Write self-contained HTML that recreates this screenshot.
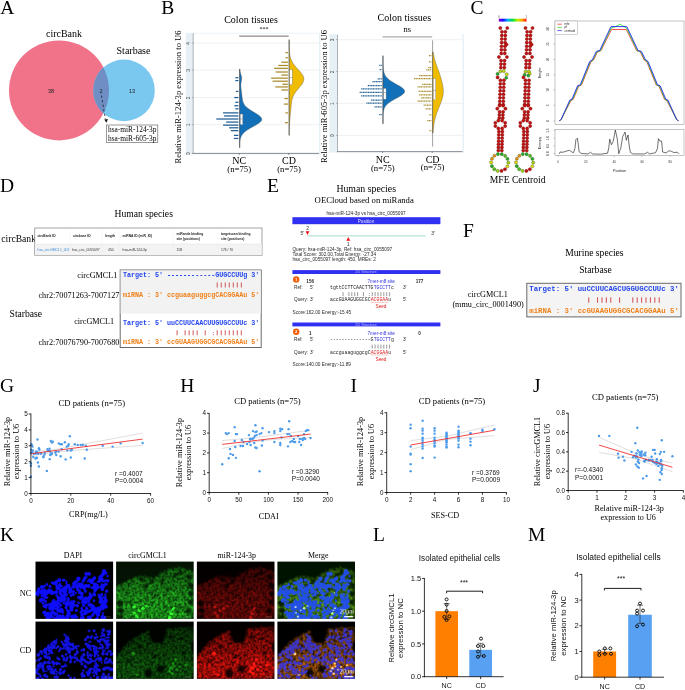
<!DOCTYPE html>
<html><head><meta charset="utf-8"><title>Figure</title>
<style>html,body{margin:0;padding:0;background:#fff;}svg{display:block;will-change:transform;}text{white-space:pre;}</style>
</head><body>
<svg width="685" height="690" viewBox="0 0 685 690">
<rect width="685" height="690" fill="#fff"/>
<text x="0.20" y="14.00" font-family="Liberation Serif" font-size="19.5" text-anchor="start" fill="#000">A</text>
<text x="161.20" y="14.00" font-family="Liberation Serif" font-size="19.5" text-anchor="start" fill="#000">B</text>
<text x="470.40" y="14.00" font-family="Liberation Serif" font-size="19.5" text-anchor="start" fill="#000">C</text>
<circle cx="59" cy="90.4" r="50" fill="#F0738A"/>
<circle cx="124" cy="90.4" r="30.8" fill="#7AC8F0"/>
<clipPath id="cpA"><circle cx="59" cy="90.4" r="50"/></clipPath>
<circle cx="124" cy="90.4" r="30.8" fill="#6F8FC4" clip-path="url(#cpA)"/>
<text x="64.00" y="37.00" font-family="Liberation Serif" font-size="10" text-anchor="middle" fill="#000">circBank</text>
<text x="133.50" y="54.00" font-family="Liberation Serif" font-size="10" text-anchor="middle" fill="#000">Starbase</text>
<text x="51.00" y="93.00" font-family="Liberation Sans" font-size="5.6" text-anchor="middle" fill="#222">38</text>
<text x="101.00" y="93.00" font-family="Liberation Sans" font-size="5.6" text-anchor="middle" fill="#222">2</text>
<text x="132.00" y="93.00" font-family="Liberation Sans" font-size="5.6" text-anchor="middle" fill="#222">13</text>
<path d="M101.5 95.5 L105.3 119" stroke="#111" stroke-width="0.7" stroke-dasharray="2.4 2.2" fill="none"/>
<path d="M104.3 119.5 L107.9 119.1 L106.4 122.8 Z" fill="#111"/>
<rect x="106.30" y="125.00" width="51.50" height="17.30" fill="#fff" stroke="#555" stroke-width="0.6"/>
<text x="108.00" y="132.40" font-family="Liberation Serif" font-size="7.4" text-anchor="start" fill="#000">hsa-miR-124-3p</text>
<text x="108.00" y="141.00" font-family="Liberation Serif" font-size="7.4" text-anchor="start" fill="#000">hsa-miR-605-3p</text>
<rect x="185.80" y="32.80" width="134.70" height="121.60" fill="#E6F0F5" stroke="none" stroke-width="1"/>
<rect x="193.00" y="33.60" width="126.00" height="119.80" fill="#fff" stroke="none" stroke-width="1"/>
<line x1="193.00" y1="43.00" x2="319.00" y2="43.00" stroke="#E4E6E8" stroke-width="0.6"/>
<text x="189.70" y="43.30" font-family="Liberation Sans" font-size="4.8" text-anchor="middle" fill="#444" transform="rotate(-90 189.70 43.30)">4</text>
<line x1="191.80" y1="43.00" x2="193.00" y2="43.00" stroke="#667" stroke-width="0.5"/>
<line x1="193.00" y1="70.00" x2="319.00" y2="70.00" stroke="#E4E6E8" stroke-width="0.6"/>
<text x="189.70" y="70.30" font-family="Liberation Sans" font-size="4.8" text-anchor="middle" fill="#444" transform="rotate(-90 189.70 70.30)">3</text>
<line x1="191.80" y1="70.00" x2="193.00" y2="70.00" stroke="#667" stroke-width="0.5"/>
<line x1="193.00" y1="97.60" x2="319.00" y2="97.60" stroke="#E4E6E8" stroke-width="0.6"/>
<text x="189.70" y="97.90" font-family="Liberation Sans" font-size="4.8" text-anchor="middle" fill="#444" transform="rotate(-90 189.70 97.90)">2</text>
<line x1="191.80" y1="97.60" x2="193.00" y2="97.60" stroke="#667" stroke-width="0.5"/>
<line x1="193.00" y1="124.60" x2="319.00" y2="124.60" stroke="#E4E6E8" stroke-width="0.6"/>
<text x="189.70" y="124.90" font-family="Liberation Sans" font-size="4.8" text-anchor="middle" fill="#444" transform="rotate(-90 189.70 124.90)">1</text>
<line x1="191.80" y1="124.60" x2="193.00" y2="124.60" stroke="#667" stroke-width="0.5"/>
<line x1="193.00" y1="153.40" x2="319.00" y2="153.40" stroke="#E4E6E8" stroke-width="0.6"/>
<text x="189.70" y="153.70" font-family="Liberation Sans" font-size="4.8" text-anchor="middle" fill="#444" transform="rotate(-90 189.70 153.70)">0</text>
<line x1="191.80" y1="153.40" x2="193.00" y2="153.40" stroke="#667" stroke-width="0.5"/>
<line x1="193.20" y1="33.30" x2="193.20" y2="153.40" stroke="#70787E" stroke-width="0.55"/>
<line x1="192.70" y1="153.40" x2="319.00" y2="153.40" stroke="#59626A" stroke-width="0.7"/>
<line x1="239.20" y1="153.40" x2="239.20" y2="154.90" stroke="#3C4650" stroke-width="0.6"/>
<line x1="288.70" y1="153.40" x2="288.70" y2="154.90" stroke="#3C4650" stroke-width="0.6"/>
<line x1="239.20" y1="36.10" x2="288.70" y2="36.10" stroke="#3A2C2A" stroke-width="0.7"/>
<text x="263.95" y="31.30" font-family="Liberation Serif" font-size="6" text-anchor="middle" fill="#000">***</text>
<path d="M239.60 69.00 L239.90 69.00 L239.97 69.98 L240.08 70.97 L240.24 71.95 L240.47 72.94 L240.74 73.92 L241.04 74.90 L241.33 75.89 L241.56 76.87 L241.69 77.85 L241.70 78.84 L241.61 79.82 L241.44 80.80 L241.25 81.79 L241.08 82.77 L240.95 83.76 L240.89 84.74 L240.89 85.72 L240.93 86.71 L241.01 87.69 L241.11 88.67 L241.22 89.66 L241.34 90.64 L241.46 91.63 L241.58 92.61 L241.69 93.59 L241.80 94.58 L241.91 95.56 L242.03 96.54 L242.15 97.53 L242.29 98.51 L242.45 99.50 L242.65 100.48 L242.91 101.46 L243.25 102.45 L243.68 103.43 L244.22 104.41 L244.91 105.40 L245.75 106.38 L246.75 107.37 L247.93 108.35 L249.27 109.33 L250.75 110.32 L252.34 111.30 L253.99 112.28 L255.65 113.27 L257.24 114.25 L258.69 115.24 L259.92 116.22 L260.88 117.20 L261.51 118.19 L261.76 119.17 L261.62 120.16 L261.10 121.14 L260.21 122.12 L259.01 123.11 L257.55 124.09 L255.90 125.07 L254.13 126.06 L252.33 127.04 L250.55 128.02 L248.86 129.01 L247.29 129.99 L245.88 130.98 L244.64 131.96 L243.59 132.94 L242.71 133.93 L241.99 134.91 L241.42 135.89 L240.98 136.88 L240.64 137.86 L240.39 138.85 L240.20 139.83 L240.07 140.81 L239.98 141.80 L239.92 142.78 L239.87 143.76 L239.85 144.75 L239.83 145.73 L239.82 146.72 L239.81 147.70 L239.60 147.70 Z" fill="#1270B8" stroke="#555" stroke-width="0.4"/>
<line x1="239.60" y1="69.00" x2="239.60" y2="147.70" stroke="#444" stroke-width="0.5"/>
<path d="M289.10 39.70 L289.30 39.70 L289.30 40.90 L289.31 42.09 L289.31 43.29 L289.32 44.48 L289.33 45.68 L289.35 46.88 L289.37 48.07 L289.41 49.27 L289.46 50.47 L289.53 51.66 L289.63 52.86 L289.76 54.06 L289.94 55.25 L290.17 56.45 L290.46 57.64 L290.83 58.84 L291.28 60.04 L291.82 61.23 L292.47 62.43 L293.21 63.62 L294.06 64.82 L295.00 66.02 L296.02 67.21 L297.09 68.41 L298.20 69.61 L299.30 70.80 L300.36 72.00 L301.34 73.19 L302.21 74.39 L302.92 75.59 L303.44 76.78 L303.76 77.98 L303.85 79.18 L303.73 80.37 L303.38 81.57 L302.84 82.77 L302.13 83.96 L301.28 85.16 L300.33 86.35 L299.32 87.55 L298.29 88.75 L297.28 89.94 L296.32 91.14 L295.43 92.34 L294.63 93.53 L293.93 94.73 L293.33 95.92 L292.82 97.12 L292.41 98.32 L292.09 99.51 L291.82 100.71 L291.62 101.91 L291.45 103.10 L291.31 104.30 L291.19 105.49 L291.08 106.69 L290.98 107.89 L290.87 109.08 L290.76 110.28 L290.64 111.48 L290.52 112.67 L290.40 113.87 L290.28 115.06 L290.16 116.26 L290.04 117.46 L289.93 118.65 L289.83 119.85 L289.74 121.05 L289.66 122.24 L289.59 123.44 L289.53 124.63 L289.48 125.83 L289.44 127.03 L289.41 128.22 L289.38 129.42 L289.36 130.62 L289.34 131.81 L289.33 133.01 L289.32 134.20 L289.32 135.40 L289.10 135.40 Z" fill="#F0BC00" stroke="#555" stroke-width="0.4"/>
<line x1="289.10" y1="39.70" x2="289.10" y2="135.40" stroke="#444" stroke-width="0.5"/>
<line x1="235.33" y1="77.73" x2="238.40" y2="77.73" stroke="#1F5E96" stroke-width="1.25"/>
<line x1="235.33" y1="80.59" x2="238.40" y2="80.59" stroke="#1F5E96" stroke-width="1.25"/>
<line x1="235.95" y1="91.42" x2="238.40" y2="91.42" stroke="#1F5E96" stroke-width="1.25"/>
<line x1="234.31" y1="97.55" x2="238.40" y2="97.55" stroke="#1F5E96" stroke-width="1.25"/>
<line x1="235.33" y1="102.25" x2="238.40" y2="102.25" stroke="#1F5E96" stroke-width="1.25"/>
<line x1="234.31" y1="105.73" x2="238.40" y2="105.73" stroke="#1F5E96" stroke-width="1.25"/>
<line x1="235.33" y1="108.79" x2="238.40" y2="108.79" stroke="#1F5E96" stroke-width="1.25"/>
<line x1="223.07" y1="112.88" x2="238.40" y2="112.88" stroke="#1F5E96" stroke-width="1.25"/>
<line x1="224.09" y1="115.95" x2="238.40" y2="115.95" stroke="#1F5E96" stroke-width="1.25"/>
<line x1="216.33" y1="119.01" x2="238.40" y2="119.01" stroke="#1F5E96" stroke-width="1.25"/>
<line x1="226.14" y1="122.08" x2="238.40" y2="122.08" stroke="#1F5E96" stroke-width="1.25"/>
<line x1="223.07" y1="125.14" x2="238.40" y2="125.14" stroke="#1F5E96" stroke-width="1.25"/>
<line x1="229.20" y1="127.80" x2="238.40" y2="127.80" stroke="#1F5E96" stroke-width="1.25"/>
<line x1="230.84" y1="130.66" x2="238.40" y2="130.66" stroke="#1F5E96" stroke-width="1.25"/>
<line x1="233.90" y1="135.36" x2="238.40" y2="135.36" stroke="#1F5E96" stroke-width="1.25"/>
<line x1="233.90" y1="138.43" x2="238.40" y2="138.43" stroke="#1F5E96" stroke-width="1.25"/>
<line x1="285.45" y1="52.59" x2="287.90" y2="52.59" stroke="#A88C2A" stroke-width="1.25"/>
<line x1="285.45" y1="57.70" x2="287.90" y2="57.70" stroke="#A88C2A" stroke-width="1.25"/>
<line x1="281.36" y1="62.20" x2="287.90" y2="62.20" stroke="#A88C2A" stroke-width="1.25"/>
<line x1="278.29" y1="65.47" x2="287.90" y2="65.47" stroke="#A88C2A" stroke-width="1.25"/>
<line x1="274.21" y1="68.33" x2="287.90" y2="68.33" stroke="#A88C2A" stroke-width="1.25"/>
<line x1="275.64" y1="72.01" x2="287.90" y2="72.01" stroke="#A88C2A" stroke-width="1.25"/>
<line x1="281.36" y1="75.07" x2="287.90" y2="75.07" stroke="#A88C2A" stroke-width="1.25"/>
<line x1="271.14" y1="78.14" x2="287.90" y2="78.14" stroke="#A88C2A" stroke-width="1.25"/>
<line x1="272.57" y1="81.20" x2="287.90" y2="81.20" stroke="#A88C2A" stroke-width="1.25"/>
<line x1="282.38" y1="84.27" x2="287.90" y2="84.27" stroke="#A88C2A" stroke-width="1.25"/>
<line x1="275.23" y1="86.93" x2="287.90" y2="86.93" stroke="#A88C2A" stroke-width="1.25"/>
<line x1="281.36" y1="89.99" x2="287.90" y2="89.99" stroke="#A88C2A" stroke-width="1.25"/>
<line x1="284.43" y1="98.57" x2="287.90" y2="98.57" stroke="#A88C2A" stroke-width="1.25"/>
<line x1="283.81" y1="104.09" x2="287.90" y2="104.09" stroke="#A88C2A" stroke-width="1.25"/>
<line x1="285.45" y1="112.88" x2="287.90" y2="112.88" stroke="#A88C2A" stroke-width="1.25"/>
<line x1="285.04" y1="122.69" x2="287.90" y2="122.69" stroke="#A88C2A" stroke-width="1.25"/>
<rect x="240.20" y="114.00" width="2.60" height="10.60" fill="#fff" stroke="#666" stroke-width="0.35"/>
<line x1="240.20" y1="119.00" x2="242.80" y2="119.00" stroke="#666" stroke-width="0.4"/>
<rect x="289.70" y="69.60" width="2.60" height="15.10" fill="#fff" stroke="#666" stroke-width="0.35"/>
<line x1="289.70" y1="77.50" x2="292.30" y2="77.50" stroke="#666" stroke-width="0.4"/>
<text x="251.00" y="23.20" font-family="Liberation Serif" font-size="10" text-anchor="middle" fill="#000">Colon tissues</text>
<text x="181.30" y="97.00" font-family="Liberation Serif" font-size="8.6" text-anchor="middle" fill="#000" transform="rotate(-90 181.30 97.00)">Relative miR-124-3p expression to U6</text>
<text x="239.20" y="163.80" font-family="Liberation Serif" font-size="10" text-anchor="middle" fill="#000">NC</text>
<text x="239.20" y="171.60" font-family="Liberation Serif" font-size="8.7" text-anchor="middle" fill="#000">(n=75)</text>
<text x="289.00" y="163.80" font-family="Liberation Serif" font-size="10" text-anchor="middle" fill="#000">CD</text>
<text x="289.00" y="172.20" font-family="Liberation Serif" font-size="8.7" text-anchor="middle" fill="#000">(n=75)</text>
<rect x="329.20" y="34.30" width="134.80" height="118.30" fill="#E6F0F5" stroke="none" stroke-width="1"/>
<rect x="337.30" y="34.20" width="125.20" height="117.40" fill="#fff" stroke="none" stroke-width="1"/>
<line x1="337.30" y1="39.70" x2="462.50" y2="39.70" stroke="#E4E6E8" stroke-width="0.6"/>
<text x="334.00" y="40.00" font-family="Liberation Sans" font-size="4.8" text-anchor="middle" fill="#444" transform="rotate(-90 334.00 40.00)">3</text>
<line x1="336.10" y1="39.70" x2="337.30" y2="39.70" stroke="#667" stroke-width="0.5"/>
<line x1="337.30" y1="71.60" x2="462.50" y2="71.60" stroke="#E4E6E8" stroke-width="0.6"/>
<text x="334.00" y="71.90" font-family="Liberation Sans" font-size="4.8" text-anchor="middle" fill="#444" transform="rotate(-90 334.00 71.90)">2</text>
<line x1="336.10" y1="71.60" x2="337.30" y2="71.60" stroke="#667" stroke-width="0.5"/>
<line x1="337.30" y1="103.30" x2="462.50" y2="103.30" stroke="#E4E6E8" stroke-width="0.6"/>
<text x="334.00" y="103.60" font-family="Liberation Sans" font-size="4.8" text-anchor="middle" fill="#444" transform="rotate(-90 334.00 103.60)">1</text>
<line x1="336.10" y1="103.30" x2="337.30" y2="103.30" stroke="#667" stroke-width="0.5"/>
<line x1="337.30" y1="135.40" x2="462.50" y2="135.40" stroke="#E4E6E8" stroke-width="0.6"/>
<text x="334.00" y="135.70" font-family="Liberation Sans" font-size="4.8" text-anchor="middle" fill="#444" transform="rotate(-90 334.00 135.70)">0</text>
<line x1="336.10" y1="135.40" x2="337.30" y2="135.40" stroke="#667" stroke-width="0.5"/>
<line x1="337.50" y1="34.80" x2="337.50" y2="151.60" stroke="#70787E" stroke-width="0.55"/>
<line x1="337.00" y1="151.60" x2="462.50" y2="151.60" stroke="#59626A" stroke-width="0.7"/>
<line x1="382.50" y1="151.60" x2="382.50" y2="153.10" stroke="#3C4650" stroke-width="0.6"/>
<line x1="432.20" y1="151.60" x2="432.20" y2="153.10" stroke="#3C4650" stroke-width="0.6"/>
<line x1="382.50" y1="36.90" x2="432.20" y2="36.90" stroke="#ABABAB" stroke-width="1.3"/>
<text x="407.35" y="31.70" font-family="Liberation Serif" font-size="8.5" text-anchor="middle" fill="#000">ns</text>
<path d="M382.90 55.70 L383.10 55.70 L383.10 56.55 L383.10 57.40 L383.10 58.25 L383.10 59.11 L383.11 59.96 L383.11 60.81 L383.12 61.66 L383.12 62.51 L383.13 63.36 L383.15 64.21 L383.17 65.06 L383.19 65.92 L383.23 66.77 L383.27 67.62 L383.33 68.47 L383.41 69.32 L383.52 70.17 L383.66 71.02 L383.83 71.87 L384.06 72.72 L384.34 73.58 L384.68 74.43 L385.11 75.28 L385.64 76.13 L386.26 76.98 L387.01 77.83 L387.87 78.68 L388.87 79.53 L389.99 80.39 L391.23 81.24 L392.59 82.09 L394.03 82.94 L395.53 83.79 L397.06 84.64 L398.57 85.49 L400.01 86.34 L401.33 87.20 L402.49 88.05 L403.44 88.90 L404.14 89.75 L404.55 90.60 L404.66 91.45 L404.47 92.30 L403.97 93.16 L403.19 94.01 L402.16 94.86 L400.93 95.71 L399.53 96.56 L398.02 97.41 L396.46 98.26 L394.88 99.11 L393.34 99.97 L391.87 100.82 L390.50 101.67 L389.25 102.52 L388.14 103.37 L387.17 104.22 L386.34 105.07 L385.64 105.92 L385.06 106.78 L384.59 107.63 L384.22 108.48 L383.93 109.33 L383.70 110.18 L383.53 111.03 L383.41 111.88 L383.31 112.73 L383.25 113.58 L383.20 114.44 L383.17 115.29 L383.14 116.14 L383.13 116.99 L383.12 117.84 L383.11 118.69 L383.11 119.54 L383.10 120.39 L383.10 121.25 L383.10 122.10 L383.10 122.95 L383.10 123.80 L382.90 123.80 Z" fill="#1270B8" stroke="#555" stroke-width="0.4"/>
<line x1="382.90" y1="55.70" x2="382.90" y2="123.80" stroke="#444" stroke-width="0.5"/>
<path d="M432.60 52.00 L433.33 52.00 L433.44 53.01 L433.57 54.02 L433.72 55.04 L433.90 56.05 L434.10 57.06 L434.32 58.08 L434.57 59.09 L434.85 60.10 L435.15 61.11 L435.47 62.12 L435.81 63.14 L436.16 64.15 L436.53 65.16 L436.90 66.17 L437.28 67.19 L437.65 68.20 L438.03 69.21 L438.39 70.22 L438.75 71.24 L439.10 72.25 L439.44 73.26 L439.76 74.28 L440.08 75.29 L440.39 76.30 L440.69 77.31 L440.99 78.33 L441.28 79.34 L441.56 80.35 L441.83 81.36 L442.08 82.38 L442.33 83.39 L442.55 84.40 L442.76 85.41 L442.93 86.42 L443.08 87.44 L443.20 88.45 L443.29 89.46 L443.33 90.47 L443.34 91.49 L443.31 92.50 L443.23 93.51 L443.12 94.53 L442.96 95.54 L442.76 96.55 L442.53 97.56 L442.26 98.58 L441.97 99.59 L441.64 100.60 L441.29 101.61 L440.92 102.62 L440.53 103.64 L440.13 104.65 L439.72 105.66 L439.30 106.67 L438.89 107.69 L438.47 108.70 L438.06 109.71 L437.67 110.72 L437.28 111.74 L436.90 112.75 L436.54 113.76 L436.20 114.78 L435.88 115.79 L435.57 116.80 L435.29 117.81 L435.02 118.83 L434.77 119.84 L434.55 120.85 L434.34 121.86 L434.15 122.88 L433.98 123.89 L433.83 124.90 L433.69 125.91 L433.57 126.92 L433.46 127.94 L433.37 128.95 L433.28 129.96 L433.21 130.97 L433.15 131.99 L433.09 133.00 L432.60 133.00 Z" fill="#F0BC00" stroke="#555" stroke-width="0.4"/>
<line x1="432.60" y1="40.30" x2="432.60" y2="146.70" stroke="#444" stroke-width="0.5"/>
<line x1="379.25" y1="65.47" x2="381.70" y2="65.47" stroke="#1F5E96" stroke-width="1.25" stroke-dasharray="1.2 0.45"/>
<line x1="379.66" y1="69.55" x2="381.70" y2="69.55" stroke="#1F5E96" stroke-width="1.25" stroke-dasharray="1.2 0.45"/>
<line x1="377.61" y1="78.75" x2="381.70" y2="78.75" stroke="#1F5E96" stroke-width="1.25" stroke-dasharray="1.2 0.45"/>
<line x1="372.50" y1="81.61" x2="381.70" y2="81.61" stroke="#1F5E96" stroke-width="1.25" stroke-dasharray="1.2 0.45"/>
<line x1="367.80" y1="85.70" x2="381.70" y2="85.70" stroke="#1F5E96" stroke-width="1.25" stroke-dasharray="1.2 0.45"/>
<line x1="361.26" y1="88.97" x2="381.70" y2="88.97" stroke="#1F5E96" stroke-width="1.25" stroke-dasharray="1.2 0.45"/>
<line x1="359.63" y1="92.44" x2="381.70" y2="92.44" stroke="#1F5E96" stroke-width="1.25" stroke-dasharray="1.2 0.45"/>
<line x1="361.26" y1="95.92" x2="381.70" y2="95.92" stroke="#1F5E96" stroke-width="1.25" stroke-dasharray="1.2 0.45"/>
<line x1="371.07" y1="100.01" x2="381.70" y2="100.01" stroke="#1F5E96" stroke-width="1.25" stroke-dasharray="1.2 0.45"/>
<line x1="366.37" y1="103.07" x2="381.70" y2="103.07" stroke="#1F5E96" stroke-width="1.25" stroke-dasharray="1.2 0.45"/>
<line x1="374.55" y1="106.75" x2="381.70" y2="106.75" stroke="#1F5E96" stroke-width="1.25" stroke-dasharray="1.2 0.45"/>
<line x1="379.25" y1="114.52" x2="381.70" y2="114.52" stroke="#1F5E96" stroke-width="1.25" stroke-dasharray="1.2 0.45"/>
<line x1="428.95" y1="55.66" x2="431.40" y2="55.66" stroke="#A88C2A" stroke-width="1.25" stroke-dasharray="1.2 0.45"/>
<line x1="428.95" y1="61.79" x2="431.40" y2="61.79" stroke="#A88C2A" stroke-width="1.25" stroke-dasharray="1.2 0.45"/>
<line x1="428.33" y1="67.51" x2="431.40" y2="67.51" stroke="#A88C2A" stroke-width="1.25" stroke-dasharray="1.2 0.45"/>
<line x1="426.29" y1="69.96" x2="431.40" y2="69.96" stroke="#A88C2A" stroke-width="1.25" stroke-dasharray="1.2 0.45"/>
<line x1="419.14" y1="75.68" x2="431.40" y2="75.68" stroke="#A88C2A" stroke-width="1.25" stroke-dasharray="1.2 0.45"/>
<line x1="414.03" y1="78.55" x2="431.40" y2="78.55" stroke="#A88C2A" stroke-width="1.25" stroke-dasharray="1.2 0.45"/>
<line x1="422.20" y1="84.27" x2="431.40" y2="84.27" stroke="#A88C2A" stroke-width="1.25" stroke-dasharray="1.2 0.45"/>
<line x1="417.50" y1="86.93" x2="431.40" y2="86.93" stroke="#A88C2A" stroke-width="1.25" stroke-dasharray="1.2 0.45"/>
<line x1="418.73" y1="91.42" x2="431.40" y2="91.42" stroke="#A88C2A" stroke-width="1.25" stroke-dasharray="1.2 0.45"/>
<line x1="419.14" y1="94.90" x2="431.40" y2="94.90" stroke="#A88C2A" stroke-width="1.25" stroke-dasharray="1.2 0.45"/>
<line x1="421.18" y1="97.96" x2="431.40" y2="97.96" stroke="#A88C2A" stroke-width="1.25" stroke-dasharray="1.2 0.45"/>
<line x1="417.50" y1="101.23" x2="431.40" y2="101.23" stroke="#A88C2A" stroke-width="1.25" stroke-dasharray="1.2 0.45"/>
<line x1="423.63" y1="105.11" x2="431.40" y2="105.11" stroke="#A88C2A" stroke-width="1.25" stroke-dasharray="1.2 0.45"/>
<line x1="425.68" y1="108.79" x2="431.40" y2="108.79" stroke="#A88C2A" stroke-width="1.25" stroke-dasharray="1.2 0.45"/>
<line x1="429.36" y1="114.92" x2="431.40" y2="114.92" stroke="#A88C2A" stroke-width="1.25" stroke-dasharray="1.2 0.45"/>
<line x1="427.31" y1="120.65" x2="431.40" y2="120.65" stroke="#A88C2A" stroke-width="1.25" stroke-dasharray="1.2 0.45"/>
<line x1="429.36" y1="130.66" x2="431.40" y2="130.66" stroke="#A88C2A" stroke-width="1.25" stroke-dasharray="1.2 0.45"/>
<rect x="383.50" y="88.40" width="2.60" height="10.80" fill="#fff" stroke="#666" stroke-width="0.35"/>
<line x1="383.50" y1="92.50" x2="386.10" y2="92.50" stroke="#666" stroke-width="0.4"/>
<rect x="433.20" y="78.50" width="2.60" height="21.10" fill="#fff" stroke="#666" stroke-width="0.35"/>
<line x1="433.20" y1="90.50" x2="435.80" y2="90.50" stroke="#666" stroke-width="0.4"/>
<text x="404.40" y="21.30" font-family="Liberation Serif" font-size="10" text-anchor="middle" fill="#000">Colon tissues</text>
<text x="327.20" y="96.50" font-family="Liberation Serif" font-size="8.6" text-anchor="middle" fill="#000" transform="rotate(-90 327.20 96.50)">Relative miR-605-3p expression to U6</text>
<text x="382.80" y="162.60" font-family="Liberation Serif" font-size="10" text-anchor="middle" fill="#000">NC</text>
<text x="382.80" y="170.60" font-family="Liberation Serif" font-size="8.7" text-anchor="middle" fill="#000">(n=75)</text>
<text x="432.60" y="162.60" font-family="Liberation Serif" font-size="10" text-anchor="middle" fill="#000">CD</text>
<text x="432.60" y="169.60" font-family="Liberation Serif" font-size="8.7" text-anchor="middle" fill="#000">(n=75)</text>
<defs><linearGradient id="rb" x1="0" x2="1" y1="0" y2="0"><stop offset="0" stop-color="#9000E0"/><stop offset="0.14" stop-color="#2000FF"/><stop offset="0.32" stop-color="#00B0FF"/><stop offset="0.5" stop-color="#00E040"/><stop offset="0.68" stop-color="#C0F000"/><stop offset="0.84" stop-color="#FFA000"/><stop offset="1" stop-color="#FF1000"/></linearGradient></defs>
<rect x="498.80" y="18.70" width="27.70" height="2.90" fill="url(#rb)" stroke="none" stroke-width="1"/>
<text x="499.00" y="18.20" font-family="Liberation Sans" font-size="2.6" text-anchor="middle" fill="#333">0</text>
<text x="526.30" y="18.20" font-family="Liberation Sans" font-size="2.6" text-anchor="middle" fill="#333">1</text>
<circle cx="500.30" cy="28.00" r="1.55" fill="#C41212" stroke="#7E0606" stroke-width="0.45"/>
<circle cx="507.30" cy="28.00" r="1.55" fill="#C41212" stroke="#7E0606" stroke-width="0.45"/>
<circle cx="501.93" cy="31.80" r="1.55" fill="#C41212" stroke="#7E0606" stroke-width="0.45"/>
<circle cx="505.43" cy="31.80" r="1.55" fill="#C41212" stroke="#7E0606" stroke-width="0.45"/>
<circle cx="501.82" cy="35.40" r="1.55" fill="#C41212" stroke="#7E0606" stroke-width="0.45"/>
<circle cx="505.32" cy="35.40" r="1.55" fill="#C41212" stroke="#7E0606" stroke-width="0.45"/>
<circle cx="501.71" cy="39.00" r="1.55" fill="#C41212" stroke="#7E0606" stroke-width="0.45"/>
<circle cx="505.21" cy="39.00" r="1.55" fill="#C41212" stroke="#7E0606" stroke-width="0.45"/>
<circle cx="501.60" cy="42.60" r="1.55" fill="#C41212" stroke="#7E0606" stroke-width="0.45"/>
<circle cx="505.10" cy="42.60" r="1.55" fill="#C41212" stroke="#7E0606" stroke-width="0.45"/>
<circle cx="501.50" cy="46.20" r="1.55" fill="#C41212" stroke="#7E0606" stroke-width="0.45"/>
<circle cx="505.00" cy="46.20" r="1.55" fill="#C41212" stroke="#7E0606" stroke-width="0.45"/>
<circle cx="501.39" cy="49.80" r="1.55" fill="#C41212" stroke="#7E0606" stroke-width="0.45"/>
<circle cx="504.89" cy="49.80" r="1.55" fill="#C41212" stroke="#7E0606" stroke-width="0.45"/>
<circle cx="501.28" cy="53.40" r="1.55" fill="#C41212" stroke="#7E0606" stroke-width="0.45"/>
<circle cx="504.78" cy="53.40" r="1.55" fill="#C41212" stroke="#7E0606" stroke-width="0.45"/>
<circle cx="506.50" cy="44.50" r="1.55" fill="#C41212" stroke="#7E0606" stroke-width="0.45"/>
<circle cx="498.92" cy="57.00" r="1.55" fill="#C41212" stroke="#7E0606" stroke-width="0.45"/>
<circle cx="506.92" cy="57.00" r="1.55" fill="#C41212" stroke="#7E0606" stroke-width="0.45"/>
<circle cx="501.06" cy="60.60" r="1.55" fill="#C41212" stroke="#7E0606" stroke-width="0.45"/>
<circle cx="504.56" cy="60.60" r="1.55" fill="#C41212" stroke="#7E0606" stroke-width="0.45"/>
<circle cx="500.95" cy="64.10" r="1.55" fill="#C41212" stroke="#7E0606" stroke-width="0.45"/>
<circle cx="504.45" cy="64.10" r="1.55" fill="#C41212" stroke="#7E0606" stroke-width="0.45"/>
<circle cx="500.84" cy="67.60" r="1.55" fill="#C41212" stroke="#7E0606" stroke-width="0.45"/>
<circle cx="504.34" cy="67.60" r="1.55" fill="#C41212" stroke="#7E0606" stroke-width="0.45"/>
<circle cx="500.48" cy="71.30" r="1.55" fill="#B8D818" stroke="#4A5A10" stroke-width="0.45"/>
<circle cx="503.78" cy="71.00" r="1.55" fill="#C8DC10" stroke="#4A5A10" stroke-width="0.45"/>
<circle cx="506.68" cy="74.20" r="1.55" fill="#D0E010" stroke="#4A5A10" stroke-width="0.45"/>
<circle cx="497.58" cy="73.90" r="1.55" fill="#18A838" stroke="#4A5A10" stroke-width="0.45"/>
<circle cx="497.58" cy="77.40" r="1.55" fill="#C41212" stroke="#7E0606" stroke-width="0.45"/>
<circle cx="506.28" cy="77.80" r="1.55" fill="#18B040" stroke="#4A5A10" stroke-width="0.45"/>
<circle cx="500.46" cy="80.30" r="1.55" fill="#C41212" stroke="#7E0606" stroke-width="0.45"/>
<circle cx="503.96" cy="80.30" r="1.55" fill="#C41212" stroke="#7E0606" stroke-width="0.45"/>
<circle cx="500.35" cy="83.80" r="1.55" fill="#C41212" stroke="#7E0606" stroke-width="0.45"/>
<circle cx="503.85" cy="83.80" r="1.55" fill="#C41212" stroke="#7E0606" stroke-width="0.45"/>
<circle cx="500.24" cy="87.30" r="1.55" fill="#C41212" stroke="#7E0606" stroke-width="0.45"/>
<circle cx="503.74" cy="87.30" r="1.55" fill="#C41212" stroke="#7E0606" stroke-width="0.45"/>
<circle cx="500.14" cy="90.80" r="1.55" fill="#C41212" stroke="#7E0606" stroke-width="0.45"/>
<circle cx="503.64" cy="90.80" r="1.55" fill="#C41212" stroke="#7E0606" stroke-width="0.45"/>
<circle cx="500.03" cy="94.30" r="1.55" fill="#C41212" stroke="#7E0606" stroke-width="0.45"/>
<circle cx="503.53" cy="94.30" r="1.55" fill="#C41212" stroke="#7E0606" stroke-width="0.45"/>
<circle cx="499.92" cy="97.80" r="1.55" fill="#C41212" stroke="#7E0606" stroke-width="0.45"/>
<circle cx="503.42" cy="97.80" r="1.55" fill="#C41212" stroke="#7E0606" stroke-width="0.45"/>
<circle cx="499.82" cy="101.30" r="1.55" fill="#C41212" stroke="#7E0606" stroke-width="0.45"/>
<circle cx="503.32" cy="101.30" r="1.55" fill="#C41212" stroke="#7E0606" stroke-width="0.45"/>
<circle cx="499.71" cy="104.60" r="1.55" fill="#C41212" stroke="#7E0606" stroke-width="0.45"/>
<circle cx="503.21" cy="104.60" r="1.55" fill="#C41212" stroke="#7E0606" stroke-width="0.45"/>
<circle cx="499.59" cy="105.60" r="1.55" fill="#C41212" stroke="#7E0606" stroke-width="0.45"/>
<circle cx="503.09" cy="105.60" r="1.55" fill="#C41212" stroke="#7E0606" stroke-width="0.45"/>
<circle cx="497.24" cy="108.60" r="1.55" fill="#C41212" stroke="#7E0606" stroke-width="0.45"/>
<circle cx="505.44" cy="108.60" r="1.55" fill="#C41212" stroke="#7E0606" stroke-width="0.45"/>
<circle cx="499.59" cy="111.80" r="1.55" fill="#C41212" stroke="#7E0606" stroke-width="0.45"/>
<circle cx="503.09" cy="111.80" r="1.55" fill="#C41212" stroke="#7E0606" stroke-width="0.45"/>
<circle cx="499.40" cy="114.80" r="1.55" fill="#C41212" stroke="#7E0606" stroke-width="0.45"/>
<circle cx="502.90" cy="114.80" r="1.55" fill="#C41212" stroke="#7E0606" stroke-width="0.45"/>
<circle cx="499.31" cy="117.90" r="1.55" fill="#C41212" stroke="#7E0606" stroke-width="0.45"/>
<circle cx="502.81" cy="117.90" r="1.55" fill="#C41212" stroke="#7E0606" stroke-width="0.45"/>
<circle cx="498.37" cy="120.60" r="1.55" fill="#C41212" stroke="#7E0606" stroke-width="0.45"/>
<circle cx="502.17" cy="120.60" r="1.55" fill="#C41212" stroke="#7E0606" stroke-width="0.45"/>
<circle cx="495.37" cy="122.80" r="1.55" fill="#C41212" stroke="#7E0606" stroke-width="0.45"/>
<circle cx="505.17" cy="122.80" r="1.55" fill="#C41212" stroke="#7E0606" stroke-width="0.45"/>
<circle cx="495.37" cy="126.10" r="1.55" fill="#C41212" stroke="#7E0606" stroke-width="0.45"/>
<circle cx="505.17" cy="126.10" r="1.55" fill="#C41212" stroke="#7E0606" stroke-width="0.45"/>
<circle cx="498.37" cy="128.40" r="1.55" fill="#C41212" stroke="#7E0606" stroke-width="0.45"/>
<circle cx="502.17" cy="128.40" r="1.55" fill="#C41212" stroke="#7E0606" stroke-width="0.45"/>
<circle cx="498.89" cy="131.60" r="1.55" fill="#C41212" stroke="#7E0606" stroke-width="0.45"/>
<circle cx="502.39" cy="131.60" r="1.55" fill="#C41212" stroke="#7E0606" stroke-width="0.45"/>
<circle cx="498.79" cy="134.80" r="1.55" fill="#C41212" stroke="#7E0606" stroke-width="0.45"/>
<circle cx="502.29" cy="134.80" r="1.55" fill="#C41212" stroke="#7E0606" stroke-width="0.45"/>
<circle cx="498.70" cy="138.00" r="1.55" fill="#C41212" stroke="#7E0606" stroke-width="0.45"/>
<circle cx="502.20" cy="138.00" r="1.55" fill="#C41212" stroke="#7E0606" stroke-width="0.45"/>
<circle cx="498.60" cy="141.20" r="1.55" fill="#C41212" stroke="#7E0606" stroke-width="0.45"/>
<circle cx="502.10" cy="141.20" r="1.55" fill="#C41212" stroke="#7E0606" stroke-width="0.45"/>
<circle cx="498.50" cy="144.30" r="1.55" fill="#C41212" stroke="#7E0606" stroke-width="0.45"/>
<circle cx="502.00" cy="144.30" r="1.55" fill="#C41212" stroke="#7E0606" stroke-width="0.45"/>
<circle cx="498.41" cy="147.40" r="1.55" fill="#C41212" stroke="#7E0606" stroke-width="0.45"/>
<circle cx="501.91" cy="147.40" r="1.55" fill="#C41212" stroke="#7E0606" stroke-width="0.45"/>
<circle cx="498.32" cy="150.50" r="1.55" fill="#C41212" stroke="#7E0606" stroke-width="0.45"/>
<circle cx="501.82" cy="150.50" r="1.55" fill="#C41212" stroke="#7E0606" stroke-width="0.45"/>
<circle cx="497.88" cy="154.09" r="1.55" fill="#18B030" stroke="#4A5A10" stroke-width="0.45"/>
<circle cx="501.71" cy="154.14" r="1.55" fill="#18B030" stroke="#4A5A10" stroke-width="0.45"/>
<circle cx="505.14" cy="155.84" r="1.55" fill="#50C820" stroke="#4A5A10" stroke-width="0.45"/>
<circle cx="507.49" cy="158.86" r="1.55" fill="#18B030" stroke="#4A5A10" stroke-width="0.45"/>
<circle cx="508.30" cy="162.60" r="1.55" fill="#A0D818" stroke="#4A5A10" stroke-width="0.45"/>
<circle cx="507.41" cy="166.32" r="1.55" fill="#E8E010" stroke="#4A5A10" stroke-width="0.45"/>
<circle cx="504.98" cy="169.28" r="1.55" fill="#C41212" stroke="#7E0606" stroke-width="0.45"/>
<circle cx="501.52" cy="170.91" r="1.55" fill="#C41212" stroke="#7E0606" stroke-width="0.45"/>
<circle cx="497.69" cy="170.86" r="1.55" fill="#A0D818" stroke="#4A5A10" stroke-width="0.45"/>
<circle cx="494.26" cy="169.16" r="1.55" fill="#50C820" stroke="#4A5A10" stroke-width="0.45"/>
<circle cx="491.91" cy="166.14" r="1.55" fill="#18B030" stroke="#4A5A10" stroke-width="0.45"/>
<circle cx="491.10" cy="162.40" r="1.55" fill="#E8E010" stroke="#4A5A10" stroke-width="0.45"/>
<circle cx="491.99" cy="158.68" r="1.55" fill="#F09010" stroke="#4A5A10" stroke-width="0.45"/>
<circle cx="494.42" cy="155.72" r="1.55" fill="#F09010" stroke="#4A5A10" stroke-width="0.45"/>
<circle cx="525.50" cy="28.00" r="1.55" fill="#C41212" stroke="#7E0606" stroke-width="0.45"/>
<circle cx="532.50" cy="28.00" r="1.55" fill="#C41212" stroke="#7E0606" stroke-width="0.45"/>
<circle cx="527.13" cy="31.80" r="1.55" fill="#C41212" stroke="#7E0606" stroke-width="0.45"/>
<circle cx="530.63" cy="31.80" r="1.55" fill="#C41212" stroke="#7E0606" stroke-width="0.45"/>
<circle cx="527.01" cy="35.40" r="1.55" fill="#C41212" stroke="#7E0606" stroke-width="0.45"/>
<circle cx="530.51" cy="35.40" r="1.55" fill="#C41212" stroke="#7E0606" stroke-width="0.45"/>
<circle cx="526.89" cy="39.00" r="1.55" fill="#C41212" stroke="#7E0606" stroke-width="0.45"/>
<circle cx="530.39" cy="39.00" r="1.55" fill="#C41212" stroke="#7E0606" stroke-width="0.45"/>
<circle cx="526.77" cy="42.60" r="1.55" fill="#C41212" stroke="#7E0606" stroke-width="0.45"/>
<circle cx="530.27" cy="42.60" r="1.55" fill="#C41212" stroke="#7E0606" stroke-width="0.45"/>
<circle cx="526.65" cy="46.20" r="1.55" fill="#C41212" stroke="#7E0606" stroke-width="0.45"/>
<circle cx="530.15" cy="46.20" r="1.55" fill="#C41212" stroke="#7E0606" stroke-width="0.45"/>
<circle cx="526.54" cy="49.80" r="1.55" fill="#C41212" stroke="#7E0606" stroke-width="0.45"/>
<circle cx="530.04" cy="49.80" r="1.55" fill="#C41212" stroke="#7E0606" stroke-width="0.45"/>
<circle cx="526.42" cy="53.40" r="1.55" fill="#C41212" stroke="#7E0606" stroke-width="0.45"/>
<circle cx="529.92" cy="53.40" r="1.55" fill="#C41212" stroke="#7E0606" stroke-width="0.45"/>
<circle cx="531.66" cy="44.50" r="1.55" fill="#C41212" stroke="#7E0606" stroke-width="0.45"/>
<circle cx="524.05" cy="57.00" r="1.55" fill="#C41212" stroke="#7E0606" stroke-width="0.45"/>
<circle cx="532.05" cy="57.00" r="1.55" fill="#C41212" stroke="#7E0606" stroke-width="0.45"/>
<circle cx="526.18" cy="60.60" r="1.55" fill="#C41212" stroke="#7E0606" stroke-width="0.45"/>
<circle cx="529.68" cy="60.60" r="1.55" fill="#C41212" stroke="#7E0606" stroke-width="0.45"/>
<circle cx="526.07" cy="64.10" r="1.55" fill="#C41212" stroke="#7E0606" stroke-width="0.45"/>
<circle cx="529.57" cy="64.10" r="1.55" fill="#C41212" stroke="#7E0606" stroke-width="0.45"/>
<circle cx="525.95" cy="67.60" r="1.55" fill="#C41212" stroke="#7E0606" stroke-width="0.45"/>
<circle cx="529.45" cy="67.60" r="1.55" fill="#C41212" stroke="#7E0606" stroke-width="0.45"/>
<circle cx="525.58" cy="71.50" r="1.55" fill="#B8D818" stroke="#4A5A10" stroke-width="0.45"/>
<circle cx="528.88" cy="71.50" r="1.55" fill="#C8DC10" stroke="#4A5A10" stroke-width="0.45"/>
<circle cx="529.68" cy="73.60" r="1.55" fill="#D0E010" stroke="#4A5A10" stroke-width="0.45"/>
<circle cx="524.58" cy="74.80" r="1.55" fill="#18A838" stroke="#4A5A10" stroke-width="0.45"/>
<circle cx="528.28" cy="75.60" r="1.55" fill="#18B040" stroke="#4A5A10" stroke-width="0.45"/>
<circle cx="523.48" cy="77.40" r="1.55" fill="#C41212" stroke="#7E0606" stroke-width="0.45"/>
<circle cx="525.54" cy="80.30" r="1.55" fill="#C41212" stroke="#7E0606" stroke-width="0.45"/>
<circle cx="529.04" cy="80.30" r="1.55" fill="#C41212" stroke="#7E0606" stroke-width="0.45"/>
<circle cx="525.42" cy="83.80" r="1.55" fill="#C41212" stroke="#7E0606" stroke-width="0.45"/>
<circle cx="528.92" cy="83.80" r="1.55" fill="#C41212" stroke="#7E0606" stroke-width="0.45"/>
<circle cx="525.31" cy="87.30" r="1.55" fill="#C41212" stroke="#7E0606" stroke-width="0.45"/>
<circle cx="528.81" cy="87.30" r="1.55" fill="#C41212" stroke="#7E0606" stroke-width="0.45"/>
<circle cx="525.20" cy="90.80" r="1.55" fill="#C41212" stroke="#7E0606" stroke-width="0.45"/>
<circle cx="528.70" cy="90.80" r="1.55" fill="#C41212" stroke="#7E0606" stroke-width="0.45"/>
<circle cx="525.08" cy="94.30" r="1.55" fill="#C41212" stroke="#7E0606" stroke-width="0.45"/>
<circle cx="528.58" cy="94.30" r="1.55" fill="#C41212" stroke="#7E0606" stroke-width="0.45"/>
<circle cx="524.97" cy="97.80" r="1.55" fill="#C41212" stroke="#7E0606" stroke-width="0.45"/>
<circle cx="528.47" cy="97.80" r="1.55" fill="#C41212" stroke="#7E0606" stroke-width="0.45"/>
<circle cx="524.85" cy="101.30" r="1.55" fill="#C41212" stroke="#7E0606" stroke-width="0.45"/>
<circle cx="528.35" cy="101.30" r="1.55" fill="#C41212" stroke="#7E0606" stroke-width="0.45"/>
<circle cx="524.74" cy="104.60" r="1.55" fill="#C41212" stroke="#7E0606" stroke-width="0.45"/>
<circle cx="528.24" cy="104.60" r="1.55" fill="#C41212" stroke="#7E0606" stroke-width="0.45"/>
<circle cx="524.61" cy="105.60" r="1.55" fill="#C41212" stroke="#7E0606" stroke-width="0.45"/>
<circle cx="528.11" cy="105.60" r="1.55" fill="#C41212" stroke="#7E0606" stroke-width="0.45"/>
<circle cx="522.26" cy="108.60" r="1.55" fill="#C41212" stroke="#7E0606" stroke-width="0.45"/>
<circle cx="530.46" cy="108.60" r="1.55" fill="#C41212" stroke="#7E0606" stroke-width="0.45"/>
<circle cx="524.61" cy="111.80" r="1.55" fill="#C41212" stroke="#7E0606" stroke-width="0.45"/>
<circle cx="528.11" cy="111.80" r="1.55" fill="#C41212" stroke="#7E0606" stroke-width="0.45"/>
<circle cx="524.41" cy="114.80" r="1.55" fill="#C41212" stroke="#7E0606" stroke-width="0.45"/>
<circle cx="527.91" cy="114.80" r="1.55" fill="#C41212" stroke="#7E0606" stroke-width="0.45"/>
<circle cx="524.31" cy="117.90" r="1.55" fill="#C41212" stroke="#7E0606" stroke-width="0.45"/>
<circle cx="527.81" cy="117.90" r="1.55" fill="#C41212" stroke="#7E0606" stroke-width="0.45"/>
<circle cx="523.36" cy="120.60" r="1.55" fill="#C41212" stroke="#7E0606" stroke-width="0.45"/>
<circle cx="527.16" cy="120.60" r="1.55" fill="#C41212" stroke="#7E0606" stroke-width="0.45"/>
<circle cx="520.36" cy="122.80" r="1.55" fill="#C41212" stroke="#7E0606" stroke-width="0.45"/>
<circle cx="530.16" cy="122.80" r="1.55" fill="#C41212" stroke="#7E0606" stroke-width="0.45"/>
<circle cx="520.36" cy="126.10" r="1.55" fill="#C41212" stroke="#7E0606" stroke-width="0.45"/>
<circle cx="530.16" cy="126.10" r="1.55" fill="#C41212" stroke="#7E0606" stroke-width="0.45"/>
<circle cx="523.36" cy="128.40" r="1.55" fill="#C41212" stroke="#7E0606" stroke-width="0.45"/>
<circle cx="527.16" cy="128.40" r="1.55" fill="#C41212" stroke="#7E0606" stroke-width="0.45"/>
<circle cx="523.86" cy="131.60" r="1.55" fill="#C41212" stroke="#7E0606" stroke-width="0.45"/>
<circle cx="527.36" cy="131.60" r="1.55" fill="#C41212" stroke="#7E0606" stroke-width="0.45"/>
<circle cx="523.76" cy="134.80" r="1.55" fill="#C41212" stroke="#7E0606" stroke-width="0.45"/>
<circle cx="527.26" cy="134.80" r="1.55" fill="#C41212" stroke="#7E0606" stroke-width="0.45"/>
<circle cx="523.65" cy="138.00" r="1.55" fill="#C41212" stroke="#7E0606" stroke-width="0.45"/>
<circle cx="527.15" cy="138.00" r="1.55" fill="#C41212" stroke="#7E0606" stroke-width="0.45"/>
<circle cx="523.55" cy="141.20" r="1.55" fill="#C41212" stroke="#7E0606" stroke-width="0.45"/>
<circle cx="527.05" cy="141.20" r="1.55" fill="#C41212" stroke="#7E0606" stroke-width="0.45"/>
<circle cx="523.45" cy="144.30" r="1.55" fill="#C41212" stroke="#7E0606" stroke-width="0.45"/>
<circle cx="526.95" cy="144.30" r="1.55" fill="#C41212" stroke="#7E0606" stroke-width="0.45"/>
<circle cx="523.34" cy="147.40" r="1.55" fill="#C41212" stroke="#7E0606" stroke-width="0.45"/>
<circle cx="526.84" cy="147.40" r="1.55" fill="#C41212" stroke="#7E0606" stroke-width="0.45"/>
<circle cx="523.24" cy="150.50" r="1.55" fill="#C41212" stroke="#7E0606" stroke-width="0.45"/>
<circle cx="526.74" cy="150.50" r="1.55" fill="#C41212" stroke="#7E0606" stroke-width="0.45"/>
<circle cx="522.78" cy="154.09" r="1.55" fill="#18B030" stroke="#4A5A10" stroke-width="0.45"/>
<circle cx="526.61" cy="154.14" r="1.55" fill="#18B030" stroke="#4A5A10" stroke-width="0.45"/>
<circle cx="530.04" cy="155.84" r="1.55" fill="#50C820" stroke="#4A5A10" stroke-width="0.45"/>
<circle cx="532.39" cy="158.86" r="1.55" fill="#18B030" stroke="#4A5A10" stroke-width="0.45"/>
<circle cx="533.20" cy="162.60" r="1.55" fill="#A0D818" stroke="#4A5A10" stroke-width="0.45"/>
<circle cx="532.31" cy="166.32" r="1.55" fill="#E8E010" stroke="#4A5A10" stroke-width="0.45"/>
<circle cx="529.88" cy="169.28" r="1.55" fill="#C41212" stroke="#7E0606" stroke-width="0.45"/>
<circle cx="526.42" cy="170.91" r="1.55" fill="#C41212" stroke="#7E0606" stroke-width="0.45"/>
<circle cx="522.59" cy="170.86" r="1.55" fill="#A0D818" stroke="#4A5A10" stroke-width="0.45"/>
<circle cx="519.16" cy="169.16" r="1.55" fill="#50C820" stroke="#4A5A10" stroke-width="0.45"/>
<circle cx="516.81" cy="166.14" r="1.55" fill="#18B030" stroke="#4A5A10" stroke-width="0.45"/>
<circle cx="516.00" cy="162.40" r="1.55" fill="#E8E010" stroke="#4A5A10" stroke-width="0.45"/>
<circle cx="516.89" cy="158.68" r="1.55" fill="#F09010" stroke="#4A5A10" stroke-width="0.45"/>
<circle cx="519.32" cy="155.72" r="1.55" fill="#F09010" stroke="#4A5A10" stroke-width="0.45"/>
<text x="489.80" y="183.30" font-family="Liberation Serif" font-size="9.6" text-anchor="start" fill="#000">MFE Centroid</text>
<rect x="555.00" y="21.00" width="129.00" height="103.50" fill="#fff" stroke="#8A8A8A" stroke-width="0.5"/>
<rect x="555.00" y="129.40" width="129.00" height="26.30" fill="#fff" stroke="#8A8A8A" stroke-width="0.5"/>
<polyline points="559.35,121.08 561.30,119.13 571.04,100.39 573.23,99.41 578.83,86.02 581.51,85.05 591.00,61.67 593.44,60.21 597.58,51.69 600.98,50.71 611.45,29.53 626.31,29.53 636.78,50.71 640.19,51.69 644.33,60.21 646.76,61.67 656.26,85.05 658.93,86.02 664.53,99.41 666.73,100.39 676.47,119.13 678.41,121.08" fill="none" stroke="#F02020" stroke-width="0.8" stroke-linejoin="round"/>
<polyline points="559.35,121.08 561.30,119.13 570.43,100.39 572.62,99.41 578.22,86.02 580.90,85.05 590.39,61.67 592.83,60.21 596.97,51.69 600.38,50.71 611.21,28.07 615.35,26.61 620.22,24.17 623.14,26.12 626.55,28.07 637.39,50.71 640.79,51.69 644.93,60.21 647.37,61.67 656.87,85.05 659.54,86.02 665.14,99.41 667.34,100.39 676.47,119.13 678.41,121.08" fill="none" stroke="#20E020" stroke-width="0.8" stroke-linejoin="round"/>
<polyline points="559.35,121.08 561.30,119.13 569.82,100.14 572.01,99.17 577.61,85.78 580.29,84.80 589.78,61.43 592.22,59.97 596.36,51.44 599.77,50.47 610.97,26.61 626.79,26.61 637.99,50.47 641.40,51.44 645.54,59.97 647.98,61.43 657.47,84.80 660.15,85.78 665.75,99.17 667.94,100.14 676.47,119.13 678.41,121.08" fill="none" stroke="#2020F0" stroke-width="0.9" stroke-linejoin="round"/>
<text x="549.20" y="29.04" font-family="Liberation Sans" font-size="3.1" text-anchor="middle" fill="#333" transform="rotate(-90 549.20 29.04)">30</text>
<line x1="553.60" y1="29.04" x2="555.00" y2="29.04" stroke="#666" stroke-width="0.4"/>
<text x="549.20" y="44.14" font-family="Liberation Sans" font-size="3.1" text-anchor="middle" fill="#333" transform="rotate(-90 549.20 44.14)">25</text>
<line x1="553.60" y1="44.14" x2="555.00" y2="44.14" stroke="#666" stroke-width="0.4"/>
<text x="549.20" y="59.48" font-family="Liberation Sans" font-size="3.1" text-anchor="middle" fill="#333" transform="rotate(-90 549.20 59.48)">20</text>
<line x1="553.60" y1="59.48" x2="555.00" y2="59.48" stroke="#666" stroke-width="0.4"/>
<text x="549.20" y="74.82" font-family="Liberation Sans" font-size="3.1" text-anchor="middle" fill="#333" transform="rotate(-90 549.20 74.82)">15</text>
<line x1="553.60" y1="74.82" x2="555.00" y2="74.82" stroke="#666" stroke-width="0.4"/>
<text x="549.20" y="89.92" font-family="Liberation Sans" font-size="3.1" text-anchor="middle" fill="#333" transform="rotate(-90 549.20 89.92)">10</text>
<line x1="553.60" y1="89.92" x2="555.00" y2="89.92" stroke="#666" stroke-width="0.4"/>
<text x="549.20" y="105.26" font-family="Liberation Sans" font-size="3.1" text-anchor="middle" fill="#333" transform="rotate(-90 549.20 105.26)">5</text>
<line x1="553.60" y1="105.26" x2="555.00" y2="105.26" stroke="#666" stroke-width="0.4"/>
<text x="549.20" y="120.84" font-family="Liberation Sans" font-size="3.1" text-anchor="middle" fill="#333" transform="rotate(-90 549.20 120.84)">0</text>
<line x1="553.60" y1="120.84" x2="555.00" y2="120.84" stroke="#666" stroke-width="0.4"/>
<text x="540.90" y="73.00" font-family="Liberation Sans" font-size="3.7" text-anchor="middle" fill="#222" transform="rotate(-90 540.90 73.00)">Height</text>
<rect x="555.00" y="21.00" width="22.60" height="13.40" fill="#fff" stroke="#8A8A8A" stroke-width="0.4"/>
<line x1="557.40" y1="24.20" x2="561.80" y2="24.20" stroke="#F02020" stroke-width="0.7"/>
<text x="564.60" y="25.20" font-family="Liberation Sans" font-size="2.9" text-anchor="start" fill="#222">mfe</text>
<line x1="557.40" y1="27.30" x2="561.80" y2="27.30" stroke="#20E020" stroke-width="0.7"/>
<text x="564.60" y="28.30" font-family="Liberation Sans" font-size="2.9" text-anchor="start" fill="#222">pf</text>
<line x1="557.40" y1="30.60" x2="561.80" y2="30.60" stroke="#2020F0" stroke-width="0.7"/>
<text x="564.60" y="31.60" font-family="Liberation Sans" font-size="2.9" text-anchor="start" fill="#222">centroid</text>
<polyline points="559.35,153.71 560.08,152.00 563.00,152.25 566.65,151.03 569.58,150.30 571.52,151.76 573.47,152.74 574.93,148.35 575.91,139.59 577.37,138.13 578.34,144.70 579.07,151.76 581.26,153.47 588.08,153.95 590.51,152.25 592.46,153.95 600.74,154.20 607.56,153.22 608.78,147.87 609.75,139.10 611.45,144.70 613.16,141.53 615.35,130.09 617.30,139.10 618.76,153.71 620.71,148.35 622.66,136.67 625.09,132.04 626.31,140.32 628.01,134.96 629.23,145.92 630.45,152.49 632.88,153.95 644.57,153.95 647.49,152.25 649.44,153.95 655.53,152.74 657.47,148.35 658.45,138.61 659.91,141.05 661.61,141.05 662.59,152.00 666.48,152.98 668.43,150.79 671.35,151.27 673.79,152.49 677.44,152.25 679.14,153.95" fill="none" stroke="#111" stroke-width="0.6" stroke-linejoin="round"/>
<text x="549.20" y="130.58" font-family="Liberation Sans" font-size="3.1" text-anchor="middle" fill="#333" transform="rotate(-90 549.20 130.58)">1.5</text>
<line x1="553.60" y1="130.58" x2="555.00" y2="130.58" stroke="#666" stroke-width="0.4"/>
<text x="549.20" y="138.13" font-family="Liberation Sans" font-size="3.1" text-anchor="middle" fill="#333" transform="rotate(-90 549.20 138.13)">1.0</text>
<line x1="553.60" y1="138.13" x2="555.00" y2="138.13" stroke="#666" stroke-width="0.4"/>
<text x="549.20" y="145.92" font-family="Liberation Sans" font-size="3.1" text-anchor="middle" fill="#333" transform="rotate(-90 549.20 145.92)">0.5</text>
<line x1="553.60" y1="145.92" x2="555.00" y2="145.92" stroke="#666" stroke-width="0.4"/>
<text x="549.20" y="153.47" font-family="Liberation Sans" font-size="3.1" text-anchor="middle" fill="#333" transform="rotate(-90 549.20 153.47)">0.0</text>
<line x1="553.60" y1="153.47" x2="555.00" y2="153.47" stroke="#666" stroke-width="0.4"/>
<text x="540.90" y="143.00" font-family="Liberation Sans" font-size="3.7" text-anchor="middle" fill="#222" transform="rotate(-90 540.90 143.00)">Entropy</text>
<text x="558.13" y="162.80" font-family="Liberation Sans" font-size="3.1" text-anchor="middle" fill="#333">0</text>
<line x1="558.13" y1="155.70" x2="558.13" y2="157.00" stroke="#666" stroke-width="0.4"/>
<text x="585.65" y="162.80" font-family="Liberation Sans" font-size="3.1" text-anchor="middle" fill="#333">20</text>
<line x1="585.65" y1="155.70" x2="585.65" y2="157.00" stroke="#666" stroke-width="0.4"/>
<text x="614.13" y="162.80" font-family="Liberation Sans" font-size="3.1" text-anchor="middle" fill="#333">40</text>
<line x1="614.13" y1="155.70" x2="614.13" y2="157.00" stroke="#666" stroke-width="0.4"/>
<text x="642.13" y="162.80" font-family="Liberation Sans" font-size="3.1" text-anchor="middle" fill="#333">60</text>
<line x1="642.13" y1="155.70" x2="642.13" y2="157.00" stroke="#666" stroke-width="0.4"/>
<text x="670.14" y="162.80" font-family="Liberation Sans" font-size="3.1" text-anchor="middle" fill="#333">80</text>
<line x1="670.14" y1="155.70" x2="670.14" y2="157.00" stroke="#666" stroke-width="0.4"/>
<text x="619.50" y="172.00" font-family="Liberation Sans" font-size="3.7" text-anchor="middle" fill="#222">Position</text>
<text x="0.00" y="191.50" font-family="Liberation Serif" font-size="19.5" text-anchor="start" fill="#000">D</text>
<text x="143.70" y="217.40" font-family="Liberation Serif" font-size="9.6" text-anchor="middle" fill="#000">Human species</text>
<text x="1.30" y="242.40" font-family="Liberation Serif" font-size="9.6" text-anchor="start" fill="#000">circBank</text>
<rect x="34.80" y="228.00" width="227.20" height="27.60" fill="#fff" stroke="#666" stroke-width="0.6"/>
<rect x="35.10" y="244.00" width="226.60" height="11.30" fill="#F3F3F3" stroke="none" stroke-width="1"/>
<line x1="34.80" y1="244.00" x2="262.00" y2="244.00" stroke="#DADADA" stroke-width="0.4"/>
<line x1="70.00" y1="228.40" x2="70.00" y2="255.20" stroke="#EEEEEE" stroke-width="0.4"/>
<line x1="101.70" y1="228.40" x2="101.70" y2="255.20" stroke="#EEEEEE" stroke-width="0.4"/>
<line x1="119.40" y1="228.40" x2="119.40" y2="255.20" stroke="#EEEEEE" stroke-width="0.4"/>
<line x1="173.40" y1="228.40" x2="173.40" y2="255.20" stroke="#EEEEEE" stroke-width="0.4"/>
<line x1="218.00" y1="228.40" x2="218.00" y2="255.20" stroke="#EEEEEE" stroke-width="0.4"/>
<text x="37.50" y="237.40" font-family="Liberation Sans" font-size="3.3" text-anchor="start" fill="#222" font-weight="bold">circBank ID</text>
<text x="73.00" y="237.40" font-family="Liberation Sans" font-size="3.3" text-anchor="start" fill="#222" font-weight="bold">circbase ID</text>
<text x="105.00" y="237.40" font-family="Liberation Sans" font-size="3.3" text-anchor="start" fill="#222" font-weight="bold">length</text>
<text x="122.50" y="237.40" font-family="Liberation Sans" font-size="3.3" text-anchor="start" fill="#222" font-weight="bold">miRNA ID (miR_ID)</text>
<text x="176.50" y="235.40" font-family="Liberation Sans" font-size="3.3" text-anchor="start" fill="#222" font-weight="bold">miRanda binding</text>
<text x="176.50" y="239.80" font-family="Liberation Sans" font-size="3.3" text-anchor="start" fill="#222" font-weight="bold">site (positions)</text>
<text x="221.00" y="235.40" font-family="Liberation Sans" font-size="3.3" text-anchor="start" fill="#222" font-weight="bold">targetscan binding</text>
<text x="221.00" y="239.80" font-family="Liberation Sans" font-size="3.3" text-anchor="start" fill="#222" font-weight="bold">site (positions)</text>
<text x="37.50" y="251.20" font-family="Liberation Sans" font-size="3.4" text-anchor="start" fill="#3B8CD8">hsa_circGMCL1_002</text>
<text x="72.00" y="251.20" font-family="Liberation Sans" font-size="3.4" text-anchor="start" fill="#333">hsa_circ_0055097</text>
<text x="108.00" y="251.20" font-family="Liberation Sans" font-size="3.4" text-anchor="start" fill="#333">450</text>
<text x="122.50" y="251.20" font-family="Liberation Sans" font-size="3.4" text-anchor="start" fill="#333">hsa-miR-124-3p</text>
<text x="176.50" y="251.20" font-family="Liberation Sans" font-size="3.4" text-anchor="start" fill="#333">158</text>
<text x="221.00" y="251.20" font-family="Liberation Sans" font-size="3.4" text-anchor="start" fill="#333">176 / 70</text>
<rect x="120.20" y="270.00" width="141.00" height="77.50" fill="#fff" stroke="#6A6A6A" stroke-width="1.0"/>
<rect x="120.60" y="270.40" width="140.20" height="43.20" fill="#F2F2F2" stroke="none" stroke-width="1"/>
<text x="122.90" y="277.20" font-family="Liberation Mono" font-size="6.69" text-anchor="start" fill="#2244EE" font-weight="bold">Target: 5' ------------GUGCCUUg 3'</text>
<text x="122.90" y="297.40" font-family="Liberation Mono" font-size="6.69" text-anchor="start" fill="#F08018" font-weight="bold">miRNA : 3' ccguaaguggcgCACGGAAu 5'</text>
<text x="122.90" y="324.50" font-family="Liberation Mono" font-size="6.69" text-anchor="start" fill="#2244EE" font-weight="bold">Target: 5' uuCCUUCAACUUGUGCCUUc 3'</text>
<text x="122.90" y="344.40" font-family="Liberation Mono" font-size="6.69" text-anchor="start" fill="#F08018" font-weight="bold">miRNA : 3' ccGUAAGUGGCGCACGGAAu 5'</text>
<line x1="217.23" y1="282.50" x2="217.23" y2="287.50" stroke="#C83030" stroke-width="0.8"/>
<line x1="221.24" y1="282.50" x2="221.24" y2="287.50" stroke="#C83030" stroke-width="0.8"/>
<line x1="225.26" y1="282.50" x2="225.26" y2="287.50" stroke="#C83030" stroke-width="0.8"/>
<line x1="229.27" y1="282.50" x2="229.27" y2="287.50" stroke="#C83030" stroke-width="0.8"/>
<line x1="233.29" y1="282.50" x2="233.29" y2="287.50" stroke="#C83030" stroke-width="0.8"/>
<line x1="237.30" y1="282.50" x2="237.30" y2="287.50" stroke="#C83030" stroke-width="0.8"/>
<line x1="241.31" y1="282.50" x2="241.31" y2="287.50" stroke="#C83030" stroke-width="0.8"/>
<line x1="177.09" y1="330.30" x2="177.09" y2="335.30" stroke="#C83030" stroke-width="0.8"/>
<line x1="185.12" y1="330.30" x2="185.12" y2="335.30" stroke="#C83030" stroke-width="0.8"/>
<line x1="189.13" y1="330.30" x2="189.13" y2="335.30" stroke="#C83030" stroke-width="0.8"/>
<line x1="193.15" y1="330.30" x2="193.15" y2="335.30" stroke="#C83030" stroke-width="0.8"/>
<line x1="197.16" y1="330.30" x2="197.16" y2="335.30" stroke="#C83030" stroke-width="0.8"/>
<line x1="205.19" y1="330.30" x2="205.19" y2="335.30" stroke="#C83030" stroke-width="0.8"/>
<line x1="217.23" y1="330.30" x2="217.23" y2="335.30" stroke="#C83030" stroke-width="0.8"/>
<line x1="221.24" y1="330.30" x2="221.24" y2="335.30" stroke="#C83030" stroke-width="0.8"/>
<line x1="225.26" y1="330.30" x2="225.26" y2="335.30" stroke="#C83030" stroke-width="0.8"/>
<line x1="229.27" y1="330.30" x2="229.27" y2="335.30" stroke="#C83030" stroke-width="0.8"/>
<line x1="233.29" y1="330.30" x2="233.29" y2="335.30" stroke="#C83030" stroke-width="0.8"/>
<line x1="237.30" y1="330.30" x2="237.30" y2="335.30" stroke="#C83030" stroke-width="0.8"/>
<line x1="241.31" y1="330.30" x2="241.31" y2="335.30" stroke="#C83030" stroke-width="0.8"/>
<text x="213.22" y="334.60" font-family="Liberation Mono" font-size="6" text-anchor="middle" fill="#C83030" font-weight="bold">:</text>
<text x="117.40" y="277.80" font-family="Liberation Serif" font-size="8.2" text-anchor="end" fill="#000">circGMCL1</text>
<text x="119.40" y="297.50" font-family="Liberation Serif" font-size="8.2" text-anchor="end" fill="#000">chr2:70071263-7007127</text>
<text x="9.60" y="317.20" font-family="Liberation Serif" font-size="9.6" text-anchor="start" fill="#000">Starbase</text>
<text x="114.20" y="324.00" font-family="Liberation Serif" font-size="8.2" text-anchor="end" fill="#000">circGMCL1</text>
<text x="119.40" y="344.80" font-family="Liberation Serif" font-size="8.2" text-anchor="end" fill="#000">chr2:70076790-7007680</text>
<text x="266.90" y="191.50" font-family="Liberation Serif" font-size="19.5" text-anchor="start" fill="#000">E</text>
<text x="366.20" y="192.00" font-family="Liberation Serif" font-size="9.8" text-anchor="middle" fill="#000">Human species</text>
<text x="364.20" y="203.20" font-family="Liberation Serif" font-size="8.7" text-anchor="middle" fill="#000">OECloud based on miRanda</text>
<text x="366.00" y="214.60" font-family="Liberation Sans" font-size="4.7" text-anchor="middle" fill="#2A2A2A">hsa-miR-124-3p vs hsa_circ_0055097</text>
<rect x="292.40" y="217.20" width="148.00" height="7.00" fill="#3030F0" stroke="none" stroke-width="1"/>
<text x="366.00" y="222.50" font-family="Liberation Sans" font-size="4.7" text-anchor="middle" fill="#E0E0FF">Position</text>
<line x1="307.50" y1="235.90" x2="425.40" y2="235.90" stroke="#7CCFB0" stroke-width="0.7"/>
<text x="300.60" y="235.40" font-family="Liberation Sans" font-size="4.7" text-anchor="start" fill="#2A2A2A">5'</text>
<text x="431.20" y="235.40" font-family="Liberation Sans" font-size="4.7" text-anchor="start" fill="#2A2A2A">3'</text>
<path d="M305.6 231.2 L309.4 231.2 L307.5 235 Z" fill="#E81010"/>
<text x="307.50" y="229.70" font-family="Liberation Sans" font-size="4.7" text-anchor="middle" fill="#2A2A2A">2</text>
<path d="M346.4 240.8 L350.2 240.8 L348.3 237 Z" fill="#E81010"/>
<text x="348.30" y="245.80" font-family="Liberation Sans" font-size="4.7" text-anchor="middle" fill="#2A2A2A">1</text>
<text x="292.40" y="251.20" font-family="Liberation Sans" font-size="4.7" text-anchor="start" fill="#2A2A2A">Query: hsa-miR-124-3p, Ref: hsa_circ_0055097</text>
<text x="292.40" y="256.30" font-family="Liberation Sans" font-size="4.7" text-anchor="start" fill="#2A2A2A">Total Score: 302.00,Total Energy: -27.34</text>
<text x="292.40" y="261.40" font-family="Liberation Sans" font-size="4.7" text-anchor="start" fill="#2A2A2A">hsa_circ_0055097 length: 450, MREs: 2</text>
<rect x="292.40" y="270.10" width="148.00" height="3.90" fill="#3030F0" stroke="none" stroke-width="1"/>
<text x="366.00" y="273.40" font-family="Liberation Sans" font-size="3.8" text-anchor="middle" fill="#B8B8FF">2D Structure</text>
<circle cx="296.20" cy="279.40" r="3.20" fill="#F25C05" stroke="none" stroke-width="1"/>
<text x="296.20" y="280.90" font-family="Liberation Sans" font-size="4.2" text-anchor="middle" fill="#fff" font-weight="bold">1</text>
<text x="310.20" y="283.00" font-family="Liberation Sans" font-size="4.6" text-anchor="middle" fill="#2A2A2A" font-weight="bold">156</text>
<text x="381.20" y="283.00" font-family="Liberation Sans" font-size="4.7" text-anchor="middle" fill="#3030E0">7mer-m8 site</text>
<text x="419.50" y="283.00" font-family="Liberation Sans" font-size="4.6" text-anchor="middle" fill="#2A2A2A" font-weight="bold">177</text>
<text x="294.00" y="288.80" font-family="Liberation Sans" font-size="4.7" text-anchor="start" fill="#2A2A2A">Ref:</text>
<text x="310.00" y="288.80" font-family="Liberation Sans" font-size="4.7" text-anchor="start" fill="#2A2A2A">5'</text>
<text x="403.00" y="288.80" font-family="Liberation Sans" font-size="4.7" text-anchor="start" fill="#2A2A2A">3'</text>
<text x="330.00" y="288.80" font-family="Liberation Mono" font-size="4.848484848484849" text-anchor="start" fill="#222">tgttCCTTCAACTTG</text>
<text x="373.64" y="288.80" font-family="Liberation Mono" font-size="4.848484848484849" text-anchor="start" fill="#3030E0">TGCCTT</text>
<text x="391.09" y="288.80" font-family="Liberation Mono" font-size="4.848484848484849" text-anchor="start" fill="#222">c</text>
<line x1="343.09" y1="292.20" x2="343.09" y2="296.20" stroke="#333" stroke-width="0.5"/>
<line x1="348.91" y1="292.20" x2="348.91" y2="296.20" stroke="#333" stroke-width="0.5"/>
<line x1="351.82" y1="292.20" x2="351.82" y2="296.20" stroke="#333" stroke-width="0.5"/>
<line x1="354.73" y1="292.20" x2="354.73" y2="296.20" stroke="#333" stroke-width="0.5"/>
<line x1="357.64" y1="292.20" x2="357.64" y2="296.20" stroke="#333" stroke-width="0.5"/>
<line x1="363.45" y1="292.20" x2="363.45" y2="296.20" stroke="#333" stroke-width="0.5"/>
<line x1="372.18" y1="292.20" x2="372.18" y2="296.20" stroke="#333" stroke-width="0.5"/>
<line x1="375.09" y1="292.20" x2="375.09" y2="296.20" stroke="#333" stroke-width="0.5"/>
<line x1="378.00" y1="292.20" x2="378.00" y2="296.20" stroke="#333" stroke-width="0.5"/>
<line x1="380.91" y1="292.20" x2="380.91" y2="296.20" stroke="#333" stroke-width="0.5"/>
<line x1="383.82" y1="292.20" x2="383.82" y2="296.20" stroke="#333" stroke-width="0.5"/>
<line x1="386.73" y1="292.20" x2="386.73" y2="296.20" stroke="#333" stroke-width="0.5"/>
<line x1="389.64" y1="292.20" x2="389.64" y2="296.20" stroke="#333" stroke-width="0.5"/>
<text x="369.27" y="295.70" font-family="Liberation Mono" font-size="4.848484848484849" text-anchor="middle" fill="#333">:</text>
<text x="294.00" y="301.20" font-family="Liberation Sans" font-size="4.7" text-anchor="start" fill="#2A2A2A">Query:</text>
<text x="310.00" y="301.20" font-family="Liberation Sans" font-size="4.7" text-anchor="start" fill="#2A2A2A">3'</text>
<text x="403.00" y="301.20" font-family="Liberation Sans" font-size="4.7" text-anchor="start" fill="#2A2A2A">5'</text>
<text x="330.00" y="301.20" font-family="Liberation Mono" font-size="4.848484848484849" text-anchor="start" fill="#222">accGUAAGUGGCGC</text>
<text x="370.73" y="301.20" font-family="Liberation Mono" font-size="4.848484848484849" text-anchor="start" fill="#E02020">ACGGAA</text>
<line x1="370.73" y1="302.50" x2="388.18" y2="302.50" stroke="#E02020" stroke-width="0.4" stroke-dasharray="0.8 0.6"/>
<text x="388.18" y="301.20" font-family="Liberation Mono" font-size="4.848484848484849" text-anchor="start" fill="#222">u</text>
<text x="381.00" y="308.30" font-family="Liberation Sans" font-size="4.7" text-anchor="middle" fill="#E02020">Seed</text>
<text x="292.60" y="313.90" font-family="Liberation Sans" font-size="4.7" text-anchor="start" fill="#2A2A2A">Score:162.00 Energy:-15.45</text>
<rect x="292.40" y="322.50" width="148.00" height="3.90" fill="#3030F0" stroke="none" stroke-width="1"/>
<text x="366.00" y="325.80" font-family="Liberation Sans" font-size="3.8" text-anchor="middle" fill="#B8B8FF">2D Structure</text>
<circle cx="296.20" cy="331.80" r="3.20" fill="#F25C05" stroke="none" stroke-width="1"/>
<text x="296.20" y="333.30" font-family="Liberation Sans" font-size="4.2" text-anchor="middle" fill="#fff" font-weight="bold">2</text>
<text x="310.20" y="335.40" font-family="Liberation Sans" font-size="4.6" text-anchor="middle" fill="#2A2A2A" font-weight="bold">1</text>
<text x="381.20" y="335.40" font-family="Liberation Sans" font-size="4.7" text-anchor="middle" fill="#3030E0">7mer-m8 site</text>
<text x="419.50" y="335.40" font-family="Liberation Sans" font-size="4.6" text-anchor="middle" fill="#2A2A2A" font-weight="bold">0</text>
<text x="294.00" y="341.20" font-family="Liberation Sans" font-size="4.7" text-anchor="start" fill="#2A2A2A">Ref:</text>
<text x="310.00" y="341.20" font-family="Liberation Sans" font-size="4.7" text-anchor="start" fill="#2A2A2A">5'</text>
<text x="403.00" y="341.20" font-family="Liberation Sans" font-size="4.7" text-anchor="start" fill="#2A2A2A">3'</text>
<text x="330.00" y="341.20" font-family="Liberation Mono" font-size="4.848484848484849" text-anchor="start" fill="#222">--------------G</text>
<text x="373.64" y="341.20" font-family="Liberation Mono" font-size="4.848484848484849" text-anchor="start" fill="#3030E0">TGCCTT</text>
<text x="391.09" y="341.20" font-family="Liberation Mono" font-size="4.848484848484849" text-anchor="start" fill="#222">g</text>
<line x1="372.18" y1="344.60" x2="372.18" y2="348.60" stroke="#333" stroke-width="0.5"/>
<line x1="375.09" y1="344.60" x2="375.09" y2="348.60" stroke="#333" stroke-width="0.5"/>
<line x1="378.00" y1="344.60" x2="378.00" y2="348.60" stroke="#333" stroke-width="0.5"/>
<line x1="380.91" y1="344.60" x2="380.91" y2="348.60" stroke="#333" stroke-width="0.5"/>
<line x1="383.82" y1="344.60" x2="383.82" y2="348.60" stroke="#333" stroke-width="0.5"/>
<line x1="386.73" y1="344.60" x2="386.73" y2="348.60" stroke="#333" stroke-width="0.5"/>
<line x1="389.64" y1="344.60" x2="389.64" y2="348.60" stroke="#333" stroke-width="0.5"/>
<text x="294.00" y="353.60" font-family="Liberation Sans" font-size="4.7" text-anchor="start" fill="#2A2A2A">Query:</text>
<text x="310.00" y="353.60" font-family="Liberation Sans" font-size="4.7" text-anchor="start" fill="#2A2A2A">3'</text>
<text x="403.00" y="353.60" font-family="Liberation Sans" font-size="4.7" text-anchor="start" fill="#2A2A2A">5'</text>
<text x="330.00" y="353.60" font-family="Liberation Mono" font-size="4.848484848484849" text-anchor="start" fill="#222">accguaaguggcgC</text>
<text x="370.73" y="353.60" font-family="Liberation Mono" font-size="4.848484848484849" text-anchor="start" fill="#E02020">ACGGAA</text>
<line x1="370.73" y1="354.90" x2="388.18" y2="354.90" stroke="#E02020" stroke-width="0.4" stroke-dasharray="0.8 0.6"/>
<text x="388.18" y="353.60" font-family="Liberation Mono" font-size="4.848484848484849" text-anchor="start" fill="#222">u</text>
<text x="381.00" y="360.70" font-family="Liberation Sans" font-size="4.7" text-anchor="middle" fill="#E02020">Seed</text>
<text x="292.60" y="366.30" font-family="Liberation Sans" font-size="4.7" text-anchor="start" fill="#2A2A2A">Score:140.00 Energy:-11.89</text>
<text x="462.90" y="237.00" font-family="Liberation Serif" font-size="19.5" text-anchor="start" fill="#000">F</text>
<text x="594.40" y="255.50" font-family="Liberation Serif" font-size="9.6" text-anchor="middle" fill="#000">Murine species</text>
<text x="595.40" y="272.90" font-family="Liberation Serif" font-size="9.6" text-anchor="middle" fill="#000">Starbase</text>
<rect x="526.80" y="283.30" width="154.20" height="33.60" fill="#F4F4F4" stroke="#6A6A6A" stroke-width="1.0"/>
<text x="529.30" y="290.70" font-family="Liberation Mono" font-size="7.34" text-anchor="start" fill="#2244EE" font-weight="bold">Target: 5' uuCCUUCAGCUGGUGCCUUc 3'</text>
<text x="529.30" y="313.00" font-family="Liberation Mono" font-size="7.34" text-anchor="start" fill="#F08018" font-weight="bold">miRNA : 3' ccGUAAGUGGCGCACGGAAu 5'</text>
<line x1="588.75" y1="297.40" x2="588.75" y2="302.80" stroke="#C83030" stroke-width="0.85"/>
<line x1="597.56" y1="297.40" x2="597.56" y2="302.80" stroke="#C83030" stroke-width="0.85"/>
<line x1="601.97" y1="297.40" x2="601.97" y2="302.80" stroke="#C83030" stroke-width="0.85"/>
<line x1="606.37" y1="297.40" x2="606.37" y2="302.80" stroke="#C83030" stroke-width="0.85"/>
<line x1="610.77" y1="297.40" x2="610.77" y2="302.80" stroke="#C83030" stroke-width="0.85"/>
<line x1="619.58" y1="297.40" x2="619.58" y2="302.80" stroke="#C83030" stroke-width="0.85"/>
<line x1="632.79" y1="297.40" x2="632.79" y2="302.80" stroke="#C83030" stroke-width="0.85"/>
<line x1="637.20" y1="297.40" x2="637.20" y2="302.80" stroke="#C83030" stroke-width="0.85"/>
<line x1="641.60" y1="297.40" x2="641.60" y2="302.80" stroke="#C83030" stroke-width="0.85"/>
<line x1="646.01" y1="297.40" x2="646.01" y2="302.80" stroke="#C83030" stroke-width="0.85"/>
<line x1="650.41" y1="297.40" x2="650.41" y2="302.80" stroke="#C83030" stroke-width="0.85"/>
<line x1="654.81" y1="297.40" x2="654.81" y2="302.80" stroke="#C83030" stroke-width="0.85"/>
<line x1="659.22" y1="297.40" x2="659.22" y2="302.80" stroke="#C83030" stroke-width="0.85"/>
<text x="487.80" y="296.80" font-family="Liberation Serif" font-size="8.2" text-anchor="middle" fill="#000">circGMCL1</text>
<text x="523.80" y="306.90" font-family="Liberation Serif" font-size="8.2" text-anchor="end" fill="#000">(mmu_circ_0001490)</text>
<text x="0.00" y="392.00" font-family="Liberation Serif" font-size="19.5" text-anchor="start" fill="#000">G</text>
<text x="91.80" y="406.00" font-family="Liberation Serif" font-size="8.6" text-anchor="middle" fill="#000">CD patients (n=75)</text>
<polyline points="30.90,451.84 50.85,450.25 70.80,446.60 142.62,433.08" fill="none" stroke="#B8B8B8" stroke-width="0.45"/>
<polyline points="30.90,455.66 54.84,452.16 80.77,449.77 142.62,445.48" fill="none" stroke="#B8B8B8" stroke-width="0.45"/>
<circle cx="30.90" cy="476.81" r="1.20" fill="#4C9BEA" stroke="none" stroke-width="1"/>
<circle cx="30.90" cy="465.68" r="1.20" fill="#4C9BEA" stroke="none" stroke-width="1"/>
<circle cx="30.90" cy="463.29" r="1.20" fill="#4C9BEA" stroke="none" stroke-width="1"/>
<circle cx="37.88" cy="462.50" r="1.20" fill="#4C9BEA" stroke="none" stroke-width="1"/>
<circle cx="38.88" cy="466.47" r="1.20" fill="#4C9BEA" stroke="none" stroke-width="1"/>
<circle cx="46.86" cy="470.92" r="1.20" fill="#4C9BEA" stroke="none" stroke-width="1"/>
<circle cx="84.76" cy="458.52" r="1.20" fill="#4C9BEA" stroke="none" stroke-width="1"/>
<circle cx="70.80" cy="457.41" r="1.20" fill="#4C9BEA" stroke="none" stroke-width="1"/>
<circle cx="37.48" cy="439.44" r="1.20" fill="#4C9BEA" stroke="none" stroke-width="1"/>
<circle cx="69.80" cy="436.26" r="1.20" fill="#4C9BEA" stroke="none" stroke-width="1"/>
<circle cx="50.85" cy="441.03" r="1.20" fill="#4C9BEA" stroke="none" stroke-width="1"/>
<circle cx="52.84" cy="441.82" r="1.20" fill="#4C9BEA" stroke="none" stroke-width="1"/>
<circle cx="51.85" cy="442.62" r="1.20" fill="#4C9BEA" stroke="none" stroke-width="1"/>
<circle cx="102.72" cy="445.80" r="1.20" fill="#4C9BEA" stroke="none" stroke-width="1"/>
<circle cx="112.69" cy="446.60" r="1.20" fill="#4C9BEA" stroke="none" stroke-width="1"/>
<circle cx="120.67" cy="443.42" r="1.20" fill="#4C9BEA" stroke="none" stroke-width="1"/>
<circle cx="142.62" cy="442.94" r="1.20" fill="#4C9BEA" stroke="none" stroke-width="1"/>
<circle cx="74.79" cy="444.21" r="1.20" fill="#4C9BEA" stroke="none" stroke-width="1"/>
<circle cx="77.78" cy="445.00" r="1.20" fill="#4C9BEA" stroke="none" stroke-width="1"/>
<circle cx="80.77" cy="445.00" r="1.20" fill="#4C9BEA" stroke="none" stroke-width="1"/>
<circle cx="82.77" cy="444.69" r="1.20" fill="#4C9BEA" stroke="none" stroke-width="1"/>
<circle cx="85.76" cy="445.80" r="1.20" fill="#4C9BEA" stroke="none" stroke-width="1"/>
<circle cx="86.76" cy="449.77" r="1.20" fill="#4C9BEA" stroke="none" stroke-width="1"/>
<circle cx="31.50" cy="444.21" r="1.20" fill="#4C9BEA" stroke="none" stroke-width="1"/>
<circle cx="31.90" cy="445.80" r="1.20" fill="#4C9BEA" stroke="none" stroke-width="1"/>
<circle cx="32.50" cy="446.60" r="1.20" fill="#4C9BEA" stroke="none" stroke-width="1"/>
<circle cx="31.30" cy="449.77" r="1.20" fill="#4C9BEA" stroke="none" stroke-width="1"/>
<circle cx="30.90" cy="452.95" r="1.20" fill="#4C9BEA" stroke="none" stroke-width="1"/>
<circle cx="31.90" cy="452.16" r="1.20" fill="#4C9BEA" stroke="none" stroke-width="1"/>
<circle cx="32.89" cy="450.57" r="1.20" fill="#4C9BEA" stroke="none" stroke-width="1"/>
<circle cx="33.89" cy="453.75" r="1.20" fill="#4C9BEA" stroke="none" stroke-width="1"/>
<circle cx="33.29" cy="456.93" r="1.20" fill="#4C9BEA" stroke="none" stroke-width="1"/>
<circle cx="38.88" cy="448.19" r="1.20" fill="#4C9BEA" stroke="none" stroke-width="1"/>
<circle cx="64.81" cy="442.30" r="1.20" fill="#4C9BEA" stroke="none" stroke-width="1"/>
<circle cx="58.83" cy="443.42" r="1.20" fill="#4C9BEA" stroke="none" stroke-width="1"/>
<circle cx="61.82" cy="444.21" r="1.20" fill="#4C9BEA" stroke="none" stroke-width="1"/>
<circle cx="66.81" cy="446.60" r="1.20" fill="#4C9BEA" stroke="none" stroke-width="1"/>
<circle cx="70.80" cy="450.57" r="1.20" fill="#4C9BEA" stroke="none" stroke-width="1"/>
<circle cx="71.80" cy="449.77" r="1.20" fill="#4C9BEA" stroke="none" stroke-width="1"/>
<circle cx="49.69" cy="459.17" r="1.20" fill="#4C9BEA" stroke="none" stroke-width="1"/>
<circle cx="50.15" cy="455.05" r="1.20" fill="#4C9BEA" stroke="none" stroke-width="1"/>
<circle cx="51.62" cy="453.97" r="1.20" fill="#4C9BEA" stroke="none" stroke-width="1"/>
<circle cx="51.76" cy="453.28" r="1.20" fill="#4C9BEA" stroke="none" stroke-width="1"/>
<circle cx="55.88" cy="451.38" r="1.20" fill="#4C9BEA" stroke="none" stroke-width="1"/>
<circle cx="44.48" cy="454.39" r="1.20" fill="#4C9BEA" stroke="none" stroke-width="1"/>
<circle cx="37.06" cy="452.07" r="1.20" fill="#4C9BEA" stroke="none" stroke-width="1"/>
<circle cx="35.35" cy="458.60" r="1.20" fill="#4C9BEA" stroke="none" stroke-width="1"/>
<circle cx="68.18" cy="445.87" r="1.20" fill="#4C9BEA" stroke="none" stroke-width="1"/>
<circle cx="55.38" cy="452.83" r="1.20" fill="#4C9BEA" stroke="none" stroke-width="1"/>
<circle cx="39.39" cy="449.72" r="1.20" fill="#4C9BEA" stroke="none" stroke-width="1"/>
<circle cx="35.97" cy="453.61" r="1.20" fill="#4C9BEA" stroke="none" stroke-width="1"/>
<circle cx="40.53" cy="453.43" r="1.20" fill="#4C9BEA" stroke="none" stroke-width="1"/>
<circle cx="50.09" cy="451.62" r="1.20" fill="#4C9BEA" stroke="none" stroke-width="1"/>
<circle cx="49.27" cy="450.38" r="1.20" fill="#4C9BEA" stroke="none" stroke-width="1"/>
<circle cx="56.25" cy="454.93" r="1.20" fill="#4C9BEA" stroke="none" stroke-width="1"/>
<circle cx="51.34" cy="454.10" r="1.20" fill="#4C9BEA" stroke="none" stroke-width="1"/>
<circle cx="43.60" cy="456.12" r="1.20" fill="#4C9BEA" stroke="none" stroke-width="1"/>
<circle cx="68.72" cy="444.24" r="1.20" fill="#4C9BEA" stroke="none" stroke-width="1"/>
<circle cx="58.60" cy="451.62" r="1.20" fill="#4C9BEA" stroke="none" stroke-width="1"/>
<circle cx="44.90" cy="452.65" r="1.20" fill="#4C9BEA" stroke="none" stroke-width="1"/>
<circle cx="36.34" cy="451.33" r="1.20" fill="#4C9BEA" stroke="none" stroke-width="1"/>
<circle cx="60.65" cy="456.22" r="1.20" fill="#4C9BEA" stroke="none" stroke-width="1"/>
<circle cx="47.39" cy="449.10" r="1.20" fill="#4C9BEA" stroke="none" stroke-width="1"/>
<circle cx="67.34" cy="450.42" r="1.20" fill="#4C9BEA" stroke="none" stroke-width="1"/>
<circle cx="41.21" cy="453.48" r="1.20" fill="#4C9BEA" stroke="none" stroke-width="1"/>
<circle cx="65.67" cy="459.42" r="1.20" fill="#4C9BEA" stroke="none" stroke-width="1"/>
<circle cx="47.77" cy="450.99" r="1.20" fill="#4C9BEA" stroke="none" stroke-width="1"/>
<circle cx="36.44" cy="457.72" r="1.20" fill="#4C9BEA" stroke="none" stroke-width="1"/>
<circle cx="43.31" cy="457.17" r="1.20" fill="#4C9BEA" stroke="none" stroke-width="1"/>
<circle cx="36.93" cy="457.94" r="1.20" fill="#4C9BEA" stroke="none" stroke-width="1"/>
<circle cx="60.36" cy="444.14" r="1.20" fill="#4C9BEA" stroke="none" stroke-width="1"/>
<circle cx="38.01" cy="453.72" r="1.20" fill="#4C9BEA" stroke="none" stroke-width="1"/>
<circle cx="35.98" cy="452.51" r="1.20" fill="#4C9BEA" stroke="none" stroke-width="1"/>
<circle cx="61.72" cy="449.32" r="1.20" fill="#4C9BEA" stroke="none" stroke-width="1"/>
<circle cx="49.51" cy="448.81" r="1.20" fill="#4C9BEA" stroke="none" stroke-width="1"/>
<line x1="30.90" y1="453.75" x2="142.62" y2="439.12" stroke="#F03030" stroke-width="0.9"/>
<line x1="30.90" y1="413.60" x2="30.90" y2="493.90" stroke="#000" stroke-width="0.8"/>
<line x1="30.50" y1="493.50" x2="151.00" y2="493.50" stroke="#000" stroke-width="0.8"/>
<line x1="28.70" y1="493.50" x2="30.90" y2="493.50" stroke="#000" stroke-width="0.8"/>
<text x="27.70" y="495.50" font-family="Liberation Sans" font-size="6.3" text-anchor="end" fill="#111">0</text>
<line x1="28.70" y1="477.60" x2="30.90" y2="477.60" stroke="#000" stroke-width="0.8"/>
<text x="27.70" y="479.60" font-family="Liberation Sans" font-size="6.3" text-anchor="end" fill="#111">1</text>
<line x1="28.70" y1="461.70" x2="30.90" y2="461.70" stroke="#000" stroke-width="0.8"/>
<text x="27.70" y="463.70" font-family="Liberation Sans" font-size="6.3" text-anchor="end" fill="#111">2</text>
<line x1="28.70" y1="445.80" x2="30.90" y2="445.80" stroke="#000" stroke-width="0.8"/>
<text x="27.70" y="447.80" font-family="Liberation Sans" font-size="6.3" text-anchor="end" fill="#111">3</text>
<line x1="28.70" y1="429.90" x2="30.90" y2="429.90" stroke="#000" stroke-width="0.8"/>
<text x="27.70" y="431.90" font-family="Liberation Sans" font-size="6.3" text-anchor="end" fill="#111">4</text>
<line x1="28.70" y1="414.00" x2="30.90" y2="414.00" stroke="#000" stroke-width="0.8"/>
<text x="27.70" y="416.00" font-family="Liberation Sans" font-size="6.3" text-anchor="end" fill="#111">5</text>
<line x1="30.90" y1="493.50" x2="30.90" y2="495.70" stroke="#000" stroke-width="0.8"/>
<text x="30.90" y="502.70" font-family="Liberation Sans" font-size="6.3" text-anchor="middle" fill="#111">0</text>
<line x1="70.80" y1="493.50" x2="70.80" y2="495.70" stroke="#000" stroke-width="0.8"/>
<text x="70.80" y="502.70" font-family="Liberation Sans" font-size="6.3" text-anchor="middle" fill="#111">20</text>
<line x1="110.70" y1="493.50" x2="110.70" y2="495.70" stroke="#000" stroke-width="0.8"/>
<text x="110.70" y="502.70" font-family="Liberation Sans" font-size="6.3" text-anchor="middle" fill="#111">40</text>
<line x1="150.60" y1="493.50" x2="150.60" y2="495.70" stroke="#000" stroke-width="0.8"/>
<text x="150.60" y="502.70" font-family="Liberation Sans" font-size="6.3" text-anchor="middle" fill="#111">60</text>
<text x="115.00" y="476.00" font-family="Liberation Sans" font-size="6.5" text-anchor="start" fill="#111">r =0.4007</text>
<text x="115.00" y="483.40" font-family="Liberation Sans" font-size="6.5" text-anchor="start" fill="#111">P=0.0004</text>
<text x="88.40" y="517.00" font-family="Liberation Serif" font-size="8.2" text-anchor="middle" fill="#000">CRP(mg/L)</text>
<text x="9.60" y="451.60" font-family="Liberation Serif" font-size="8.2" text-anchor="middle" fill="#000" transform="rotate(-90 9.60 451.60)">Relative miR-124-3p</text>
<text x="19.40" y="451.60" font-family="Liberation Serif" font-size="8.2" text-anchor="middle" fill="#000" transform="rotate(-90 19.40 451.60)">expression to U6</text>
<text x="180.20" y="391.60" font-family="Liberation Serif" font-size="19.5" text-anchor="start" fill="#000">H</text>
<text x="267.40" y="404.20" font-family="Liberation Serif" font-size="8.6" text-anchor="middle" fill="#000">CD patients (n=75)</text>
<polyline points="222.23,440.62 256.60,437.46 274.38,435.08 310.52,430.13" fill="none" stroke="#B8B8B8" stroke-width="0.45"/>
<polyline points="222.23,448.54 250.67,442.01 274.38,439.44 310.52,437.46" fill="none" stroke="#B8B8B8" stroke-width="0.45"/>
<circle cx="222.23" cy="464.19" r="1.20" fill="#4C9BEA" stroke="none" stroke-width="1"/>
<circle cx="228.75" cy="458.25" r="1.20" fill="#4C9BEA" stroke="none" stroke-width="1"/>
<circle cx="230.53" cy="453.89" r="1.20" fill="#4C9BEA" stroke="none" stroke-width="1"/>
<circle cx="232.90" cy="454.88" r="1.20" fill="#4C9BEA" stroke="none" stroke-width="1"/>
<circle cx="235.86" cy="457.85" r="1.20" fill="#4C9BEA" stroke="none" stroke-width="1"/>
<circle cx="259.56" cy="471.31" r="1.20" fill="#4C9BEA" stroke="none" stroke-width="1"/>
<circle cx="225.79" cy="433.10" r="1.20" fill="#4C9BEA" stroke="none" stroke-width="1"/>
<circle cx="226.97" cy="434.09" r="1.20" fill="#4C9BEA" stroke="none" stroke-width="1"/>
<circle cx="228.75" cy="433.10" r="1.20" fill="#4C9BEA" stroke="none" stroke-width="1"/>
<circle cx="234.68" cy="427.16" r="1.20" fill="#4C9BEA" stroke="none" stroke-width="1"/>
<circle cx="235.86" cy="434.09" r="1.20" fill="#4C9BEA" stroke="none" stroke-width="1"/>
<circle cx="237.05" cy="434.09" r="1.20" fill="#4C9BEA" stroke="none" stroke-width="1"/>
<circle cx="229.94" cy="448.94" r="1.20" fill="#4C9BEA" stroke="none" stroke-width="1"/>
<circle cx="234.68" cy="441.02" r="1.20" fill="#4C9BEA" stroke="none" stroke-width="1"/>
<circle cx="235.27" cy="446.96" r="1.20" fill="#4C9BEA" stroke="none" stroke-width="1"/>
<circle cx="289.19" cy="421.22" r="1.20" fill="#4C9BEA" stroke="none" stroke-width="1"/>
<circle cx="255.41" cy="425.18" r="1.20" fill="#4C9BEA" stroke="none" stroke-width="1"/>
<circle cx="262.52" cy="428.15" r="1.20" fill="#4C9BEA" stroke="none" stroke-width="1"/>
<circle cx="253.04" cy="431.12" r="1.20" fill="#4C9BEA" stroke="none" stroke-width="1"/>
<circle cx="255.41" cy="432.11" r="1.20" fill="#4C9BEA" stroke="none" stroke-width="1"/>
<circle cx="256.60" cy="431.52" r="1.20" fill="#4C9BEA" stroke="none" stroke-width="1"/>
<circle cx="269.04" cy="432.11" r="1.20" fill="#4C9BEA" stroke="none" stroke-width="1"/>
<circle cx="274.38" cy="431.12" r="1.20" fill="#4C9BEA" stroke="none" stroke-width="1"/>
<circle cx="274.38" cy="433.10" r="1.20" fill="#4C9BEA" stroke="none" stroke-width="1"/>
<circle cx="280.30" cy="428.74" r="1.20" fill="#4C9BEA" stroke="none" stroke-width="1"/>
<circle cx="280.30" cy="431.12" r="1.20" fill="#4C9BEA" stroke="none" stroke-width="1"/>
<circle cx="282.08" cy="429.14" r="1.20" fill="#4C9BEA" stroke="none" stroke-width="1"/>
<circle cx="288.59" cy="429.14" r="1.20" fill="#4C9BEA" stroke="none" stroke-width="1"/>
<circle cx="289.19" cy="434.09" r="1.20" fill="#4C9BEA" stroke="none" stroke-width="1"/>
<circle cx="310.52" cy="438.05" r="1.20" fill="#4C9BEA" stroke="none" stroke-width="1"/>
<circle cx="308.15" cy="430.13" r="1.20" fill="#4C9BEA" stroke="none" stroke-width="1"/>
<circle cx="306.96" cy="430.13" r="1.20" fill="#4C9BEA" stroke="none" stroke-width="1"/>
<circle cx="305.78" cy="431.12" r="1.20" fill="#4C9BEA" stroke="none" stroke-width="1"/>
<circle cx="304.00" cy="434.09" r="1.20" fill="#4C9BEA" stroke="none" stroke-width="1"/>
<circle cx="240.60" cy="445.97" r="1.20" fill="#4C9BEA" stroke="none" stroke-width="1"/>
<circle cx="242.97" cy="445.97" r="1.20" fill="#4C9BEA" stroke="none" stroke-width="1"/>
<circle cx="241.79" cy="440.03" r="1.20" fill="#4C9BEA" stroke="none" stroke-width="1"/>
<circle cx="243.56" cy="442.01" r="1.20" fill="#4C9BEA" stroke="none" stroke-width="1"/>
<circle cx="247.12" cy="443.99" r="1.20" fill="#4C9BEA" stroke="none" stroke-width="1"/>
<circle cx="248.90" cy="435.08" r="1.20" fill="#4C9BEA" stroke="none" stroke-width="1"/>
<circle cx="249.49" cy="442.01" r="1.20" fill="#4C9BEA" stroke="none" stroke-width="1"/>
<circle cx="250.67" cy="444.98" r="1.20" fill="#4C9BEA" stroke="none" stroke-width="1"/>
<circle cx="250.67" cy="439.04" r="1.20" fill="#4C9BEA" stroke="none" stroke-width="1"/>
<circle cx="252.45" cy="439.04" r="1.20" fill="#4C9BEA" stroke="none" stroke-width="1"/>
<circle cx="253.64" cy="438.05" r="1.20" fill="#4C9BEA" stroke="none" stroke-width="1"/>
<circle cx="254.23" cy="443.00" r="1.20" fill="#4C9BEA" stroke="none" stroke-width="1"/>
<circle cx="254.82" cy="436.07" r="1.20" fill="#4C9BEA" stroke="none" stroke-width="1"/>
<circle cx="255.41" cy="447.55" r="1.20" fill="#4C9BEA" stroke="none" stroke-width="1"/>
<circle cx="256.60" cy="447.95" r="1.20" fill="#4C9BEA" stroke="none" stroke-width="1"/>
<circle cx="256.60" cy="435.08" r="1.20" fill="#4C9BEA" stroke="none" stroke-width="1"/>
<circle cx="259.56" cy="434.09" r="1.20" fill="#4C9BEA" stroke="none" stroke-width="1"/>
<circle cx="261.34" cy="433.10" r="1.20" fill="#4C9BEA" stroke="none" stroke-width="1"/>
<circle cx="261.93" cy="445.57" r="1.20" fill="#4C9BEA" stroke="none" stroke-width="1"/>
<circle cx="262.52" cy="440.62" r="1.20" fill="#4C9BEA" stroke="none" stroke-width="1"/>
<circle cx="274.38" cy="442.01" r="1.20" fill="#4C9BEA" stroke="none" stroke-width="1"/>
<circle cx="280.30" cy="444.98" r="1.20" fill="#4C9BEA" stroke="none" stroke-width="1"/>
<circle cx="280.30" cy="443.00" r="1.20" fill="#4C9BEA" stroke="none" stroke-width="1"/>
<circle cx="281.49" cy="437.46" r="1.20" fill="#4C9BEA" stroke="none" stroke-width="1"/>
<circle cx="288.00" cy="446.37" r="1.20" fill="#4C9BEA" stroke="none" stroke-width="1"/>
<circle cx="290.37" cy="442.01" r="1.20" fill="#4C9BEA" stroke="none" stroke-width="1"/>
<circle cx="290.96" cy="436.07" r="1.20" fill="#4C9BEA" stroke="none" stroke-width="1"/>
<circle cx="292.15" cy="441.02" r="1.20" fill="#4C9BEA" stroke="none" stroke-width="1"/>
<circle cx="293.93" cy="442.01" r="1.20" fill="#4C9BEA" stroke="none" stroke-width="1"/>
<circle cx="293.93" cy="439.04" r="1.20" fill="#4C9BEA" stroke="none" stroke-width="1"/>
<circle cx="295.11" cy="442.01" r="1.20" fill="#4C9BEA" stroke="none" stroke-width="1"/>
<circle cx="299.26" cy="442.01" r="1.20" fill="#4C9BEA" stroke="none" stroke-width="1"/>
<circle cx="299.85" cy="439.04" r="1.20" fill="#4C9BEA" stroke="none" stroke-width="1"/>
<circle cx="301.04" cy="444.98" r="1.20" fill="#4C9BEA" stroke="none" stroke-width="1"/>
<circle cx="302.22" cy="439.04" r="1.20" fill="#4C9BEA" stroke="none" stroke-width="1"/>
<circle cx="302.81" cy="440.03" r="1.20" fill="#4C9BEA" stroke="none" stroke-width="1"/>
<circle cx="304.00" cy="438.05" r="1.20" fill="#4C9BEA" stroke="none" stroke-width="1"/>
<circle cx="305.19" cy="439.04" r="1.20" fill="#4C9BEA" stroke="none" stroke-width="1"/>
<circle cx="298.07" cy="436.07" r="1.20" fill="#4C9BEA" stroke="none" stroke-width="1"/>
<circle cx="287.41" cy="434.09" r="1.20" fill="#4C9BEA" stroke="none" stroke-width="1"/>
<circle cx="250.08" cy="439.04" r="1.20" fill="#4C9BEA" stroke="none" stroke-width="1"/>
<line x1="222.23" y1="444.39" x2="310.52" y2="434.09" stroke="#F03030" stroke-width="0.9"/>
<line x1="209.20" y1="413.00" x2="209.20" y2="492.90" stroke="#000" stroke-width="0.8"/>
<line x1="208.80" y1="492.50" x2="328.10" y2="492.50" stroke="#000" stroke-width="0.8"/>
<line x1="207.00" y1="492.50" x2="209.20" y2="492.50" stroke="#000" stroke-width="0.8"/>
<text x="206.00" y="494.50" font-family="Liberation Sans" font-size="6.3" text-anchor="end" fill="#111">0</text>
<line x1="207.00" y1="472.70" x2="209.20" y2="472.70" stroke="#000" stroke-width="0.8"/>
<text x="206.00" y="474.70" font-family="Liberation Sans" font-size="6.3" text-anchor="end" fill="#111">1</text>
<line x1="207.00" y1="452.90" x2="209.20" y2="452.90" stroke="#000" stroke-width="0.8"/>
<text x="206.00" y="454.90" font-family="Liberation Sans" font-size="6.3" text-anchor="end" fill="#111">2</text>
<line x1="207.00" y1="433.10" x2="209.20" y2="433.10" stroke="#000" stroke-width="0.8"/>
<text x="206.00" y="435.10" font-family="Liberation Sans" font-size="6.3" text-anchor="end" fill="#111">3</text>
<line x1="207.00" y1="413.30" x2="209.20" y2="413.30" stroke="#000" stroke-width="0.8"/>
<text x="206.00" y="415.30" font-family="Liberation Sans" font-size="6.3" text-anchor="end" fill="#111">4</text>
<line x1="209.20" y1="492.50" x2="209.20" y2="494.70" stroke="#000" stroke-width="0.8"/>
<text x="209.20" y="501.70" font-family="Liberation Sans" font-size="6.3" text-anchor="middle" fill="#111">0</text>
<line x1="238.82" y1="492.50" x2="238.82" y2="494.70" stroke="#000" stroke-width="0.8"/>
<text x="238.82" y="501.70" font-family="Liberation Sans" font-size="6.3" text-anchor="middle" fill="#111">50</text>
<line x1="268.45" y1="492.50" x2="268.45" y2="494.70" stroke="#000" stroke-width="0.8"/>
<text x="268.45" y="501.70" font-family="Liberation Sans" font-size="6.3" text-anchor="middle" fill="#111">100</text>
<line x1="298.07" y1="492.50" x2="298.07" y2="494.70" stroke="#000" stroke-width="0.8"/>
<text x="298.07" y="501.70" font-family="Liberation Sans" font-size="6.3" text-anchor="middle" fill="#111">150</text>
<line x1="327.70" y1="492.50" x2="327.70" y2="494.70" stroke="#000" stroke-width="0.8"/>
<text x="327.70" y="501.70" font-family="Liberation Sans" font-size="6.3" text-anchor="middle" fill="#111">200</text>
<text x="291.80" y="473.60" font-family="Liberation Sans" font-size="6.5" text-anchor="start" fill="#111">r =0.3290</text>
<text x="291.80" y="481.00" font-family="Liberation Sans" font-size="6.5" text-anchor="start" fill="#111">P=0.0040</text>
<text x="268.70" y="518.80" font-family="Liberation Serif" font-size="8.2" text-anchor="middle" fill="#000">CDAI</text>
<text x="181.60" y="452.60" font-family="Liberation Serif" font-size="8.2" text-anchor="middle" fill="#000" transform="rotate(-90 181.60 452.60)">Relative miR-124-3p</text>
<text x="191.40" y="452.60" font-family="Liberation Serif" font-size="8.2" text-anchor="middle" fill="#000" transform="rotate(-90 191.40 452.60)">expression to U6</text>
<text x="350.60" y="391.60" font-family="Liberation Serif" font-size="19.5" text-anchor="start" fill="#000">I</text>
<text x="452.00" y="404.20" font-family="Liberation Serif" font-size="8.6" text-anchor="middle" fill="#000">CD patients (n=75)</text>
<polyline points="410.64,440.63 446.55,436.24 494.43,425.07" fill="none" stroke="#B8B8B8" stroke-width="0.45"/>
<polyline points="410.64,449.61 446.55,439.43 494.43,435.64" fill="none" stroke="#B8B8B8" stroke-width="0.45"/>
<circle cx="410.64" cy="424.67" r="1.20" fill="#4C9BEA" stroke="none" stroke-width="1"/>
<circle cx="410.64" cy="428.26" r="1.20" fill="#4C9BEA" stroke="none" stroke-width="1"/>
<circle cx="410.64" cy="446.62" r="1.20" fill="#4C9BEA" stroke="none" stroke-width="1"/>
<circle cx="410.64" cy="453.60" r="1.20" fill="#4C9BEA" stroke="none" stroke-width="1"/>
<circle cx="410.64" cy="454.60" r="1.20" fill="#4C9BEA" stroke="none" stroke-width="1"/>
<circle cx="410.64" cy="464.17" r="1.20" fill="#4C9BEA" stroke="none" stroke-width="1"/>
<circle cx="410.64" cy="471.15" r="1.20" fill="#4C9BEA" stroke="none" stroke-width="1"/>
<circle cx="422.61" cy="420.68" r="1.20" fill="#4C9BEA" stroke="none" stroke-width="1"/>
<circle cx="422.61" cy="428.66" r="1.20" fill="#4C9BEA" stroke="none" stroke-width="1"/>
<circle cx="422.61" cy="430.65" r="1.20" fill="#4C9BEA" stroke="none" stroke-width="1"/>
<circle cx="422.61" cy="433.65" r="1.20" fill="#4C9BEA" stroke="none" stroke-width="1"/>
<circle cx="422.61" cy="437.64" r="1.20" fill="#4C9BEA" stroke="none" stroke-width="1"/>
<circle cx="422.61" cy="438.63" r="1.20" fill="#4C9BEA" stroke="none" stroke-width="1"/>
<circle cx="422.61" cy="440.63" r="1.20" fill="#4C9BEA" stroke="none" stroke-width="1"/>
<circle cx="422.61" cy="442.62" r="1.20" fill="#4C9BEA" stroke="none" stroke-width="1"/>
<circle cx="422.61" cy="444.62" r="1.20" fill="#4C9BEA" stroke="none" stroke-width="1"/>
<circle cx="422.61" cy="446.62" r="1.20" fill="#4C9BEA" stroke="none" stroke-width="1"/>
<circle cx="422.61" cy="448.61" r="1.20" fill="#4C9BEA" stroke="none" stroke-width="1"/>
<circle cx="422.61" cy="457.99" r="1.20" fill="#4C9BEA" stroke="none" stroke-width="1"/>
<circle cx="434.58" cy="428.26" r="1.20" fill="#4C9BEA" stroke="none" stroke-width="1"/>
<circle cx="434.58" cy="430.65" r="1.20" fill="#4C9BEA" stroke="none" stroke-width="1"/>
<circle cx="434.58" cy="433.65" r="1.20" fill="#4C9BEA" stroke="none" stroke-width="1"/>
<circle cx="434.58" cy="437.64" r="1.20" fill="#4C9BEA" stroke="none" stroke-width="1"/>
<circle cx="434.58" cy="439.63" r="1.20" fill="#4C9BEA" stroke="none" stroke-width="1"/>
<circle cx="434.58" cy="440.63" r="1.20" fill="#4C9BEA" stroke="none" stroke-width="1"/>
<circle cx="434.58" cy="441.63" r="1.20" fill="#4C9BEA" stroke="none" stroke-width="1"/>
<circle cx="434.58" cy="443.62" r="1.20" fill="#4C9BEA" stroke="none" stroke-width="1"/>
<circle cx="434.58" cy="445.62" r="1.20" fill="#4C9BEA" stroke="none" stroke-width="1"/>
<circle cx="434.58" cy="446.62" r="1.20" fill="#4C9BEA" stroke="none" stroke-width="1"/>
<circle cx="434.58" cy="457.59" r="1.20" fill="#4C9BEA" stroke="none" stroke-width="1"/>
<circle cx="446.55" cy="432.65" r="1.20" fill="#4C9BEA" stroke="none" stroke-width="1"/>
<circle cx="446.55" cy="433.65" r="1.20" fill="#4C9BEA" stroke="none" stroke-width="1"/>
<circle cx="446.55" cy="434.64" r="1.20" fill="#4C9BEA" stroke="none" stroke-width="1"/>
<circle cx="446.55" cy="435.64" r="1.20" fill="#4C9BEA" stroke="none" stroke-width="1"/>
<circle cx="446.55" cy="436.64" r="1.20" fill="#4C9BEA" stroke="none" stroke-width="1"/>
<circle cx="446.55" cy="437.64" r="1.20" fill="#4C9BEA" stroke="none" stroke-width="1"/>
<circle cx="446.55" cy="438.63" r="1.20" fill="#4C9BEA" stroke="none" stroke-width="1"/>
<circle cx="446.55" cy="439.63" r="1.20" fill="#4C9BEA" stroke="none" stroke-width="1"/>
<circle cx="446.55" cy="440.63" r="1.20" fill="#4C9BEA" stroke="none" stroke-width="1"/>
<circle cx="446.55" cy="441.63" r="1.20" fill="#4C9BEA" stroke="none" stroke-width="1"/>
<circle cx="446.55" cy="442.62" r="1.20" fill="#4C9BEA" stroke="none" stroke-width="1"/>
<circle cx="446.55" cy="444.62" r="1.20" fill="#4C9BEA" stroke="none" stroke-width="1"/>
<circle cx="446.55" cy="446.62" r="1.20" fill="#4C9BEA" stroke="none" stroke-width="1"/>
<circle cx="446.55" cy="447.61" r="1.20" fill="#4C9BEA" stroke="none" stroke-width="1"/>
<circle cx="458.52" cy="426.67" r="1.20" fill="#4C9BEA" stroke="none" stroke-width="1"/>
<circle cx="458.52" cy="430.65" r="1.20" fill="#4C9BEA" stroke="none" stroke-width="1"/>
<circle cx="458.52" cy="431.65" r="1.20" fill="#4C9BEA" stroke="none" stroke-width="1"/>
<circle cx="458.52" cy="432.65" r="1.20" fill="#4C9BEA" stroke="none" stroke-width="1"/>
<circle cx="458.52" cy="433.65" r="1.20" fill="#4C9BEA" stroke="none" stroke-width="1"/>
<circle cx="458.52" cy="434.64" r="1.20" fill="#4C9BEA" stroke="none" stroke-width="1"/>
<circle cx="458.52" cy="435.64" r="1.20" fill="#4C9BEA" stroke="none" stroke-width="1"/>
<circle cx="458.52" cy="436.64" r="1.20" fill="#4C9BEA" stroke="none" stroke-width="1"/>
<circle cx="458.52" cy="437.64" r="1.20" fill="#4C9BEA" stroke="none" stroke-width="1"/>
<circle cx="458.52" cy="438.63" r="1.20" fill="#4C9BEA" stroke="none" stroke-width="1"/>
<circle cx="458.52" cy="440.63" r="1.20" fill="#4C9BEA" stroke="none" stroke-width="1"/>
<circle cx="458.52" cy="444.62" r="1.20" fill="#4C9BEA" stroke="none" stroke-width="1"/>
<circle cx="458.52" cy="447.21" r="1.20" fill="#4C9BEA" stroke="none" stroke-width="1"/>
<circle cx="470.49" cy="433.25" r="1.20" fill="#4C9BEA" stroke="none" stroke-width="1"/>
<circle cx="470.49" cy="433.65" r="1.20" fill="#4C9BEA" stroke="none" stroke-width="1"/>
<circle cx="470.49" cy="438.63" r="1.20" fill="#4C9BEA" stroke="none" stroke-width="1"/>
<circle cx="470.49" cy="441.63" r="1.20" fill="#4C9BEA" stroke="none" stroke-width="1"/>
<circle cx="470.49" cy="445.22" r="1.20" fill="#4C9BEA" stroke="none" stroke-width="1"/>
<circle cx="482.46" cy="429.66" r="1.20" fill="#4C9BEA" stroke="none" stroke-width="1"/>
<circle cx="482.46" cy="431.05" r="1.20" fill="#4C9BEA" stroke="none" stroke-width="1"/>
<circle cx="494.43" cy="429.26" r="1.20" fill="#4C9BEA" stroke="none" stroke-width="1"/>
<line x1="410.64" y1="445.02" x2="494.43" y2="430.26" stroke="#F03030" stroke-width="0.9"/>
<line x1="386.70" y1="412.30" x2="386.70" y2="492.90" stroke="#000" stroke-width="0.8"/>
<line x1="386.30" y1="492.50" x2="506.80" y2="492.50" stroke="#000" stroke-width="0.8"/>
<line x1="384.50" y1="492.50" x2="386.70" y2="492.50" stroke="#000" stroke-width="0.8"/>
<text x="383.50" y="494.50" font-family="Liberation Sans" font-size="6.3" text-anchor="end" fill="#111">0</text>
<line x1="384.50" y1="472.55" x2="386.70" y2="472.55" stroke="#000" stroke-width="0.8"/>
<text x="383.50" y="474.55" font-family="Liberation Sans" font-size="6.3" text-anchor="end" fill="#111">1</text>
<line x1="384.50" y1="452.60" x2="386.70" y2="452.60" stroke="#000" stroke-width="0.8"/>
<text x="383.50" y="454.60" font-family="Liberation Sans" font-size="6.3" text-anchor="end" fill="#111">2</text>
<line x1="384.50" y1="432.65" x2="386.70" y2="432.65" stroke="#000" stroke-width="0.8"/>
<text x="383.50" y="434.65" font-family="Liberation Sans" font-size="6.3" text-anchor="end" fill="#111">3</text>
<line x1="384.50" y1="412.70" x2="386.70" y2="412.70" stroke="#000" stroke-width="0.8"/>
<text x="383.50" y="414.70" font-family="Liberation Sans" font-size="6.3" text-anchor="end" fill="#111">4</text>
<line x1="386.70" y1="492.50" x2="386.70" y2="494.70" stroke="#000" stroke-width="0.8"/>
<text x="386.70" y="501.70" font-family="Liberation Sans" font-size="6.3" text-anchor="middle" fill="#111">0</text>
<line x1="410.64" y1="492.50" x2="410.64" y2="494.70" stroke="#000" stroke-width="0.8"/>
<text x="410.64" y="501.70" font-family="Liberation Sans" font-size="6.3" text-anchor="middle" fill="#111">2</text>
<line x1="434.58" y1="492.50" x2="434.58" y2="494.70" stroke="#000" stroke-width="0.8"/>
<text x="434.58" y="501.70" font-family="Liberation Sans" font-size="6.3" text-anchor="middle" fill="#111">4</text>
<line x1="458.52" y1="492.50" x2="458.52" y2="494.70" stroke="#000" stroke-width="0.8"/>
<text x="458.52" y="501.70" font-family="Liberation Sans" font-size="6.3" text-anchor="middle" fill="#111">6</text>
<line x1="482.46" y1="492.50" x2="482.46" y2="494.70" stroke="#000" stroke-width="0.8"/>
<text x="482.46" y="501.70" font-family="Liberation Sans" font-size="6.3" text-anchor="middle" fill="#111">8</text>
<line x1="506.40" y1="492.50" x2="506.40" y2="494.70" stroke="#000" stroke-width="0.8"/>
<text x="506.40" y="501.70" font-family="Liberation Sans" font-size="6.3" text-anchor="middle" fill="#111">10</text>
<text x="472.00" y="474.80" font-family="Liberation Sans" font-size="6.5" text-anchor="start" fill="#111">r =0.3769</text>
<text x="472.00" y="482.20" font-family="Liberation Sans" font-size="6.5" text-anchor="start" fill="#111">P=0.0009</text>
<text x="445.00" y="518.20" font-family="Liberation Serif" font-size="8.2" text-anchor="middle" fill="#000">SES-CD</text>
<text x="363.20" y="451.60" font-family="Liberation Serif" font-size="8.2" text-anchor="middle" fill="#000" transform="rotate(-90 363.20 451.60)">Relative miR-124-3p</text>
<text x="373.60" y="451.60" font-family="Liberation Serif" font-size="8.2" text-anchor="middle" fill="#000" transform="rotate(-90 373.60 451.60)">expression to U6</text>
<text x="533.00" y="391.80" font-family="Liberation Serif" font-size="19.5" text-anchor="start" fill="#000">J</text>
<text x="625.20" y="400.40" font-family="Liberation Serif" font-size="8.6" text-anchor="middle" fill="#000">CD patients (n=75)</text>
<polyline points="599.02,437.36 634.44,452.82 654.60,459.58 672.46,462.96" fill="none" stroke="#B8B8B8" stroke-width="0.45"/>
<polyline points="599.02,452.33 634.44,458.61 654.60,465.38 672.46,471.66" fill="none" stroke="#B8B8B8" stroke-width="0.45"/>
<circle cx="599.02" cy="435.91" r="1.20" fill="#4C9BEA" stroke="none" stroke-width="1"/>
<circle cx="609.38" cy="435.91" r="1.20" fill="#4C9BEA" stroke="none" stroke-width="1"/>
<circle cx="637.32" cy="427.69" r="1.20" fill="#4C9BEA" stroke="none" stroke-width="1"/>
<circle cx="635.30" cy="443.15" r="1.20" fill="#4C9BEA" stroke="none" stroke-width="1"/>
<circle cx="661.80" cy="440.25" r="1.20" fill="#4C9BEA" stroke="none" stroke-width="1"/>
<circle cx="618.02" cy="453.78" r="1.20" fill="#4C9BEA" stroke="none" stroke-width="1"/>
<circle cx="618.60" cy="457.65" r="1.20" fill="#4C9BEA" stroke="none" stroke-width="1"/>
<circle cx="622.92" cy="456.68" r="1.20" fill="#4C9BEA" stroke="none" stroke-width="1"/>
<circle cx="624.36" cy="460.55" r="1.20" fill="#4C9BEA" stroke="none" stroke-width="1"/>
<circle cx="631.56" cy="451.85" r="1.20" fill="#4C9BEA" stroke="none" stroke-width="1"/>
<circle cx="672.46" cy="456.20" r="1.20" fill="#4C9BEA" stroke="none" stroke-width="1"/>
<circle cx="643.08" cy="478.42" r="1.20" fill="#4C9BEA" stroke="none" stroke-width="1"/>
<circle cx="646.54" cy="476.01" r="1.20" fill="#4C9BEA" stroke="none" stroke-width="1"/>
<circle cx="659.78" cy="479.87" r="1.20" fill="#4C9BEA" stroke="none" stroke-width="1"/>
<circle cx="661.80" cy="474.07" r="1.20" fill="#4C9BEA" stroke="none" stroke-width="1"/>
<circle cx="660.36" cy="472.14" r="1.20" fill="#4C9BEA" stroke="none" stroke-width="1"/>
<circle cx="637.90" cy="450.40" r="1.20" fill="#4C9BEA" stroke="none" stroke-width="1"/>
<circle cx="641.64" cy="451.37" r="1.20" fill="#4C9BEA" stroke="none" stroke-width="1"/>
<circle cx="645.38" cy="452.82" r="1.20" fill="#4C9BEA" stroke="none" stroke-width="1"/>
<circle cx="653.16" cy="449.92" r="1.20" fill="#4C9BEA" stroke="none" stroke-width="1"/>
<circle cx="654.60" cy="449.92" r="1.20" fill="#4C9BEA" stroke="none" stroke-width="1"/>
<circle cx="660.94" cy="451.85" r="1.20" fill="#4C9BEA" stroke="none" stroke-width="1"/>
<circle cx="664.10" cy="451.85" r="1.20" fill="#4C9BEA" stroke="none" stroke-width="1"/>
<circle cx="633.00" cy="457.16" r="1.20" fill="#4C9BEA" stroke="none" stroke-width="1"/>
<circle cx="634.44" cy="455.71" r="1.20" fill="#4C9BEA" stroke="none" stroke-width="1"/>
<circle cx="635.88" cy="464.41" r="1.20" fill="#4C9BEA" stroke="none" stroke-width="1"/>
<circle cx="637.32" cy="466.34" r="1.20" fill="#4C9BEA" stroke="none" stroke-width="1"/>
<circle cx="638.76" cy="467.79" r="1.20" fill="#4C9BEA" stroke="none" stroke-width="1"/>
<circle cx="637.90" cy="461.51" r="1.20" fill="#4C9BEA" stroke="none" stroke-width="1"/>
<circle cx="652.92" cy="461.67" r="1.20" fill="#4C9BEA" stroke="none" stroke-width="1"/>
<circle cx="661.67" cy="470.02" r="1.20" fill="#4C9BEA" stroke="none" stroke-width="1"/>
<circle cx="656.12" cy="461.61" r="1.20" fill="#4C9BEA" stroke="none" stroke-width="1"/>
<circle cx="648.62" cy="460.45" r="1.20" fill="#4C9BEA" stroke="none" stroke-width="1"/>
<circle cx="661.69" cy="468.32" r="1.20" fill="#4C9BEA" stroke="none" stroke-width="1"/>
<circle cx="638.98" cy="463.01" r="1.20" fill="#4C9BEA" stroke="none" stroke-width="1"/>
<circle cx="648.71" cy="460.00" r="1.20" fill="#4C9BEA" stroke="none" stroke-width="1"/>
<circle cx="651.58" cy="456.72" r="1.20" fill="#4C9BEA" stroke="none" stroke-width="1"/>
<circle cx="636.24" cy="455.76" r="1.20" fill="#4C9BEA" stroke="none" stroke-width="1"/>
<circle cx="660.95" cy="461.11" r="1.20" fill="#4C9BEA" stroke="none" stroke-width="1"/>
<circle cx="656.83" cy="459.29" r="1.20" fill="#4C9BEA" stroke="none" stroke-width="1"/>
<circle cx="639.68" cy="452.27" r="1.20" fill="#4C9BEA" stroke="none" stroke-width="1"/>
<circle cx="652.77" cy="461.18" r="1.20" fill="#4C9BEA" stroke="none" stroke-width="1"/>
<circle cx="659.72" cy="463.27" r="1.20" fill="#4C9BEA" stroke="none" stroke-width="1"/>
<circle cx="641.61" cy="455.88" r="1.20" fill="#4C9BEA" stroke="none" stroke-width="1"/>
<circle cx="659.75" cy="454.04" r="1.20" fill="#4C9BEA" stroke="none" stroke-width="1"/>
<circle cx="643.80" cy="454.52" r="1.20" fill="#4C9BEA" stroke="none" stroke-width="1"/>
<circle cx="654.43" cy="462.83" r="1.20" fill="#4C9BEA" stroke="none" stroke-width="1"/>
<circle cx="641.48" cy="453.08" r="1.20" fill="#4C9BEA" stroke="none" stroke-width="1"/>
<circle cx="662.33" cy="466.08" r="1.20" fill="#4C9BEA" stroke="none" stroke-width="1"/>
<circle cx="660.33" cy="464.57" r="1.20" fill="#4C9BEA" stroke="none" stroke-width="1"/>
<circle cx="640.42" cy="454.54" r="1.20" fill="#4C9BEA" stroke="none" stroke-width="1"/>
<circle cx="639.87" cy="454.79" r="1.20" fill="#4C9BEA" stroke="none" stroke-width="1"/>
<circle cx="652.38" cy="460.06" r="1.20" fill="#4C9BEA" stroke="none" stroke-width="1"/>
<circle cx="635.97" cy="457.59" r="1.20" fill="#4C9BEA" stroke="none" stroke-width="1"/>
<circle cx="644.36" cy="461.54" r="1.20" fill="#4C9BEA" stroke="none" stroke-width="1"/>
<circle cx="658.27" cy="465.90" r="1.20" fill="#4C9BEA" stroke="none" stroke-width="1"/>
<circle cx="649.05" cy="459.84" r="1.20" fill="#4C9BEA" stroke="none" stroke-width="1"/>
<circle cx="655.16" cy="453.43" r="1.20" fill="#4C9BEA" stroke="none" stroke-width="1"/>
<circle cx="636.51" cy="453.18" r="1.20" fill="#4C9BEA" stroke="none" stroke-width="1"/>
<circle cx="656.39" cy="462.05" r="1.20" fill="#4C9BEA" stroke="none" stroke-width="1"/>
<circle cx="657.43" cy="463.26" r="1.20" fill="#4C9BEA" stroke="none" stroke-width="1"/>
<circle cx="645.90" cy="459.64" r="1.20" fill="#4C9BEA" stroke="none" stroke-width="1"/>
<circle cx="637.16" cy="456.82" r="1.20" fill="#4C9BEA" stroke="none" stroke-width="1"/>
<circle cx="640.83" cy="455.56" r="1.20" fill="#4C9BEA" stroke="none" stroke-width="1"/>
<circle cx="656.56" cy="463.08" r="1.20" fill="#4C9BEA" stroke="none" stroke-width="1"/>
<circle cx="661.32" cy="460.99" r="1.20" fill="#4C9BEA" stroke="none" stroke-width="1"/>
<circle cx="645.59" cy="460.26" r="1.20" fill="#4C9BEA" stroke="none" stroke-width="1"/>
<circle cx="650.24" cy="460.29" r="1.20" fill="#4C9BEA" stroke="none" stroke-width="1"/>
<circle cx="656.36" cy="464.00" r="1.20" fill="#4C9BEA" stroke="none" stroke-width="1"/>
<circle cx="657.69" cy="462.22" r="1.20" fill="#4C9BEA" stroke="none" stroke-width="1"/>
<circle cx="661.76" cy="464.74" r="1.20" fill="#4C9BEA" stroke="none" stroke-width="1"/>
<circle cx="638.37" cy="459.48" r="1.20" fill="#4C9BEA" stroke="none" stroke-width="1"/>
<circle cx="661.00" cy="459.89" r="1.20" fill="#4C9BEA" stroke="none" stroke-width="1"/>
<circle cx="645.18" cy="455.25" r="1.20" fill="#4C9BEA" stroke="none" stroke-width="1"/>
<circle cx="644.43" cy="460.74" r="1.20" fill="#4C9BEA" stroke="none" stroke-width="1"/>
<line x1="599.02" y1="445.09" x2="672.46" y2="467.31" stroke="#F03030" stroke-width="0.9"/>
<line x1="568.20" y1="412.80" x2="568.20" y2="490.90" stroke="#000" stroke-width="0.8"/>
<line x1="567.80" y1="490.50" x2="683.60" y2="490.50" stroke="#000" stroke-width="0.8"/>
<line x1="566.00" y1="490.50" x2="568.20" y2="490.50" stroke="#000" stroke-width="0.8"/>
<text x="565.00" y="492.50" font-family="Liberation Sans" font-size="6.3" text-anchor="end" fill="#111">0.0</text>
<line x1="566.00" y1="471.18" x2="568.20" y2="471.18" stroke="#000" stroke-width="0.8"/>
<text x="565.00" y="473.18" font-family="Liberation Sans" font-size="6.3" text-anchor="end" fill="#111">0.2</text>
<line x1="566.00" y1="451.85" x2="568.20" y2="451.85" stroke="#000" stroke-width="0.8"/>
<text x="565.00" y="453.85" font-family="Liberation Sans" font-size="6.3" text-anchor="end" fill="#111">0.4</text>
<line x1="566.00" y1="432.52" x2="568.20" y2="432.52" stroke="#000" stroke-width="0.8"/>
<text x="565.00" y="434.52" font-family="Liberation Sans" font-size="6.3" text-anchor="end" fill="#111">0.6</text>
<line x1="566.00" y1="413.20" x2="568.20" y2="413.20" stroke="#000" stroke-width="0.8"/>
<text x="565.00" y="415.20" font-family="Liberation Sans" font-size="6.3" text-anchor="end" fill="#111">0.8</text>
<line x1="568.20" y1="490.50" x2="568.20" y2="492.70" stroke="#000" stroke-width="0.8"/>
<text x="568.20" y="499.70" font-family="Liberation Sans" font-size="6.3" text-anchor="middle" fill="#111">0</text>
<line x1="597.00" y1="490.50" x2="597.00" y2="492.70" stroke="#000" stroke-width="0.8"/>
<text x="597.00" y="499.70" font-family="Liberation Sans" font-size="6.3" text-anchor="middle" fill="#111">1</text>
<line x1="625.80" y1="490.50" x2="625.80" y2="492.70" stroke="#000" stroke-width="0.8"/>
<text x="625.80" y="499.70" font-family="Liberation Sans" font-size="6.3" text-anchor="middle" fill="#111">2</text>
<line x1="654.60" y1="490.50" x2="654.60" y2="492.70" stroke="#000" stroke-width="0.8"/>
<text x="654.60" y="499.70" font-family="Liberation Sans" font-size="6.3" text-anchor="middle" fill="#111">3</text>
<line x1="683.40" y1="490.50" x2="683.40" y2="492.70" stroke="#000" stroke-width="0.8"/>
<text x="683.40" y="499.70" font-family="Liberation Sans" font-size="6.3" text-anchor="middle" fill="#111">4</text>
<text x="575.00" y="472.40" font-family="Liberation Sans" font-size="6.5" text-anchor="start" fill="#111">r=-0.4340</text>
<text x="575.00" y="479.80" font-family="Liberation Sans" font-size="6.5" text-anchor="start" fill="#111">P=0.0001</text>
<text x="629.20" y="510.80" font-family="Liberation Serif" font-size="8.2" text-anchor="middle" fill="#000">Relative miR-124-3p</text>
<text x="628.20" y="520.20" font-family="Liberation Serif" font-size="8.2" text-anchor="middle" fill="#000">expression to U6</text>
<text x="540.20" y="451.60" font-family="Liberation Serif" font-size="8.2" text-anchor="middle" fill="#000" transform="rotate(-90 540.20 451.60)">Relative circGMCL1</text>
<text x="550.20" y="451.60" font-family="Liberation Serif" font-size="8.2" text-anchor="middle" fill="#000" transform="rotate(-90 550.20 451.60)">expression to U6</text>
<text x="373.00" y="540.60" font-family="Liberation Serif" font-size="19.5" text-anchor="start" fill="#000">L</text>
<text x="459.50" y="560.50" font-family="Liberation Sans" font-size="8.15" text-anchor="middle" fill="#111">Isolated epithelial cells</text>
<rect x="435.40" y="611.17" width="22.60" height="65.53" fill="#FF7F00" stroke="none" stroke-width="1"/>
<rect x="469.30" y="649.83" width="22.70" height="26.87" fill="#57A0F2" stroke="none" stroke-width="1"/>
<line x1="424.40" y1="578.00" x2="424.40" y2="677.10" stroke="#000" stroke-width="0.8"/>
<line x1="424.00" y1="676.70" x2="503.60" y2="676.70" stroke="#000" stroke-width="0.8"/>
<line x1="422.00" y1="676.70" x2="424.40" y2="676.70" stroke="#000" stroke-width="0.8"/>
<text x="421.20" y="679.30" font-family="Liberation Sans" font-size="7.5" text-anchor="end" fill="#111">0.0</text>
<line x1="422.00" y1="643.93" x2="424.40" y2="643.93" stroke="#000" stroke-width="0.8"/>
<text x="421.20" y="646.53" font-family="Liberation Sans" font-size="7.5" text-anchor="end" fill="#111">0.5</text>
<line x1="422.00" y1="611.17" x2="424.40" y2="611.17" stroke="#000" stroke-width="0.8"/>
<text x="421.20" y="613.77" font-family="Liberation Sans" font-size="7.5" text-anchor="end" fill="#111">1.0</text>
<line x1="422.00" y1="578.40" x2="424.40" y2="578.40" stroke="#000" stroke-width="0.8"/>
<text x="421.20" y="581.00" font-family="Liberation Sans" font-size="7.5" text-anchor="end" fill="#111">1.5</text>
<line x1="446.70" y1="676.70" x2="446.70" y2="679.10" stroke="#000" stroke-width="0.8"/>
<line x1="446.70" y1="603.60" x2="446.70" y2="619.50" stroke="#222" stroke-width="0.6"/>
<line x1="443.70" y1="603.60" x2="449.70" y2="603.60" stroke="#222" stroke-width="0.6"/>
<line x1="443.70" y1="619.50" x2="449.70" y2="619.50" stroke="#222" stroke-width="0.6"/>
<line x1="480.65" y1="676.70" x2="480.65" y2="679.10" stroke="#000" stroke-width="0.8"/>
<line x1="480.65" y1="643.30" x2="480.65" y2="656.00" stroke="#222" stroke-width="0.6"/>
<line x1="477.65" y1="643.30" x2="483.65" y2="643.30" stroke="#222" stroke-width="0.6"/>
<line x1="477.65" y1="656.00" x2="483.65" y2="656.00" stroke="#222" stroke-width="0.6"/>
<circle cx="446.60" cy="599.40" r="1.50" fill="none" stroke="#111" stroke-width="0.95"/>
<circle cx="446.60" cy="604.70" r="1.50" fill="none" stroke="#111" stroke-width="0.95"/>
<circle cx="446.60" cy="611.00" r="1.50" fill="none" stroke="#111" stroke-width="0.95"/>
<circle cx="449.40" cy="616.40" r="1.50" fill="none" stroke="#111" stroke-width="0.95"/>
<circle cx="444.30" cy="616.90" r="1.50" fill="none" stroke="#111" stroke-width="0.95"/>
<circle cx="446.60" cy="620.00" r="1.50" fill="none" stroke="#111" stroke-width="0.95"/>
<circle cx="481.00" cy="638.60" r="1.50" fill="none" stroke="#111" stroke-width="0.95"/>
<circle cx="478.00" cy="646.00" r="1.50" fill="none" stroke="#111" stroke-width="0.95"/>
<circle cx="483.30" cy="646.00" r="1.50" fill="none" stroke="#111" stroke-width="0.95"/>
<circle cx="478.00" cy="651.50" r="1.50" fill="none" stroke="#111" stroke-width="0.95"/>
<circle cx="478.00" cy="656.80" r="1.50" fill="none" stroke="#111" stroke-width="0.95"/>
<circle cx="483.80" cy="656.00" r="1.50" fill="none" stroke="#111" stroke-width="0.95"/>
<polyline points="446.60,593.20 446.60,591.20 482.60,591.20 482.60,593.20" fill="none" stroke="#111" stroke-width="0.95"/>
<text x="464.00" y="585.40" font-family="Liberation Sans" font-size="7" text-anchor="middle" fill="#111">***</text>
<text x="446.70" y="688.00" font-family="Liberation Sans" font-size="7.1" text-anchor="middle" fill="#111">NC</text>
<text x="480.65" y="688.00" font-family="Liberation Sans" font-size="7.1" text-anchor="middle" fill="#111">CD</text>
<text x="393.60" y="628.00" font-family="Liberation Sans" font-size="7.8" text-anchor="middle" fill="#111" transform="rotate(-90 393.60 628.00)">Relative circGMCL1</text>
<text x="403.40" y="628.00" font-family="Liberation Sans" font-size="7.8" text-anchor="middle" fill="#111" transform="rotate(-90 403.40 628.00)">expression to NC</text>
<text x="528.00" y="540.60" font-family="Liberation Serif" font-size="19.5" text-anchor="start" fill="#000">M</text>
<text x="618.40" y="559.80" font-family="Liberation Sans" font-size="8.45" text-anchor="middle" fill="#111">Isolated epithelial cells</text>
<rect x="593.20" y="651.50" width="22.90" height="25.70" fill="#FF7F00" stroke="none" stroke-width="1"/>
<rect x="628.20" y="614.75" width="23.60" height="62.45" fill="#57A0F2" stroke="none" stroke-width="1"/>
<line x1="581.80" y1="574.00" x2="581.80" y2="677.60" stroke="#000" stroke-width="0.8"/>
<line x1="581.40" y1="677.20" x2="664.00" y2="677.20" stroke="#000" stroke-width="0.8"/>
<line x1="579.40" y1="677.20" x2="581.80" y2="677.20" stroke="#000" stroke-width="0.8"/>
<text x="578.60" y="679.80" font-family="Liberation Sans" font-size="7.5" text-anchor="end" fill="#111">0</text>
<line x1="579.40" y1="651.50" x2="581.80" y2="651.50" stroke="#000" stroke-width="0.8"/>
<text x="578.60" y="654.10" font-family="Liberation Sans" font-size="7.5" text-anchor="end" fill="#111">1</text>
<line x1="579.40" y1="625.80" x2="581.80" y2="625.80" stroke="#000" stroke-width="0.8"/>
<text x="578.60" y="628.40" font-family="Liberation Sans" font-size="7.5" text-anchor="end" fill="#111">2</text>
<line x1="579.40" y1="600.10" x2="581.80" y2="600.10" stroke="#000" stroke-width="0.8"/>
<text x="578.60" y="602.70" font-family="Liberation Sans" font-size="7.5" text-anchor="end" fill="#111">3</text>
<line x1="579.40" y1="574.40" x2="581.80" y2="574.40" stroke="#000" stroke-width="0.8"/>
<text x="578.60" y="577.00" font-family="Liberation Sans" font-size="7.5" text-anchor="end" fill="#111">4</text>
<line x1="604.65" y1="677.20" x2="604.65" y2="679.60" stroke="#000" stroke-width="0.8"/>
<line x1="604.65" y1="649.20" x2="604.65" y2="653.60" stroke="#222" stroke-width="0.6"/>
<line x1="601.65" y1="649.20" x2="607.65" y2="649.20" stroke="#222" stroke-width="0.6"/>
<line x1="601.65" y1="653.60" x2="607.65" y2="653.60" stroke="#222" stroke-width="0.6"/>
<line x1="640.00" y1="677.20" x2="640.00" y2="679.60" stroke="#000" stroke-width="0.8"/>
<line x1="640.00" y1="605.20" x2="640.00" y2="623.40" stroke="#222" stroke-width="0.6"/>
<line x1="637.00" y1="605.20" x2="643.00" y2="605.20" stroke="#222" stroke-width="0.6"/>
<line x1="637.00" y1="623.40" x2="643.00" y2="623.40" stroke="#222" stroke-width="0.6"/>
<circle cx="599.30" cy="651.50" r="1.50" fill="none" stroke="#111" stroke-width="0.95"/>
<circle cx="604.90" cy="648.40" r="1.50" fill="none" stroke="#111" stroke-width="0.95"/>
<circle cx="610.30" cy="648.40" r="1.50" fill="none" stroke="#111" stroke-width="0.95"/>
<circle cx="599.30" cy="655.00" r="1.50" fill="none" stroke="#111" stroke-width="0.95"/>
<circle cx="604.90" cy="653.80" r="1.50" fill="none" stroke="#111" stroke-width="0.95"/>
<circle cx="611.00" cy="653.80" r="1.50" fill="none" stroke="#111" stroke-width="0.95"/>
<circle cx="640.00" cy="603.60" r="1.50" fill="none" stroke="#111" stroke-width="0.95"/>
<circle cx="637.10" cy="610.60" r="1.50" fill="none" stroke="#111" stroke-width="0.95"/>
<circle cx="643.00" cy="610.60" r="1.50" fill="none" stroke="#111" stroke-width="0.95"/>
<circle cx="637.10" cy="613.60" r="1.50" fill="none" stroke="#111" stroke-width="0.95"/>
<circle cx="637.10" cy="626.20" r="1.50" fill="none" stroke="#111" stroke-width="0.95"/>
<circle cx="643.00" cy="624.60" r="1.50" fill="none" stroke="#111" stroke-width="0.95"/>
<polyline points="604.40,590.40 604.40,588.40 641.00,588.40 641.00,590.40" fill="none" stroke="#111" stroke-width="0.95"/>
<text x="621.20" y="581.40" font-family="Liberation Sans" font-size="7" text-anchor="middle" fill="#111">***</text>
<text x="604.65" y="689.00" font-family="Liberation Sans" font-size="7.1" text-anchor="middle" fill="#111">NC</text>
<text x="640.00" y="689.00" font-family="Liberation Sans" font-size="7.1" text-anchor="middle" fill="#111">CD</text>
<text x="555.80" y="625.80" font-family="Liberation Sans" font-size="7.8" text-anchor="middle" fill="#111" transform="rotate(-90 555.80 625.80)">Relative miR-124-3p</text>
<text x="566.20" y="625.80" font-family="Liberation Sans" font-size="7.8" text-anchor="middle" fill="#111" transform="rotate(-90 566.20 625.80)">expression to NC</text>
<text x="0.00" y="541.00" font-family="Liberation Serif" font-size="19.5" text-anchor="start" fill="#000">K</text>
<text x="73.00" y="558.20" font-family="Liberation Serif" font-size="7.9" text-anchor="middle" fill="#000">DAPI</text>
<text x="147.50" y="558.20" font-family="Liberation Serif" font-size="7.9" text-anchor="middle" fill="#000">circGMCL1</text>
<text x="236.70" y="558.20" font-family="Liberation Serif" font-size="7.9" text-anchor="middle" fill="#000">miR-124-3p</text>
<text x="318.20" y="558.20" font-family="Liberation Serif" font-size="7.9" text-anchor="middle" fill="#000">Merge</text>
<text x="19.80" y="595.60" font-family="Liberation Serif" font-size="8.3" text-anchor="start" fill="#000">NC</text>
<text x="19.80" y="653.40" font-family="Liberation Serif" font-size="8.3" text-anchor="start" fill="#000">CD</text>
<defs><g id="nucNC"><ellipse cx="23.8" cy="40.3" rx="2.1" ry="1.8" transform="rotate(112 23.8 40.3)"/><ellipse cx="83.7" cy="19.2" rx="1.9" ry="1.9" transform="rotate(84 83.7 19.2)"/><ellipse cx="63.5" cy="64.2" rx="2.3" ry="2.1" transform="rotate(120 63.5 64.2)"/><ellipse cx="47.3" cy="53.2" rx="2.7" ry="2.5" transform="rotate(165 47.3 53.2)"/><ellipse cx="39.5" cy="59.3" rx="2.2" ry="2.1" transform="rotate(158 39.5 59.3)"/><ellipse cx="21.7" cy="71.4" rx="2.2" ry="1.9" transform="rotate(54 21.7 71.4)"/><ellipse cx="50.7" cy="28.6" rx="2.1" ry="1.8" transform="rotate(105 50.7 28.6)"/><ellipse cx="90.4" cy="50.5" rx="2.8" ry="2.7" transform="rotate(178 90.4 50.5)"/><ellipse cx="86.1" cy="71.4" rx="2.8" ry="2.4" transform="rotate(128 86.1 71.4)"/><ellipse cx="21.1" cy="61.5" rx="2.3" ry="1.8" transform="rotate(11 21.1 61.5)"/><ellipse cx="85.4" cy="73.2" rx="1.7" ry="1.6" transform="rotate(73 85.4 73.2)"/><ellipse cx="76.9" cy="64.6" rx="1.7" ry="1.5" transform="rotate(8 76.9 64.6)"/><ellipse cx="88.1" cy="72.6" rx="2.3" ry="2.3" transform="rotate(55 88.1 72.6)"/><ellipse cx="7.7" cy="44.4" rx="1.6" ry="1.2" transform="rotate(73 7.7 44.4)"/><ellipse cx="31.4" cy="70.9" rx="2.8" ry="2.2" transform="rotate(82 31.4 70.9)"/><ellipse cx="59.6" cy="41.4" rx="2.4" ry="2.4" transform="rotate(91 59.6 41.4)"/><ellipse cx="43.1" cy="53.3" rx="1.9" ry="1.5" transform="rotate(176 43.1 53.3)"/><ellipse cx="52.1" cy="40.6" rx="1.6" ry="1.3" transform="rotate(104 52.1 40.6)"/><ellipse cx="62.7" cy="34.5" rx="2.5" ry="2.0" transform="rotate(127 62.7 34.5)"/><ellipse cx="45.6" cy="43.9" rx="2.0" ry="1.6" transform="rotate(56 45.6 43.9)"/><ellipse cx="36.9" cy="44.1" rx="2.0" ry="1.6" transform="rotate(139 36.9 44.1)"/><ellipse cx="2.7" cy="42.1" rx="2.6" ry="2.0" transform="rotate(40 2.7 42.1)"/><ellipse cx="18.7" cy="32.2" rx="2.5" ry="1.8" transform="rotate(57 18.7 32.2)"/><ellipse cx="33.4" cy="61.7" rx="2.2" ry="2.1" transform="rotate(30 33.4 61.7)"/><ellipse cx="33.7" cy="48.1" rx="2.8" ry="2.3" transform="rotate(40 33.7 48.1)"/><ellipse cx="12.1" cy="39.2" rx="1.8" ry="1.7" transform="rotate(150 12.1 39.2)"/><ellipse cx="80.6" cy="25.6" rx="1.8" ry="1.4" transform="rotate(142 80.6 25.6)"/><ellipse cx="27.1" cy="25.6" rx="2.1" ry="1.8" transform="rotate(73 27.1 25.6)"/><ellipse cx="88.0" cy="73.0" rx="2.2" ry="2.1" transform="rotate(166 88.0 73.0)"/><ellipse cx="22.2" cy="55.2" rx="2.7" ry="2.4" transform="rotate(93 22.2 55.2)"/><ellipse cx="28.9" cy="25.2" rx="1.9" ry="1.4" transform="rotate(105 28.9 25.2)"/><ellipse cx="28.7" cy="60.0" rx="1.7" ry="1.6" transform="rotate(124 28.7 60.0)"/><ellipse cx="90.0" cy="42.7" rx="1.6" ry="1.5" transform="rotate(30 90.0 42.7)"/><ellipse cx="30.0" cy="49.1" rx="2.3" ry="1.9" transform="rotate(169 30.0 49.1)"/><ellipse cx="61.2" cy="25.3" rx="1.9" ry="1.8" transform="rotate(85 61.2 25.3)"/><ellipse cx="19.7" cy="39.6" rx="2.7" ry="2.0" transform="rotate(142 19.7 39.6)"/><ellipse cx="62.9" cy="63.8" rx="1.7" ry="1.3" transform="rotate(48 62.9 63.8)"/><ellipse cx="52.7" cy="31.3" rx="2.2" ry="2.1" transform="rotate(0 52.7 31.3)"/><ellipse cx="8.6" cy="37.2" rx="2.0" ry="1.6" transform="rotate(63 8.6 37.2)"/><ellipse cx="55.6" cy="53.0" rx="2.1" ry="1.5" transform="rotate(32 55.6 53.0)"/><ellipse cx="37.3" cy="44.7" rx="2.6" ry="2.1" transform="rotate(144 37.3 44.7)"/><ellipse cx="62.3" cy="31.9" rx="2.1" ry="1.8" transform="rotate(126 62.3 31.9)"/><ellipse cx="42.1" cy="51.4" rx="2.2" ry="1.7" transform="rotate(96 42.1 51.4)"/><ellipse cx="42.5" cy="31.5" rx="2.7" ry="2.7" transform="rotate(67 42.5 31.5)"/><ellipse cx="89.8" cy="58.5" rx="1.9" ry="1.6" transform="rotate(22 89.8 58.5)"/><ellipse cx="88.7" cy="58.6" rx="2.5" ry="2.3" transform="rotate(101 88.7 58.6)"/><ellipse cx="10.3" cy="43.5" rx="1.6" ry="1.2" transform="rotate(139 10.3 43.5)"/><ellipse cx="84.4" cy="49.8" rx="2.7" ry="2.6" transform="rotate(104 84.4 49.8)"/><ellipse cx="76.7" cy="37.8" rx="2.5" ry="1.9" transform="rotate(134 76.7 37.8)"/><ellipse cx="32.4" cy="41.7" rx="2.7" ry="2.1" transform="rotate(32 32.4 41.7)"/><ellipse cx="75.4" cy="29.1" rx="2.1" ry="1.7" transform="rotate(63 75.4 29.1)"/><ellipse cx="50.0" cy="72.0" rx="2.1" ry="2.0" transform="rotate(28 50.0 72.0)"/><ellipse cx="69.1" cy="56.0" rx="2.5" ry="2.1" transform="rotate(87 69.1 56.0)"/><ellipse cx="64.3" cy="66.4" rx="1.8" ry="1.3" transform="rotate(134 64.3 66.4)"/><ellipse cx="91.7" cy="38.3" rx="2.2" ry="2.0" transform="rotate(33 91.7 38.3)"/><ellipse cx="23.2" cy="51.1" rx="2.8" ry="2.2" transform="rotate(126 23.2 51.1)"/><ellipse cx="41.3" cy="63.2" rx="2.4" ry="1.8" transform="rotate(39 41.3 63.2)"/><ellipse cx="36.0" cy="23.8" rx="2.6" ry="1.9" transform="rotate(178 36.0 23.8)"/><ellipse cx="46.8" cy="61.8" rx="2.7" ry="2.3" transform="rotate(86 46.8 61.8)"/><ellipse cx="40.0" cy="54.3" rx="2.8" ry="2.4" transform="rotate(41 40.0 54.3)"/><ellipse cx="23.5" cy="53.1" rx="2.5" ry="2.4" transform="rotate(153 23.5 53.1)"/><ellipse cx="70.5" cy="63.5" rx="2.8" ry="2.2" transform="rotate(155 70.5 63.5)"/><ellipse cx="31.3" cy="31.3" rx="2.5" ry="1.8" transform="rotate(16 31.3 31.3)"/><ellipse cx="83.4" cy="21.6" rx="2.1" ry="1.8" transform="rotate(121 83.4 21.6)"/><ellipse cx="43.6" cy="36.0" rx="1.9" ry="1.6" transform="rotate(171 43.6 36.0)"/><ellipse cx="39.1" cy="40.3" rx="1.8" ry="1.4" transform="rotate(119 39.1 40.3)"/><ellipse cx="11.3" cy="65.7" rx="2.8" ry="2.0" transform="rotate(169 11.3 65.7)"/><ellipse cx="75.7" cy="21.9" rx="2.5" ry="2.2" transform="rotate(145 75.7 21.9)"/><ellipse cx="26.6" cy="55.8" rx="2.8" ry="2.6" transform="rotate(96 26.6 55.8)"/><ellipse cx="11.3" cy="36.5" rx="2.1" ry="1.9" transform="rotate(122 11.3 36.5)"/><ellipse cx="64.6" cy="46.7" rx="1.8" ry="1.8" transform="rotate(117 64.6 46.7)"/><ellipse cx="12.3" cy="69.0" rx="1.8" ry="1.4" transform="rotate(129 12.3 69.0)"/><ellipse cx="59.7" cy="41.1" rx="2.4" ry="2.0" transform="rotate(56 59.7 41.1)"/><ellipse cx="71.6" cy="55.8" rx="2.3" ry="2.1" transform="rotate(64 71.6 55.8)"/><ellipse cx="26.6" cy="28.4" rx="2.7" ry="1.9" transform="rotate(90 26.6 28.4)"/><ellipse cx="24.7" cy="56.9" rx="2.1" ry="1.6" transform="rotate(72 24.7 56.9)"/><ellipse cx="54.1" cy="57.1" rx="2.1" ry="2.0" transform="rotate(20 54.1 57.1)"/><ellipse cx="11.3" cy="57.6" rx="2.5" ry="1.9" transform="rotate(34 11.3 57.6)"/><ellipse cx="41.7" cy="55.0" rx="2.7" ry="2.5" transform="rotate(106 41.7 55.0)"/><ellipse cx="14.6" cy="29.5" rx="1.9" ry="1.6" transform="rotate(102 14.6 29.5)"/><ellipse cx="80.3" cy="65.9" rx="2.8" ry="2.3" transform="rotate(99 80.3 65.9)"/><ellipse cx="58.3" cy="46.9" rx="2.9" ry="2.6" transform="rotate(53 58.3 46.9)"/><ellipse cx="86.0" cy="35.8" rx="2.4" ry="2.2" transform="rotate(0 86.0 35.8)"/><ellipse cx="49.2" cy="38.7" rx="2.2" ry="1.7" transform="rotate(95 49.2 38.7)"/><ellipse cx="3.7" cy="37.0" rx="2.4" ry="2.0" transform="rotate(101 3.7 37.0)"/><ellipse cx="13.6" cy="58.6" rx="2.4" ry="1.7" transform="rotate(64 13.6 58.6)"/><ellipse cx="32.3" cy="64.4" rx="2.5" ry="1.9" transform="rotate(154 32.3 64.4)"/><ellipse cx="60.1" cy="68.6" rx="2.5" ry="2.3" transform="rotate(61 60.1 68.6)"/><ellipse cx="80.7" cy="68.9" rx="2.7" ry="2.3" transform="rotate(136 80.7 68.9)"/><ellipse cx="49.7" cy="51.7" rx="2.3" ry="1.9" transform="rotate(116 49.7 51.7)"/><ellipse cx="30.5" cy="34.4" rx="2.6" ry="2.1" transform="rotate(32 30.5 34.4)"/><ellipse cx="89.9" cy="53.3" rx="2.1" ry="1.7" transform="rotate(95 89.9 53.3)"/><ellipse cx="16.8" cy="36.3" rx="1.7" ry="1.2" transform="rotate(80 16.8 36.3)"/><ellipse cx="40.8" cy="52.1" rx="1.7" ry="1.4" transform="rotate(71 40.8 52.1)"/><ellipse cx="62.2" cy="25.6" rx="1.8" ry="1.3" transform="rotate(130 62.2 25.6)"/><ellipse cx="27.5" cy="58.3" rx="2.2" ry="2.2" transform="rotate(54 27.5 58.3)"/><ellipse cx="68.2" cy="71.7" rx="2.4" ry="1.7" transform="rotate(5 68.2 71.7)"/><ellipse cx="65.4" cy="66.6" rx="1.9" ry="1.8" transform="rotate(85 65.4 66.6)"/><ellipse cx="80.4" cy="67.9" rx="2.8" ry="2.0" transform="rotate(54 80.4 67.9)"/><ellipse cx="60.7" cy="70.0" rx="1.7" ry="1.4" transform="rotate(152 60.7 70.0)"/><ellipse cx="33.4" cy="50.3" rx="2.8" ry="2.1" transform="rotate(133 33.4 50.3)"/><ellipse cx="73.4" cy="61.8" rx="2.3" ry="2.3" transform="rotate(65 73.4 61.8)"/><ellipse cx="77.9" cy="35.6" rx="2.0" ry="1.5" transform="rotate(129 77.9 35.6)"/><ellipse cx="60.6" cy="52.6" rx="2.1" ry="1.8" transform="rotate(27 60.6 52.6)"/><ellipse cx="46.7" cy="56.1" rx="2.5" ry="1.8" transform="rotate(42 46.7 56.1)"/><ellipse cx="84.4" cy="47.5" rx="2.7" ry="2.6" transform="rotate(80 84.4 47.5)"/><ellipse cx="89.7" cy="54.2" rx="2.0" ry="1.6" transform="rotate(12 89.7 54.2)"/><ellipse cx="39.9" cy="70.7" rx="1.7" ry="1.5" transform="rotate(19 39.9 70.7)"/><ellipse cx="8.1" cy="48.0" rx="1.9" ry="1.4" transform="rotate(27 8.1 48.0)"/><ellipse cx="56.2" cy="31.1" rx="2.6" ry="2.3" transform="rotate(141 56.2 31.1)"/><ellipse cx="19.9" cy="66.1" rx="1.7" ry="1.4" transform="rotate(40 19.9 66.1)"/><ellipse cx="82.9" cy="45.5" rx="2.4" ry="2.3" transform="rotate(156 82.9 45.5)"/><ellipse cx="34.6" cy="44.6" rx="2.2" ry="1.6" transform="rotate(150 34.6 44.6)"/><ellipse cx="59.4" cy="60.3" rx="1.9" ry="1.6" transform="rotate(83 59.4 60.3)"/><ellipse cx="34.6" cy="35.9" rx="1.7" ry="1.5" transform="rotate(132 34.6 35.9)"/><ellipse cx="42.3" cy="48.0" rx="2.4" ry="1.8" transform="rotate(63 42.3 48.0)"/><ellipse cx="87.5" cy="73.0" rx="2.4" ry="2.3" transform="rotate(96 87.5 73.0)"/><ellipse cx="41.9" cy="70.2" rx="2.8" ry="2.7" transform="rotate(87 41.9 70.2)"/><ellipse cx="77.3" cy="30.1" rx="2.9" ry="2.8" transform="rotate(52 77.3 30.1)"/><ellipse cx="9.6" cy="53.5" rx="2.0" ry="1.7" transform="rotate(115 9.6 53.5)"/><ellipse cx="27.6" cy="32.0" rx="2.0" ry="1.9" transform="rotate(134 27.6 32.0)"/><ellipse cx="29.9" cy="30.4" rx="1.7" ry="1.3" transform="rotate(137 29.9 30.4)"/><ellipse cx="70.0" cy="72.3" rx="2.9" ry="2.8" transform="rotate(67 70.0 72.3)"/><ellipse cx="46.3" cy="38.9" rx="2.3" ry="1.9" transform="rotate(153 46.3 38.9)"/><ellipse cx="28.5" cy="34.3" rx="2.8" ry="2.6" transform="rotate(53 28.5 34.3)"/><ellipse cx="24.3" cy="59.7" rx="1.6" ry="1.2" transform="rotate(95 24.3 59.7)"/><ellipse cx="77.0" cy="34.5" rx="2.9" ry="2.7" transform="rotate(176 77.0 34.5)"/><ellipse cx="80.2" cy="30.9" rx="1.9" ry="1.4" transform="rotate(77 80.2 30.9)"/><ellipse cx="62.7" cy="50.0" rx="2.8" ry="2.6" transform="rotate(44 62.7 50.0)"/><ellipse cx="13.6" cy="56.1" rx="2.6" ry="2.2" transform="rotate(149 13.6 56.1)"/><ellipse cx="64.3" cy="66.4" rx="2.8" ry="2.3" transform="rotate(119 64.3 66.4)"/><ellipse cx="60.3" cy="30.7" rx="2.3" ry="1.7" transform="rotate(32 60.3 30.7)"/><ellipse cx="68.4" cy="73.4" rx="2.3" ry="1.9" transform="rotate(63 68.4 73.4)"/><ellipse cx="45.5" cy="59.4" rx="2.2" ry="2.2" transform="rotate(27 45.5 59.4)"/><ellipse cx="31.5" cy="38.6" rx="2.1" ry="2.0" transform="rotate(148 31.5 38.6)"/><ellipse cx="3.1" cy="42.5" rx="2.3" ry="2.0" transform="rotate(50 3.1 42.5)"/><ellipse cx="10.2" cy="49.5" rx="2.1" ry="1.8" transform="rotate(161 10.2 49.5)"/><ellipse cx="19.5" cy="68.1" rx="1.8" ry="1.5" transform="rotate(149 19.5 68.1)"/><ellipse cx="31.7" cy="29.0" rx="2.0" ry="1.5" transform="rotate(45 31.7 29.0)"/><ellipse cx="8.0" cy="38.9" rx="2.6" ry="2.4" transform="rotate(113 8.0 38.9)"/><ellipse cx="28.2" cy="71.1" rx="1.7" ry="1.3" transform="rotate(86 28.2 71.1)"/><ellipse cx="26.8" cy="40.4" rx="1.7" ry="1.3" transform="rotate(172 26.8 40.4)"/><ellipse cx="14.4" cy="67.0" rx="1.8" ry="1.8" transform="rotate(121 14.4 67.0)"/><ellipse cx="82.3" cy="64.7" rx="1.7" ry="1.6" transform="rotate(96 82.3 64.7)"/><ellipse cx="39.0" cy="73.1" rx="2.0" ry="1.5" transform="rotate(26 39.0 73.1)"/><ellipse cx="19.2" cy="69.5" rx="2.9" ry="2.9" transform="rotate(44 19.2 69.5)"/><ellipse cx="35.4" cy="70.4" rx="2.2" ry="2.0" transform="rotate(56 35.4 70.4)"/><ellipse cx="74.8" cy="57.9" rx="2.3" ry="2.0" transform="rotate(96 74.8 57.9)"/><ellipse cx="44.2" cy="39.5" rx="2.7" ry="2.0" transform="rotate(106 44.2 39.5)"/><ellipse cx="17.9" cy="71.3" rx="2.7" ry="2.0" transform="rotate(47 17.9 71.3)"/><ellipse cx="79.4" cy="73.4" rx="2.5" ry="2.1" transform="rotate(137 79.4 73.4)"/><ellipse cx="9.3" cy="40.0" rx="2.2" ry="1.6" transform="rotate(108 9.3 40.0)"/><ellipse cx="32.3" cy="37.5" rx="2.1" ry="1.7" transform="rotate(64 32.3 37.5)"/><ellipse cx="60.1" cy="72.6" rx="2.8" ry="2.7" transform="rotate(150 60.1 72.6)"/><ellipse cx="28.7" cy="72.3" rx="2.0" ry="1.4" transform="rotate(90 28.7 72.3)"/><ellipse cx="73.2" cy="25.2" rx="2.4" ry="1.9" transform="rotate(174 73.2 25.2)"/><ellipse cx="45.3" cy="35.4" rx="2.3" ry="2.2" transform="rotate(177 45.3 35.4)"/><ellipse cx="52.8" cy="32.7" rx="2.4" ry="1.7" transform="rotate(76 52.8 32.7)"/><ellipse cx="84.7" cy="57.5" rx="1.7" ry="1.6" transform="rotate(69 84.7 57.5)"/><ellipse cx="21.5" cy="40.6" rx="2.7" ry="2.3" transform="rotate(156 21.5 40.6)"/><ellipse cx="71.1" cy="26.8" rx="2.0" ry="1.7" transform="rotate(71 71.1 26.8)"/><ellipse cx="37.3" cy="48.2" rx="2.7" ry="2.4" transform="rotate(26 37.3 48.2)"/><ellipse cx="22.0" cy="27.4" rx="2.4" ry="1.8" transform="rotate(14 22.0 27.4)"/><ellipse cx="2.9" cy="39.9" rx="2.8" ry="2.4" transform="rotate(132 2.9 39.9)"/><ellipse cx="82.8" cy="62.0" rx="2.8" ry="2.3" transform="rotate(122 82.8 62.0)"/><ellipse cx="12.1" cy="65.1" rx="2.1" ry="1.8" transform="rotate(160 12.1 65.1)"/><ellipse cx="82.4" cy="44.3" rx="1.7" ry="1.2" transform="rotate(63 82.4 44.3)"/><ellipse cx="38.9" cy="37.9" rx="2.2" ry="1.9" transform="rotate(118 38.9 37.9)"/><ellipse cx="8.4" cy="32.7" rx="2.6" ry="2.6" transform="rotate(11 8.4 32.7)"/><ellipse cx="42.2" cy="66.2" rx="2.7" ry="2.1" transform="rotate(75 42.2 66.2)"/><ellipse cx="58.3" cy="65.4" rx="1.9" ry="1.5" transform="rotate(15 58.3 65.4)"/><ellipse cx="28.5" cy="72.7" rx="2.5" ry="2.1" transform="rotate(36 28.5 72.7)"/><ellipse cx="13.3" cy="39.3" rx="2.4" ry="1.9" transform="rotate(138 13.3 39.3)"/><ellipse cx="87.1" cy="16.0" rx="2.7" ry="2.6" transform="rotate(21 87.1 16.0)"/><ellipse cx="91.4" cy="29.4" rx="1.9" ry="1.4" transform="rotate(6 91.4 29.4)"/><ellipse cx="49.9" cy="28.4" rx="2.7" ry="2.6" transform="rotate(10 49.9 28.4)"/><ellipse cx="40.1" cy="28.8" rx="1.8" ry="1.4" transform="rotate(47 40.1 28.8)"/><ellipse cx="69.4" cy="25.2" rx="1.7" ry="1.3" transform="rotate(79 69.4 25.2)"/><ellipse cx="17.6" cy="55.6" rx="2.1" ry="1.8" transform="rotate(107 17.6 55.6)"/><ellipse cx="62.8" cy="32.7" rx="1.7" ry="1.6" transform="rotate(154 62.8 32.7)"/><ellipse cx="49.0" cy="42.8" rx="1.9" ry="1.9" transform="rotate(123 49.0 42.8)"/><ellipse cx="22.2" cy="60.5" rx="2.9" ry="2.3" transform="rotate(179 22.2 60.5)"/><ellipse cx="71.7" cy="25.1" rx="2.6" ry="2.2" transform="rotate(19 71.7 25.1)"/><ellipse cx="52.8" cy="63.0" rx="2.2" ry="1.9" transform="rotate(155 52.8 63.0)"/><ellipse cx="44.7" cy="36.5" rx="2.4" ry="2.2" transform="rotate(36 44.7 36.5)"/><ellipse cx="55.3" cy="22.4" rx="2.8" ry="2.7" transform="rotate(97 55.3 22.4)"/><ellipse cx="74.8" cy="21.6" rx="1.6" ry="1.5" transform="rotate(132 74.8 21.6)"/><ellipse cx="35.1" cy="35.4" rx="2.3" ry="1.8" transform="rotate(125 35.1 35.4)"/><ellipse cx="56.3" cy="28.5" rx="1.7" ry="1.5" transform="rotate(57 56.3 28.5)"/><ellipse cx="40.8" cy="42.7" rx="1.7" ry="1.2" transform="rotate(86 40.8 42.7)"/><ellipse cx="20.2" cy="37.4" rx="1.8" ry="1.3" transform="rotate(96 20.2 37.4)"/><ellipse cx="51.6" cy="29.4" rx="1.7" ry="1.3" transform="rotate(56 51.6 29.4)"/><ellipse cx="57.1" cy="37.8" rx="1.9" ry="1.4" transform="rotate(177 57.1 37.8)"/><ellipse cx="70.4" cy="55.5" rx="1.9" ry="1.6" transform="rotate(175 70.4 55.5)"/><ellipse cx="32.7" cy="56.4" rx="1.8" ry="1.6" transform="rotate(48 32.7 56.4)"/><ellipse cx="50.9" cy="27.6" rx="2.7" ry="2.5" transform="rotate(90 50.9 27.6)"/><ellipse cx="68.7" cy="31.6" rx="2.6" ry="2.1" transform="rotate(97 68.7 31.6)"/><ellipse cx="58.6" cy="28.7" rx="1.7" ry="1.2" transform="rotate(115 58.6 28.7)"/><ellipse cx="21.1" cy="56.1" rx="2.3" ry="2.2" transform="rotate(152 21.1 56.1)"/><ellipse cx="72.7" cy="27.6" rx="1.7" ry="1.4" transform="rotate(134 72.7 27.6)"/><ellipse cx="15.8" cy="72.6" rx="2.6" ry="2.2" transform="rotate(132 15.8 72.6)"/><ellipse cx="14.9" cy="40.3" rx="2.5" ry="2.2" transform="rotate(29 14.9 40.3)"/><ellipse cx="13.7" cy="46.2" rx="2.7" ry="2.0" transform="rotate(1 13.7 46.2)"/><ellipse cx="39.1" cy="33.7" rx="2.9" ry="2.6" transform="rotate(47 39.1 33.7)"/><ellipse cx="28.2" cy="51.7" rx="1.8" ry="1.3" transform="rotate(93 28.2 51.7)"/><ellipse cx="32.8" cy="71.9" rx="1.7" ry="1.6" transform="rotate(69 32.8 71.9)"/><ellipse cx="80.5" cy="32.9" rx="2.5" ry="2.0" transform="rotate(40 80.5 32.9)"/><ellipse cx="45.2" cy="59.2" rx="2.0" ry="1.6" transform="rotate(74 45.2 59.2)"/><ellipse cx="57.3" cy="40.4" rx="2.4" ry="1.9" transform="rotate(4 57.3 40.4)"/><ellipse cx="26.5" cy="56.4" rx="2.4" ry="2.1" transform="rotate(132 26.5 56.4)"/><ellipse cx="52.2" cy="31.6" rx="2.0" ry="1.4" transform="rotate(142 52.2 31.6)"/><ellipse cx="62.4" cy="32.5" rx="1.8" ry="1.8" transform="rotate(30 62.4 32.5)"/><ellipse cx="36.6" cy="74.0" rx="1.8" ry="1.5" transform="rotate(86 36.6 74.0)"/><ellipse cx="24.8" cy="68.4" rx="2.1" ry="1.5" transform="rotate(85 24.8 68.4)"/><ellipse cx="86.9" cy="67.0" rx="1.7" ry="1.5" transform="rotate(54 86.9 67.0)"/><ellipse cx="53.1" cy="56.9" rx="2.3" ry="2.0" transform="rotate(14 53.1 56.9)"/><ellipse cx="6.8" cy="50.0" rx="2.8" ry="2.3" transform="rotate(127 6.8 50.0)"/><ellipse cx="56.1" cy="28.9" rx="2.2" ry="1.9" transform="rotate(5 56.1 28.9)"/><ellipse cx="30.6" cy="54.6" rx="1.9" ry="1.6" transform="rotate(46 30.6 54.6)"/><ellipse cx="35.8" cy="48.1" rx="2.6" ry="2.5" transform="rotate(85 35.8 48.1)"/><ellipse cx="58.5" cy="45.2" rx="1.9" ry="1.4" transform="rotate(17 58.5 45.2)"/><ellipse cx="17.9" cy="37.1" rx="1.9" ry="1.9" transform="rotate(101 17.9 37.1)"/><ellipse cx="34.0" cy="31.9" rx="1.7" ry="1.5" transform="rotate(135 34.0 31.9)"/><ellipse cx="36.4" cy="53.7" rx="2.0" ry="1.5" transform="rotate(41 36.4 53.7)"/><ellipse cx="64.2" cy="53.9" rx="1.7" ry="1.6" transform="rotate(86 64.2 53.9)"/><ellipse cx="37.8" cy="37.2" rx="2.2" ry="1.6" transform="rotate(71 37.8 37.2)"/><ellipse cx="64.6" cy="52.9" rx="2.8" ry="2.1" transform="rotate(160 64.6 52.9)"/><ellipse cx="77.7" cy="66.6" rx="1.8" ry="1.5" transform="rotate(170 77.7 66.6)"/><ellipse cx="29.3" cy="63.3" rx="2.8" ry="2.3" transform="rotate(26 29.3 63.3)"/><ellipse cx="21.6" cy="61.4" rx="2.1" ry="1.7" transform="rotate(79 21.6 61.4)"/><ellipse cx="92.8" cy="18.8" rx="1.6" ry="1.6" transform="rotate(57 92.8 18.8)"/><ellipse cx="38.5" cy="72.2" rx="2.0" ry="1.4" transform="rotate(159 38.5 72.2)"/><ellipse cx="90.1" cy="24.7" rx="2.0" ry="1.5" transform="rotate(97 90.1 24.7)"/><ellipse cx="56.0" cy="29.5" rx="2.3" ry="1.8" transform="rotate(150 56.0 29.5)"/><ellipse cx="15.5" cy="71.7" rx="2.8" ry="2.7" transform="rotate(100 15.5 71.7)"/><ellipse cx="11.7" cy="31.6" rx="1.7" ry="1.6" transform="rotate(47 11.7 31.6)"/><ellipse cx="28.8" cy="70.0" rx="1.9" ry="1.8" transform="rotate(56 28.8 70.0)"/><ellipse cx="89.8" cy="29.5" rx="2.0" ry="1.8" transform="rotate(106 89.8 29.5)"/><ellipse cx="87.1" cy="25.4" rx="1.8" ry="1.5" transform="rotate(20 87.1 25.4)"/><ellipse cx="31.7" cy="40.2" rx="2.1" ry="1.7" transform="rotate(52 31.7 40.2)"/><ellipse cx="48.7" cy="57.6" rx="2.2" ry="2.0" transform="rotate(86 48.7 57.6)"/><ellipse cx="38.2" cy="38.2" rx="2.7" ry="2.2" transform="rotate(65 38.2 38.2)"/><ellipse cx="54.5" cy="35.5" rx="2.2" ry="1.9" transform="rotate(85 54.5 35.5)"/><ellipse cx="7.8" cy="40.0" rx="2.7" ry="2.6" transform="rotate(157 7.8 40.0)"/><ellipse cx="75.5" cy="33.4" rx="2.6" ry="2.4" transform="rotate(179 75.5 33.4)"/><ellipse cx="67.7" cy="64.8" rx="2.3" ry="1.7" transform="rotate(160 67.7 64.8)"/><ellipse cx="83.0" cy="20.8" rx="2.5" ry="1.7" transform="rotate(37 83.0 20.8)"/><ellipse cx="51.1" cy="69.4" rx="1.9" ry="1.7" transform="rotate(133 51.1 69.4)"/><ellipse cx="62.0" cy="56.7" rx="2.5" ry="1.8" transform="rotate(34 62.0 56.7)"/><ellipse cx="53.6" cy="71.8" rx="1.9" ry="1.6" transform="rotate(23 53.6 71.8)"/><ellipse cx="84.7" cy="32.9" rx="2.3" ry="2.1" transform="rotate(24 84.7 32.9)"/><ellipse cx="72.9" cy="59.2" rx="2.7" ry="2.1" transform="rotate(42 72.9 59.2)"/><ellipse cx="16.5" cy="66.6" rx="2.2" ry="1.8" transform="rotate(93 16.5 66.6)"/><ellipse cx="69.9" cy="23.5" rx="2.0" ry="1.9" transform="rotate(139 69.9 23.5)"/><ellipse cx="59.4" cy="29.9" rx="2.8" ry="2.4" transform="rotate(38 59.4 29.9)"/><ellipse cx="60.2" cy="45.7" rx="2.2" ry="1.9" transform="rotate(88 60.2 45.7)"/><ellipse cx="48.5" cy="32.8" rx="2.5" ry="1.9" transform="rotate(47 48.5 32.8)"/><ellipse cx="13.3" cy="41.5" rx="2.3" ry="1.6" transform="rotate(32 13.3 41.5)"/><ellipse cx="20.0" cy="70.8" rx="2.2" ry="1.9" transform="rotate(52 20.0 70.8)"/><ellipse cx="66.0" cy="60.2" rx="2.5" ry="1.7" transform="rotate(79 66.0 60.2)"/><ellipse cx="29.3" cy="46.3" rx="2.4" ry="2.0" transform="rotate(154 29.3 46.3)"/><ellipse cx="51.9" cy="25.4" rx="1.7" ry="1.5" transform="rotate(65 51.9 25.4)"/><ellipse cx="53.7" cy="25.7" rx="1.6" ry="1.1" transform="rotate(28 53.7 25.7)"/><ellipse cx="71.1" cy="47.0" rx="1.7" ry="1.6" transform="rotate(41 71.1 47.0)"/><ellipse cx="86.2" cy="60.6" rx="2.4" ry="1.8" transform="rotate(77 86.2 60.6)"/><ellipse cx="61.8" cy="72.2" rx="1.9" ry="1.5" transform="rotate(22 61.8 72.2)"/><ellipse cx="18.0" cy="59.1" rx="1.7" ry="1.6" transform="rotate(71 18.0 59.1)"/><ellipse cx="87.8" cy="56.2" rx="2.5" ry="2.4" transform="rotate(7 87.8 56.2)"/><ellipse cx="26.5" cy="27.3" rx="2.2" ry="1.9" transform="rotate(158 26.5 27.3)"/><ellipse cx="74.0" cy="68.7" rx="2.5" ry="2.0" transform="rotate(91 74.0 68.7)"/><ellipse cx="74.9" cy="60.3" rx="2.1" ry="1.7" transform="rotate(110 74.9 60.3)"/><ellipse cx="22.8" cy="65.3" rx="1.6" ry="1.4" transform="rotate(87 22.8 65.3)"/><ellipse cx="47.4" cy="71.2" rx="2.8" ry="2.4" transform="rotate(156 47.4 71.2)"/><ellipse cx="88.4" cy="12.2" rx="2.7" ry="2.5" transform="rotate(178 88.4 12.2)"/><ellipse cx="76.0" cy="29.0" rx="1.9" ry="1.7" transform="rotate(37 76.0 29.0)"/><ellipse cx="75.7" cy="42.5" rx="2.7" ry="2.2" transform="rotate(54 75.7 42.5)"/><ellipse cx="90.4" cy="49.0" rx="2.1" ry="1.8" transform="rotate(78 90.4 49.0)"/><ellipse cx="64.3" cy="38.2" rx="2.0" ry="2.0" transform="rotate(159 64.3 38.2)"/><ellipse cx="75.9" cy="20.6" rx="1.9" ry="1.7" transform="rotate(148 75.9 20.6)"/><ellipse cx="65.3" cy="15.8" rx="2.5" ry="2.2" transform="rotate(67 65.3 15.8)"/><ellipse cx="58.9" cy="33.2" rx="2.4" ry="2.3" transform="rotate(176 58.9 33.2)"/><ellipse cx="11.1" cy="42.3" rx="2.8" ry="2.5" transform="rotate(104 11.1 42.3)"/><ellipse cx="47.3" cy="55.9" rx="2.1" ry="1.8" transform="rotate(29 47.3 55.9)"/><ellipse cx="85.8" cy="56.5" rx="2.6" ry="1.9" transform="rotate(147 85.8 56.5)"/><ellipse cx="1.2" cy="41.8" rx="2.2" ry="1.6" transform="rotate(75 1.2 41.8)"/><ellipse cx="88.7" cy="46.2" rx="2.0" ry="1.9" transform="rotate(63 88.7 46.2)"/><ellipse cx="89.7" cy="29.7" rx="1.7" ry="1.7" transform="rotate(12 89.7 29.7)"/><ellipse cx="25.3" cy="57.1" rx="1.7" ry="1.5" transform="rotate(154 25.3 57.1)"/><ellipse cx="75.8" cy="61.1" rx="2.4" ry="2.1" transform="rotate(58 75.8 61.1)"/><ellipse cx="40.7" cy="73.4" rx="2.9" ry="2.0" transform="rotate(35 40.7 73.4)"/><ellipse cx="22.5" cy="58.7" rx="1.9" ry="1.4" transform="rotate(137 22.5 58.7)"/><ellipse cx="16.9" cy="72.3" rx="2.2" ry="2.1" transform="rotate(147 16.9 72.3)"/><ellipse cx="20.7" cy="58.1" rx="2.1" ry="1.6" transform="rotate(8 20.7 58.1)"/><ellipse cx="70.3" cy="41.5" rx="2.0" ry="1.9" transform="rotate(35 70.3 41.5)"/><ellipse cx="35.0" cy="65.5" rx="2.3" ry="1.7" transform="rotate(42 35.0 65.5)"/><ellipse cx="64.4" cy="20.6" rx="2.8" ry="2.0" transform="rotate(156 64.4 20.6)"/><ellipse cx="78.2" cy="65.0" rx="2.7" ry="2.6" transform="rotate(99 78.2 65.0)"/><ellipse cx="87.5" cy="51.6" rx="2.3" ry="1.9" transform="rotate(4 87.5 51.6)"/><ellipse cx="22.6" cy="65.6" rx="2.8" ry="2.2" transform="rotate(22 22.6 65.6)"/><ellipse cx="80.0" cy="65.8" rx="2.6" ry="2.2" transform="rotate(108 80.0 65.8)"/><ellipse cx="41.9" cy="55.1" rx="1.7" ry="1.7" transform="rotate(5 41.9 55.1)"/><ellipse cx="81.9" cy="60.5" rx="2.8" ry="2.4" transform="rotate(125 81.9 60.5)"/><ellipse cx="29.2" cy="61.6" rx="1.7" ry="1.7" transform="rotate(106 29.2 61.6)"/><ellipse cx="28.1" cy="52.5" rx="2.9" ry="2.6" transform="rotate(153 28.1 52.5)"/><ellipse cx="15.6" cy="40.5" rx="1.9" ry="1.7" transform="rotate(57 15.6 40.5)"/><ellipse cx="57.9" cy="40.4" rx="2.4" ry="1.8" transform="rotate(46 57.9 40.4)"/><ellipse cx="68.9" cy="15.8" rx="2.5" ry="2.4" transform="rotate(70 68.9 15.8)"/><ellipse cx="75.3" cy="50.5" rx="1.9" ry="1.6" transform="rotate(104 75.3 50.5)"/><ellipse cx="70.3" cy="46.4" rx="2.8" ry="2.0" transform="rotate(31 70.3 46.4)"/><ellipse cx="70.6" cy="43.8" rx="2.1" ry="1.8" transform="rotate(101 70.6 43.8)"/><ellipse cx="71.2" cy="44.7" rx="2.6" ry="2.5" transform="rotate(14 71.2 44.7)"/><ellipse cx="83.8" cy="52.6" rx="2.7" ry="2.0" transform="rotate(19 83.8 52.6)"/><ellipse cx="37.9" cy="36.7" rx="2.5" ry="2.0" transform="rotate(132 37.9 36.7)"/><ellipse cx="4.3" cy="35.4" rx="2.3" ry="2.0" transform="rotate(67 4.3 35.4)"/><ellipse cx="37.3" cy="50.1" rx="2.1" ry="1.8" transform="rotate(170 37.3 50.1)"/><ellipse cx="62.6" cy="22.9" rx="2.4" ry="2.2" transform="rotate(105 62.6 22.9)"/><ellipse cx="49.1" cy="55.6" rx="1.9" ry="1.7" transform="rotate(176 49.1 55.6)"/><ellipse cx="81.8" cy="43.0" rx="1.7" ry="1.5" transform="rotate(1 81.8 43.0)"/><ellipse cx="84.9" cy="22.4" rx="2.8" ry="2.7" transform="rotate(24 84.9 22.4)"/><ellipse cx="85.9" cy="18.3" rx="2.0" ry="1.7" transform="rotate(99 85.9 18.3)"/><ellipse cx="41.3" cy="70.1" rx="2.0" ry="1.7" transform="rotate(155 41.3 70.1)"/><ellipse cx="83.6" cy="23.4" rx="2.8" ry="2.6" transform="rotate(67 83.6 23.4)"/><ellipse cx="87.3" cy="32.7" rx="2.0" ry="1.5" transform="rotate(40 87.3 32.7)"/><ellipse cx="55.5" cy="46.2" rx="2.3" ry="1.9" transform="rotate(71 55.5 46.2)"/><ellipse cx="19.2" cy="60.8" rx="2.8" ry="2.4" transform="rotate(45 19.2 60.8)"/><ellipse cx="91.2" cy="14.9" rx="1.8" ry="1.6" transform="rotate(149 91.2 14.9)"/><ellipse cx="34.4" cy="73.1" rx="2.6" ry="2.4" transform="rotate(13 34.4 73.1)"/><ellipse cx="85.2" cy="29.6" rx="1.6" ry="1.5" transform="rotate(167 85.2 29.6)"/><ellipse cx="90.1" cy="24.6" rx="2.0" ry="1.9" transform="rotate(79 90.1 24.6)"/><ellipse cx="85.9" cy="52.3" rx="1.9" ry="1.7" transform="rotate(104 85.9 52.3)"/><ellipse cx="48.3" cy="41.9" rx="2.0" ry="1.5" transform="rotate(164 48.3 41.9)"/><ellipse cx="67.6" cy="25.1" rx="1.8" ry="1.4" transform="rotate(150 67.6 25.1)"/><ellipse cx="27.4" cy="67.5" rx="2.0" ry="1.9" transform="rotate(32 27.4 67.5)"/><ellipse cx="14.9" cy="38.7" rx="2.1" ry="1.8" transform="rotate(38 14.9 38.7)"/><ellipse cx="31.0" cy="23.8" rx="2.8" ry="2.0" transform="rotate(74 31.0 23.8)"/><ellipse cx="85.4" cy="42.3" rx="1.9" ry="1.9" transform="rotate(19 85.4 42.3)"/><ellipse cx="43.9" cy="63.5" rx="2.0" ry="1.5" transform="rotate(143 43.9 63.5)"/><ellipse cx="60.2" cy="63.0" rx="2.2" ry="1.7" transform="rotate(112 60.2 63.0)"/><ellipse cx="24.0" cy="27.9" rx="2.3" ry="1.8" transform="rotate(118 24.0 27.9)"/><ellipse cx="25.5" cy="67.0" rx="2.1" ry="1.6" transform="rotate(14 25.5 67.0)"/><ellipse cx="88.3" cy="30.8" rx="2.2" ry="2.1" transform="rotate(173 88.3 30.8)"/><ellipse cx="32.7" cy="37.4" rx="1.9" ry="1.6" transform="rotate(38 32.7 37.4)"/><ellipse cx="24.1" cy="55.5" rx="2.4" ry="2.0" transform="rotate(84 24.1 55.5)"/><ellipse cx="61.3" cy="50.7" rx="1.6" ry="1.6" transform="rotate(83 61.3 50.7)"/><ellipse cx="34.2" cy="70.9" rx="2.6" ry="2.1" transform="rotate(4 34.2 70.9)"/><ellipse cx="43.7" cy="32.5" rx="2.1" ry="1.5" transform="rotate(103 43.7 32.5)"/><ellipse cx="25.5" cy="56.4" rx="2.3" ry="1.8" transform="rotate(148 25.5 56.4)"/><ellipse cx="43.0" cy="67.2" rx="2.8" ry="2.5" transform="rotate(27 43.0 67.2)"/><ellipse cx="37.3" cy="47.2" rx="1.6" ry="1.4" transform="rotate(76 37.3 47.2)"/><ellipse cx="66.1" cy="61.2" rx="2.1" ry="1.9" transform="rotate(48 66.1 61.2)"/><ellipse cx="5.2" cy="38.0" rx="2.3" ry="1.7" transform="rotate(44 5.2 38.0)"/><ellipse cx="82.4" cy="25.9" rx="1.9" ry="1.5" transform="rotate(93 82.4 25.9)"/><ellipse cx="39.9" cy="26.0" rx="2.0" ry="1.5" transform="rotate(90 39.9 26.0)"/><ellipse cx="13.1" cy="51.5" rx="2.0" ry="1.5" transform="rotate(157 13.1 51.5)"/><ellipse cx="90.8" cy="58.2" rx="2.4" ry="2.4" transform="rotate(100 90.8 58.2)"/><ellipse cx="67.6" cy="48.3" rx="2.7" ry="2.6" transform="rotate(54 67.6 48.3)"/><ellipse cx="20.8" cy="40.4" rx="2.4" ry="1.9" transform="rotate(154 20.8 40.4)"/><ellipse cx="84.9" cy="50.8" rx="2.3" ry="2.1" transform="rotate(35 84.9 50.8)"/><ellipse cx="90.3" cy="46.3" rx="2.0" ry="1.5" transform="rotate(107 90.3 46.3)"/><ellipse cx="46.4" cy="51.6" rx="1.7" ry="1.7" transform="rotate(77 46.4 51.6)"/><ellipse cx="44.0" cy="54.7" rx="2.4" ry="2.0" transform="rotate(52 44.0 54.7)"/><ellipse cx="25.6" cy="61.1" rx="1.8" ry="1.3" transform="rotate(152 25.6 61.1)"/><ellipse cx="37.4" cy="39.2" rx="2.4" ry="2.2" transform="rotate(57 37.4 39.2)"/><ellipse cx="84.7" cy="22.9" rx="2.4" ry="1.9" transform="rotate(134 84.7 22.9)"/><ellipse cx="37.6" cy="44.6" rx="2.0" ry="1.9" transform="rotate(139 37.6 44.6)"/><ellipse cx="20.1" cy="56.0" rx="2.8" ry="2.2" transform="rotate(34 20.1 56.0)"/><ellipse cx="13.0" cy="57.4" rx="2.8" ry="2.2" transform="rotate(140 13.0 57.4)"/><ellipse cx="29.7" cy="58.3" rx="2.3" ry="1.9" transform="rotate(22 29.7 58.3)"/><ellipse cx="65.2" cy="51.8" rx="2.0" ry="1.4" transform="rotate(16 65.2 51.8)"/><ellipse cx="25.9" cy="73.8" rx="2.6" ry="2.5" transform="rotate(134 25.9 73.8)"/><ellipse cx="71.1" cy="56.5" rx="2.8" ry="2.3" transform="rotate(6 71.1 56.5)"/><ellipse cx="27.3" cy="43.7" rx="2.0" ry="1.5" transform="rotate(17 27.3 43.7)"/><ellipse cx="35.8" cy="38.2" rx="2.4" ry="2.3" transform="rotate(12 35.8 38.2)"/><ellipse cx="33.2" cy="46.5" rx="2.1" ry="2.0" transform="rotate(54 33.2 46.5)"/><ellipse cx="72.5" cy="33.7" rx="1.8" ry="1.5" transform="rotate(102 72.5 33.7)"/><ellipse cx="37.2" cy="43.8" rx="2.7" ry="2.4" transform="rotate(144 37.2 43.8)"/><ellipse cx="75.7" cy="64.2" rx="2.5" ry="2.2" transform="rotate(97 75.7 64.2)"/><ellipse cx="11.6" cy="44.3" rx="2.9" ry="2.2" transform="rotate(109 11.6 44.3)"/><ellipse cx="85.1" cy="48.1" rx="2.1" ry="1.6" transform="rotate(131 85.1 48.1)"/><ellipse cx="40.1" cy="55.1" rx="2.7" ry="2.2" transform="rotate(136 40.1 55.1)"/><ellipse cx="20.8" cy="54.1" rx="1.8" ry="1.6" transform="rotate(99 20.8 54.1)"/><ellipse cx="34.9" cy="63.3" rx="2.2" ry="1.9" transform="rotate(119 34.9 63.3)"/><ellipse cx="54.5" cy="36.7" rx="2.4" ry="1.9" transform="rotate(13 54.5 36.7)"/><ellipse cx="37.4" cy="73.9" rx="2.6" ry="2.0" transform="rotate(38 37.4 73.9)"/><ellipse cx="88.8" cy="72.5" rx="2.6" ry="2.3" transform="rotate(97 88.8 72.5)"/><ellipse cx="78.2" cy="60.9" rx="2.7" ry="2.1" transform="rotate(148 78.2 60.9)"/><ellipse cx="65.1" cy="31.5" rx="2.8" ry="2.5" transform="rotate(125 65.1 31.5)"/><ellipse cx="15.1" cy="38.8" rx="2.5" ry="2.5" transform="rotate(162 15.1 38.8)"/><ellipse cx="73.1" cy="24.1" rx="2.5" ry="2.4" transform="rotate(145 73.1 24.1)"/><ellipse cx="86.4" cy="60.5" rx="2.4" ry="2.3" transform="rotate(98 86.4 60.5)"/><ellipse cx="93.3" cy="24.9" rx="2.2" ry="2.1" transform="rotate(123 93.3 24.9)"/><ellipse cx="79.1" cy="34.8" rx="2.3" ry="1.6" transform="rotate(35 79.1 34.8)"/><ellipse cx="15.8" cy="39.8" rx="2.3" ry="1.6" transform="rotate(114 15.8 39.8)"/><ellipse cx="14.5" cy="69.6" rx="2.1" ry="2.0" transform="rotate(79 14.5 69.6)"/><ellipse cx="32.7" cy="62.2" rx="2.0" ry="1.7" transform="rotate(115 32.7 62.2)"/><ellipse cx="26.9" cy="56.0" rx="1.8" ry="1.8" transform="rotate(47 26.9 56.0)"/><ellipse cx="68.9" cy="51.3" rx="1.9" ry="1.6" transform="rotate(113 68.9 51.3)"/><ellipse cx="26.9" cy="39.4" rx="2.4" ry="2.4" transform="rotate(51 26.9 39.4)"/><ellipse cx="17.4" cy="37.5" rx="2.4" ry="2.0" transform="rotate(164 17.4 37.5)"/><ellipse cx="20.2" cy="37.6" rx="2.2" ry="1.7" transform="rotate(81 20.2 37.6)"/></g></defs>
<defs><g id="nucCD"><ellipse cx="13.9" cy="64.1" rx="1.4" ry="1.2" transform="rotate(161 13.9 64.1)"/><ellipse cx="8.1" cy="41.0" rx="2.1" ry="1.5" transform="rotate(68 8.1 41.0)"/><ellipse cx="70.3" cy="33.4" rx="2.2" ry="1.6" transform="rotate(42 70.3 33.4)"/><ellipse cx="11.1" cy="37.5" rx="2.4" ry="2.1" transform="rotate(139 11.1 37.5)"/><ellipse cx="38.4" cy="55.2" rx="1.5" ry="1.2" transform="rotate(121 38.4 55.2)"/><ellipse cx="72.6" cy="31.2" rx="1.5" ry="1.2" transform="rotate(37 72.6 31.2)"/><ellipse cx="19.9" cy="65.6" rx="2.4" ry="1.7" transform="rotate(68 19.9 65.6)"/><ellipse cx="11.2" cy="44.2" rx="1.5" ry="1.3" transform="rotate(161 11.2 44.2)"/><ellipse cx="8.4" cy="39.9" rx="1.4" ry="1.0" transform="rotate(89 8.4 39.9)"/><ellipse cx="92.1" cy="31.1" rx="1.8" ry="1.6" transform="rotate(16 92.1 31.1)"/><ellipse cx="60.9" cy="70.9" rx="1.5" ry="1.3" transform="rotate(109 60.9 70.9)"/><ellipse cx="99.5" cy="73.8" rx="1.5" ry="1.4" transform="rotate(171 99.5 73.8)"/><ellipse cx="67.4" cy="43.7" rx="2.3" ry="1.6" transform="rotate(62 67.4 43.7)"/><ellipse cx="45.1" cy="29.8" rx="2.5" ry="2.2" transform="rotate(3 45.1 29.8)"/><ellipse cx="79.9" cy="24.3" rx="1.9" ry="1.4" transform="rotate(79 79.9 24.3)"/><ellipse cx="78.1" cy="59.8" rx="1.9" ry="1.8" transform="rotate(44 78.1 59.8)"/><ellipse cx="73.8" cy="31.5" rx="1.7" ry="1.6" transform="rotate(72 73.8 31.5)"/><ellipse cx="37.3" cy="63.6" rx="1.8" ry="1.6" transform="rotate(30 37.3 63.6)"/><ellipse cx="84.3" cy="19.2" rx="1.5" ry="1.4" transform="rotate(31 84.3 19.2)"/><ellipse cx="94.7" cy="73.0" rx="2.1" ry="1.5" transform="rotate(10 94.7 73.0)"/><ellipse cx="20.9" cy="28.8" rx="2.1" ry="2.1" transform="rotate(63 20.9 28.8)"/><ellipse cx="14.1" cy="41.6" rx="1.6" ry="1.1" transform="rotate(100 14.1 41.6)"/><ellipse cx="45.1" cy="52.1" rx="2.2" ry="1.8" transform="rotate(159 45.1 52.1)"/><ellipse cx="16.9" cy="52.9" rx="2.2" ry="2.2" transform="rotate(88 16.9 52.9)"/><ellipse cx="78.0" cy="16.5" rx="1.4" ry="1.1" transform="rotate(82 78.0 16.5)"/><ellipse cx="17.3" cy="35.7" rx="2.4" ry="2.1" transform="rotate(169 17.3 35.7)"/><ellipse cx="2.9" cy="73.5" rx="2.4" ry="2.1" transform="rotate(94 2.9 73.5)"/><ellipse cx="6.6" cy="47.6" rx="2.0" ry="1.6" transform="rotate(130 6.6 47.6)"/><ellipse cx="70.0" cy="33.6" rx="1.9" ry="1.7" transform="rotate(9 70.0 33.6)"/><ellipse cx="87.9" cy="17.1" rx="2.3" ry="2.1" transform="rotate(112 87.9 17.1)"/><ellipse cx="59.7" cy="45.4" rx="2.1" ry="1.8" transform="rotate(12 59.7 45.4)"/><ellipse cx="35.5" cy="34.8" rx="2.0" ry="1.4" transform="rotate(139 35.5 34.8)"/><ellipse cx="33.4" cy="57.9" rx="1.4" ry="1.4" transform="rotate(106 33.4 57.9)"/><ellipse cx="97.6" cy="73.0" rx="2.3" ry="1.7" transform="rotate(62 97.6 73.0)"/><ellipse cx="23.1" cy="57.7" rx="1.6" ry="1.2" transform="rotate(19 23.1 57.7)"/><ellipse cx="12.0" cy="69.4" rx="2.5" ry="2.0" transform="rotate(133 12.0 69.4)"/><ellipse cx="36.9" cy="47.0" rx="1.7" ry="1.3" transform="rotate(93 36.9 47.0)"/><ellipse cx="19.7" cy="32.5" rx="2.4" ry="1.7" transform="rotate(18 19.7 32.5)"/><ellipse cx="25.1" cy="63.0" rx="2.1" ry="1.6" transform="rotate(10 25.1 63.0)"/><ellipse cx="80.0" cy="72.2" rx="2.3" ry="2.2" transform="rotate(167 80.0 72.2)"/><ellipse cx="87.7" cy="68.1" rx="2.5" ry="1.8" transform="rotate(57 87.7 68.1)"/><ellipse cx="83.7" cy="29.5" rx="1.6" ry="1.3" transform="rotate(83 83.7 29.5)"/><ellipse cx="40.2" cy="24.1" rx="1.6" ry="1.4" transform="rotate(33 40.2 24.1)"/><ellipse cx="71.2" cy="48.7" rx="1.6" ry="1.4" transform="rotate(60 71.2 48.7)"/><ellipse cx="44.7" cy="44.9" rx="2.2" ry="2.2" transform="rotate(132 44.7 44.9)"/><ellipse cx="21.1" cy="40.1" rx="1.8" ry="1.2" transform="rotate(99 21.1 40.1)"/><ellipse cx="71.7" cy="21.1" rx="2.0" ry="1.4" transform="rotate(1 71.7 21.1)"/><ellipse cx="9.6" cy="61.0" rx="2.5" ry="2.2" transform="rotate(71 9.6 61.0)"/><ellipse cx="88.8" cy="37.5" rx="1.5" ry="1.4" transform="rotate(64 88.8 37.5)"/><ellipse cx="27.0" cy="23.7" rx="1.8" ry="1.4" transform="rotate(110 27.0 23.7)"/><ellipse cx="0.9" cy="50.6" rx="1.4" ry="1.2" transform="rotate(155 0.9 50.6)"/><ellipse cx="67.7" cy="67.2" rx="2.2" ry="1.7" transform="rotate(25 67.7 67.2)"/><ellipse cx="45.1" cy="50.3" rx="1.7" ry="1.3" transform="rotate(134 45.1 50.3)"/><ellipse cx="34.8" cy="44.5" rx="2.0" ry="2.0" transform="rotate(4 34.8 44.5)"/><ellipse cx="18.6" cy="57.6" rx="2.1" ry="1.6" transform="rotate(24 18.6 57.6)"/><ellipse cx="21.1" cy="40.2" rx="2.4" ry="1.8" transform="rotate(36 21.1 40.2)"/><ellipse cx="68.6" cy="31.3" rx="2.3" ry="2.3" transform="rotate(168 68.6 31.3)"/><ellipse cx="71.6" cy="36.7" rx="1.5" ry="1.4" transform="rotate(71 71.6 36.7)"/><ellipse cx="46.4" cy="46.8" rx="2.5" ry="2.1" transform="rotate(165 46.4 46.8)"/><ellipse cx="35.5" cy="65.8" rx="2.2" ry="2.2" transform="rotate(33 35.5 65.8)"/><ellipse cx="54.0" cy="49.6" rx="2.5" ry="1.9" transform="rotate(10 54.0 49.6)"/><ellipse cx="20.0" cy="61.6" rx="1.7" ry="1.3" transform="rotate(53 20.0 61.6)"/><ellipse cx="78.0" cy="33.6" rx="2.5" ry="1.8" transform="rotate(31 78.0 33.6)"/><ellipse cx="14.4" cy="42.5" rx="1.6" ry="1.5" transform="rotate(94 14.4 42.5)"/><ellipse cx="79.0" cy="68.3" rx="1.6" ry="1.3" transform="rotate(172 79.0 68.3)"/><ellipse cx="39.7" cy="21.1" rx="1.9" ry="1.5" transform="rotate(152 39.7 21.1)"/><ellipse cx="96.4" cy="38.5" rx="1.7" ry="1.5" transform="rotate(170 96.4 38.5)"/><ellipse cx="85.2" cy="15.3" rx="1.4" ry="1.2" transform="rotate(22 85.2 15.3)"/><ellipse cx="17.8" cy="47.1" rx="2.4" ry="2.0" transform="rotate(114 17.8 47.1)"/><ellipse cx="32.3" cy="67.7" rx="2.0" ry="1.4" transform="rotate(133 32.3 67.7)"/><ellipse cx="1.9" cy="62.2" rx="2.2" ry="1.8" transform="rotate(100 1.9 62.2)"/><ellipse cx="70.6" cy="52.4" rx="2.4" ry="1.7" transform="rotate(103 70.6 52.4)"/><ellipse cx="36.4" cy="49.0" rx="2.4" ry="1.9" transform="rotate(92 36.4 49.0)"/><ellipse cx="79.8" cy="39.4" rx="2.2" ry="1.6" transform="rotate(158 79.8 39.4)"/><ellipse cx="82.1" cy="50.3" rx="1.6" ry="1.3" transform="rotate(81 82.1 50.3)"/><ellipse cx="6.5" cy="70.6" rx="1.8" ry="1.8" transform="rotate(32 6.5 70.6)"/><ellipse cx="64.8" cy="59.1" rx="2.1" ry="1.7" transform="rotate(3 64.8 59.1)"/><ellipse cx="43.5" cy="28.9" rx="2.4" ry="2.4" transform="rotate(172 43.5 28.9)"/><ellipse cx="27.4" cy="71.7" rx="1.6" ry="1.5" transform="rotate(94 27.4 71.7)"/><ellipse cx="74.5" cy="65.8" rx="1.6" ry="1.4" transform="rotate(117 74.5 65.8)"/><ellipse cx="64.4" cy="23.2" rx="2.1" ry="2.0" transform="rotate(83 64.4 23.2)"/><ellipse cx="59.0" cy="47.0" rx="1.9" ry="1.4" transform="rotate(73 59.0 47.0)"/><ellipse cx="77.8" cy="53.6" rx="1.5" ry="1.2" transform="rotate(105 77.8 53.6)"/><ellipse cx="64.7" cy="51.6" rx="2.0" ry="2.0" transform="rotate(103 64.7 51.6)"/><ellipse cx="96.5" cy="51.7" rx="2.2" ry="1.7" transform="rotate(1 96.5 51.7)"/><ellipse cx="87.3" cy="37.8" rx="1.9" ry="1.6" transform="rotate(138 87.3 37.8)"/><ellipse cx="37.3" cy="57.2" rx="1.6" ry="1.6" transform="rotate(125 37.3 57.2)"/><ellipse cx="31.9" cy="35.3" rx="2.4" ry="1.9" transform="rotate(125 31.9 35.3)"/><ellipse cx="90.9" cy="71.1" rx="1.7" ry="1.6" transform="rotate(109 90.9 71.1)"/><ellipse cx="41.3" cy="33.4" rx="2.3" ry="1.9" transform="rotate(7 41.3 33.4)"/><ellipse cx="20.9" cy="61.5" rx="2.4" ry="2.1" transform="rotate(14 20.9 61.5)"/><ellipse cx="77.3" cy="64.1" rx="1.7" ry="1.4" transform="rotate(52 77.3 64.1)"/><ellipse cx="5.3" cy="54.3" rx="1.6" ry="1.1" transform="rotate(163 5.3 54.3)"/><ellipse cx="9.6" cy="56.2" rx="2.3" ry="1.8" transform="rotate(66 9.6 56.2)"/><ellipse cx="22.3" cy="52.4" rx="2.5" ry="2.3" transform="rotate(88 22.3 52.4)"/><ellipse cx="71.4" cy="19.9" rx="1.7" ry="1.5" transform="rotate(45 71.4 19.9)"/><ellipse cx="98.8" cy="53.8" rx="1.6" ry="1.1" transform="rotate(107 98.8 53.8)"/><ellipse cx="13.4" cy="37.0" rx="2.1" ry="1.9" transform="rotate(69 13.4 37.0)"/><ellipse cx="22.1" cy="33.1" rx="2.4" ry="2.3" transform="rotate(112 22.1 33.1)"/><ellipse cx="79.5" cy="19.8" rx="1.6" ry="1.5" transform="rotate(22 79.5 19.8)"/><ellipse cx="89.2" cy="50.4" rx="1.6" ry="1.2" transform="rotate(163 89.2 50.4)"/><ellipse cx="12.8" cy="52.9" rx="2.2" ry="1.9" transform="rotate(86 12.8 52.9)"/><ellipse cx="41.6" cy="20.8" rx="2.1" ry="1.6" transform="rotate(85 41.6 20.8)"/><ellipse cx="26.0" cy="27.2" rx="2.4" ry="2.1" transform="rotate(116 26.0 27.2)"/><ellipse cx="78.3" cy="64.7" rx="2.2" ry="1.9" transform="rotate(152 78.3 64.7)"/><ellipse cx="94.4" cy="20.5" rx="1.6" ry="1.3" transform="rotate(3 94.4 20.5)"/><ellipse cx="85.1" cy="52.8" rx="1.5" ry="1.3" transform="rotate(34 85.1 52.8)"/><ellipse cx="80.6" cy="47.6" rx="2.0" ry="1.7" transform="rotate(176 80.6 47.6)"/><ellipse cx="21.0" cy="66.5" rx="1.6" ry="1.2" transform="rotate(38 21.0 66.5)"/><ellipse cx="3.7" cy="61.5" rx="1.6" ry="1.4" transform="rotate(49 3.7 61.5)"/><ellipse cx="35.8" cy="58.2" rx="2.0" ry="1.6" transform="rotate(134 35.8 58.2)"/><ellipse cx="69.5" cy="63.1" rx="2.2" ry="2.0" transform="rotate(167 69.5 63.1)"/><ellipse cx="92.6" cy="42.0" rx="1.6" ry="1.4" transform="rotate(76 92.6 42.0)"/><ellipse cx="70.8" cy="25.8" rx="1.5" ry="1.1" transform="rotate(25 70.8 25.8)"/><ellipse cx="73.3" cy="50.9" rx="2.0" ry="1.6" transform="rotate(131 73.3 50.9)"/><ellipse cx="44.8" cy="36.6" rx="1.6" ry="1.6" transform="rotate(79 44.8 36.6)"/><ellipse cx="44.8" cy="34.8" rx="1.9" ry="1.7" transform="rotate(60 44.8 34.8)"/><ellipse cx="62.3" cy="49.6" rx="1.5" ry="1.5" transform="rotate(12 62.3 49.6)"/><ellipse cx="25.8" cy="61.5" rx="1.5" ry="1.2" transform="rotate(74 25.8 61.5)"/><ellipse cx="94.6" cy="71.7" rx="1.6" ry="1.5" transform="rotate(149 94.6 71.7)"/><ellipse cx="72.4" cy="43.7" rx="1.5" ry="1.4" transform="rotate(177 72.4 43.7)"/><ellipse cx="41.5" cy="26.8" rx="2.4" ry="2.1" transform="rotate(134 41.5 26.8)"/><ellipse cx="18.2" cy="53.9" rx="1.9" ry="1.4" transform="rotate(8 18.2 53.9)"/><ellipse cx="26.8" cy="67.5" rx="1.8" ry="1.4" transform="rotate(18 26.8 67.5)"/><ellipse cx="75.2" cy="31.7" rx="1.8" ry="1.6" transform="rotate(132 75.2 31.7)"/><ellipse cx="62.7" cy="70.3" rx="2.2" ry="1.8" transform="rotate(171 62.7 70.3)"/><ellipse cx="35.4" cy="28.8" rx="2.1" ry="1.7" transform="rotate(86 35.4 28.8)"/><ellipse cx="67.7" cy="68.5" rx="2.5" ry="2.0" transform="rotate(69 67.7 68.5)"/><ellipse cx="99.1" cy="62.1" rx="2.4" ry="1.7" transform="rotate(52 99.1 62.1)"/><ellipse cx="42.4" cy="22.9" rx="1.9" ry="1.9" transform="rotate(69 42.4 22.9)"/><ellipse cx="75.2" cy="61.5" rx="1.8" ry="1.3" transform="rotate(18 75.2 61.5)"/><ellipse cx="62.3" cy="42.8" rx="2.4" ry="2.2" transform="rotate(103 62.3 42.8)"/><ellipse cx="92.0" cy="12.4" rx="1.5" ry="1.1" transform="rotate(2 92.0 12.4)"/><ellipse cx="85.1" cy="71.3" rx="2.0" ry="1.8" transform="rotate(119 85.1 71.3)"/><ellipse cx="65.6" cy="29.1" rx="2.5" ry="1.9" transform="rotate(18 65.6 29.1)"/><ellipse cx="5.3" cy="58.3" rx="2.3" ry="2.2" transform="rotate(143 5.3 58.3)"/><ellipse cx="22.6" cy="26.9" rx="1.7" ry="1.6" transform="rotate(0 22.6 26.9)"/><ellipse cx="30.5" cy="48.3" rx="2.1" ry="1.5" transform="rotate(20 30.5 48.3)"/><ellipse cx="82.8" cy="34.5" rx="2.1" ry="1.7" transform="rotate(152 82.8 34.5)"/><ellipse cx="10.4" cy="64.1" rx="1.7" ry="1.4" transform="rotate(101 10.4 64.1)"/><ellipse cx="67.2" cy="40.1" rx="2.2" ry="1.6" transform="rotate(96 67.2 40.1)"/><ellipse cx="50.1" cy="45.9" rx="1.5" ry="1.4" transform="rotate(14 50.1 45.9)"/><ellipse cx="59.9" cy="54.6" rx="2.1" ry="1.8" transform="rotate(129 59.9 54.6)"/><ellipse cx="23.7" cy="33.4" rx="2.2" ry="1.6" transform="rotate(37 23.7 33.4)"/><ellipse cx="84.0" cy="23.4" rx="2.2" ry="1.7" transform="rotate(133 84.0 23.4)"/><ellipse cx="60.3" cy="67.2" rx="2.2" ry="1.7" transform="rotate(131 60.3 67.2)"/><ellipse cx="75.5" cy="11.8" rx="2.1" ry="1.9" transform="rotate(35 75.5 11.8)"/><ellipse cx="82.0" cy="63.4" rx="1.5" ry="1.2" transform="rotate(105 82.0 63.4)"/><ellipse cx="93.8" cy="24.6" rx="1.9" ry="1.9" transform="rotate(157 93.8 24.6)"/><ellipse cx="80.6" cy="43.6" rx="1.9" ry="1.6" transform="rotate(92 80.6 43.6)"/><ellipse cx="71.9" cy="19.4" rx="1.4" ry="1.4" transform="rotate(17 71.9 19.4)"/><ellipse cx="80.2" cy="56.8" rx="1.9" ry="1.7" transform="rotate(43 80.2 56.8)"/><ellipse cx="21.6" cy="65.4" rx="2.2" ry="2.1" transform="rotate(82 21.6 65.4)"/><ellipse cx="3.5" cy="57.2" rx="2.5" ry="2.0" transform="rotate(112 3.5 57.2)"/><ellipse cx="14.8" cy="71.2" rx="2.2" ry="1.6" transform="rotate(126 14.8 71.2)"/><ellipse cx="67.6" cy="32.3" rx="2.0" ry="2.0" transform="rotate(122 67.6 32.3)"/><ellipse cx="63.8" cy="57.4" rx="2.0" ry="1.9" transform="rotate(139 63.8 57.4)"/><ellipse cx="49.9" cy="34.4" rx="1.6" ry="1.4" transform="rotate(130 49.9 34.4)"/><ellipse cx="70.6" cy="47.9" rx="2.1" ry="1.6" transform="rotate(159 70.6 47.9)"/><ellipse cx="15.1" cy="58.8" rx="1.7" ry="1.4" transform="rotate(117 15.1 58.8)"/><ellipse cx="70.3" cy="64.8" rx="2.3" ry="1.7" transform="rotate(60 70.3 64.8)"/><ellipse cx="88.4" cy="61.3" rx="2.5" ry="2.4" transform="rotate(150 88.4 61.3)"/><ellipse cx="29.8" cy="48.3" rx="2.4" ry="1.7" transform="rotate(13 29.8 48.3)"/><ellipse cx="90.8" cy="28.1" rx="1.7" ry="1.4" transform="rotate(158 90.8 28.1)"/><ellipse cx="82.1" cy="25.6" rx="2.3" ry="2.0" transform="rotate(155 82.1 25.6)"/><ellipse cx="99.1" cy="72.6" rx="2.0" ry="1.7" transform="rotate(108 99.1 72.6)"/><ellipse cx="67.5" cy="20.1" rx="2.4" ry="2.0" transform="rotate(179 67.5 20.1)"/><ellipse cx="92.1" cy="20.4" rx="1.4" ry="1.3" transform="rotate(103 92.1 20.4)"/><ellipse cx="33.7" cy="26.2" rx="1.7" ry="1.2" transform="rotate(82 33.7 26.2)"/><ellipse cx="52.2" cy="32.4" rx="2.3" ry="1.9" transform="rotate(135 52.2 32.4)"/><ellipse cx="75.5" cy="37.5" rx="1.9" ry="1.5" transform="rotate(123 75.5 37.5)"/><ellipse cx="86.7" cy="71.9" rx="2.3" ry="2.3" transform="rotate(105 86.7 71.9)"/><ellipse cx="45.2" cy="72.7" rx="2.1" ry="1.5" transform="rotate(153 45.2 72.7)"/><ellipse cx="40.6" cy="46.8" rx="2.1" ry="1.8" transform="rotate(158 40.6 46.8)"/><ellipse cx="39.5" cy="49.8" rx="2.4" ry="1.8" transform="rotate(154 39.5 49.8)"/><ellipse cx="69.1" cy="32.6" rx="1.4" ry="1.2" transform="rotate(29 69.1 32.6)"/><ellipse cx="19.5" cy="37.4" rx="2.1" ry="2.0" transform="rotate(113 19.5 37.4)"/><ellipse cx="76.8" cy="40.4" rx="1.4" ry="1.1" transform="rotate(21 76.8 40.4)"/><ellipse cx="93.3" cy="33.3" rx="2.1" ry="1.8" transform="rotate(83 93.3 33.3)"/><ellipse cx="68.3" cy="67.0" rx="2.1" ry="2.0" transform="rotate(62 68.3 67.0)"/><ellipse cx="26.8" cy="34.2" rx="1.8" ry="1.4" transform="rotate(75 26.8 34.2)"/><ellipse cx="91.9" cy="41.6" rx="2.1" ry="2.1" transform="rotate(115 91.9 41.6)"/><ellipse cx="95.1" cy="51.5" rx="2.3" ry="2.0" transform="rotate(179 95.1 51.5)"/><ellipse cx="42.5" cy="69.7" rx="1.6" ry="1.3" transform="rotate(54 42.5 69.7)"/><ellipse cx="61.8" cy="63.2" rx="1.8" ry="1.5" transform="rotate(5 61.8 63.2)"/><ellipse cx="23.9" cy="31.0" rx="2.1" ry="2.0" transform="rotate(159 23.9 31.0)"/><ellipse cx="82.2" cy="62.6" rx="2.3" ry="2.0" transform="rotate(113 82.2 62.6)"/><ellipse cx="39.4" cy="42.3" rx="1.8" ry="1.6" transform="rotate(158 39.4 42.3)"/><ellipse cx="30.3" cy="54.4" rx="1.5" ry="1.1" transform="rotate(34 30.3 54.4)"/><ellipse cx="29.0" cy="32.1" rx="1.8" ry="1.8" transform="rotate(9 29.0 32.1)"/><ellipse cx="86.6" cy="17.8" rx="1.7" ry="1.5" transform="rotate(80 86.6 17.8)"/><ellipse cx="90.5" cy="73.0" rx="2.5" ry="1.9" transform="rotate(102 90.5 73.0)"/><ellipse cx="13.0" cy="40.3" rx="2.2" ry="1.9" transform="rotate(176 13.0 40.3)"/><ellipse cx="37.6" cy="31.4" rx="2.4" ry="2.2" transform="rotate(33 37.6 31.4)"/><ellipse cx="39.5" cy="57.3" rx="1.5" ry="1.4" transform="rotate(161 39.5 57.3)"/><ellipse cx="88.9" cy="18.5" rx="1.5" ry="1.2" transform="rotate(42 88.9 18.5)"/><ellipse cx="86.3" cy="13.2" rx="1.5" ry="1.2" transform="rotate(79 86.3 13.2)"/><ellipse cx="13.1" cy="35.6" rx="2.4" ry="2.3" transform="rotate(115 13.1 35.6)"/><ellipse cx="8.8" cy="73.9" rx="1.8" ry="1.6" transform="rotate(17 8.8 73.9)"/><ellipse cx="79.0" cy="55.9" rx="1.8" ry="1.4" transform="rotate(103 79.0 55.9)"/><ellipse cx="8.8" cy="57.5" rx="2.5" ry="2.3" transform="rotate(120 8.8 57.5)"/><ellipse cx="47.8" cy="29.7" rx="2.3" ry="2.3" transform="rotate(72 47.8 29.7)"/><ellipse cx="27.6" cy="54.0" rx="2.4" ry="2.4" transform="rotate(176 27.6 54.0)"/><ellipse cx="79.4" cy="61.4" rx="1.9" ry="1.7" transform="rotate(38 79.4 61.4)"/><ellipse cx="76.6" cy="58.2" rx="2.4" ry="1.9" transform="rotate(87 76.6 58.2)"/><ellipse cx="1.7" cy="64.9" rx="2.0" ry="1.5" transform="rotate(61 1.7 64.9)"/><ellipse cx="38.7" cy="35.2" rx="1.7" ry="1.4" transform="rotate(94 38.7 35.2)"/><ellipse cx="75.5" cy="34.8" rx="1.9" ry="1.5" transform="rotate(168 75.5 34.8)"/><ellipse cx="76.1" cy="51.2" rx="1.5" ry="1.4" transform="rotate(78 76.1 51.2)"/><ellipse cx="69.4" cy="34.7" rx="1.5" ry="1.3" transform="rotate(130 69.4 34.7)"/><ellipse cx="17.0" cy="45.4" rx="1.7" ry="1.2" transform="rotate(8 17.0 45.4)"/><ellipse cx="39.0" cy="18.3" rx="1.6" ry="1.3" transform="rotate(141 39.0 18.3)"/><ellipse cx="51.3" cy="42.4" rx="2.4" ry="1.8" transform="rotate(160 51.3 42.4)"/><ellipse cx="67.8" cy="53.3" rx="2.4" ry="1.8" transform="rotate(72 67.8 53.3)"/><ellipse cx="53.8" cy="39.3" rx="2.5" ry="1.9" transform="rotate(48 53.8 39.3)"/><ellipse cx="77.7" cy="58.7" rx="1.8" ry="1.3" transform="rotate(89 77.7 58.7)"/><ellipse cx="78.1" cy="49.1" rx="2.1" ry="1.5" transform="rotate(127 78.1 49.1)"/><ellipse cx="44.0" cy="40.1" rx="2.0" ry="1.9" transform="rotate(29 44.0 40.1)"/><ellipse cx="87.5" cy="10.5" rx="2.3" ry="2.2" transform="rotate(6 87.5 10.5)"/><ellipse cx="94.2" cy="16.3" rx="2.5" ry="2.0" transform="rotate(169 94.2 16.3)"/><ellipse cx="94.3" cy="38.4" rx="1.8" ry="1.5" transform="rotate(19 94.3 38.4)"/><ellipse cx="60.3" cy="49.4" rx="2.2" ry="2.1" transform="rotate(155 60.3 49.4)"/><ellipse cx="37.3" cy="17.0" rx="1.5" ry="1.4" transform="rotate(115 37.3 17.0)"/><ellipse cx="11.1" cy="53.3" rx="2.4" ry="1.7" transform="rotate(112 11.1 53.3)"/><ellipse cx="77.9" cy="54.7" rx="1.7" ry="1.4" transform="rotate(15 77.9 54.7)"/><ellipse cx="89.5" cy="25.2" rx="2.1" ry="2.1" transform="rotate(128 89.5 25.2)"/><ellipse cx="17.7" cy="41.5" rx="1.7" ry="1.4" transform="rotate(148 17.7 41.5)"/><ellipse cx="70.2" cy="65.6" rx="1.4" ry="1.3" transform="rotate(85 70.2 65.6)"/><ellipse cx="86.8" cy="22.9" rx="2.0" ry="1.7" transform="rotate(113 86.8 22.9)"/><ellipse cx="6.6" cy="38.7" rx="2.1" ry="1.7" transform="rotate(141 6.6 38.7)"/><ellipse cx="51.4" cy="33.6" rx="1.6" ry="1.2" transform="rotate(63 51.4 33.6)"/><ellipse cx="69.0" cy="12.0" rx="1.7" ry="1.6" transform="rotate(5 69.0 12.0)"/><ellipse cx="93.2" cy="59.5" rx="2.3" ry="1.8" transform="rotate(152 93.2 59.5)"/><ellipse cx="48.7" cy="32.4" rx="1.7" ry="1.4" transform="rotate(123 48.7 32.4)"/><ellipse cx="27.8" cy="71.6" rx="2.3" ry="2.2" transform="rotate(121 27.8 71.6)"/><ellipse cx="73.1" cy="18.6" rx="1.5" ry="1.1" transform="rotate(113 73.1 18.6)"/><ellipse cx="90.5" cy="27.0" rx="2.0" ry="1.6" transform="rotate(117 90.5 27.0)"/><ellipse cx="89.9" cy="53.0" rx="1.9" ry="1.9" transform="rotate(79 89.9 53.0)"/><ellipse cx="95.0" cy="60.5" rx="2.2" ry="2.0" transform="rotate(71 95.0 60.5)"/><ellipse cx="38.5" cy="25.0" rx="2.1" ry="2.1" transform="rotate(38 38.5 25.0)"/><ellipse cx="86.3" cy="33.6" rx="2.3" ry="1.7" transform="rotate(134 86.3 33.6)"/><ellipse cx="41.9" cy="22.7" rx="1.5" ry="1.4" transform="rotate(139 41.9 22.7)"/><ellipse cx="69.5" cy="26.2" rx="1.5" ry="1.2" transform="rotate(106 69.5 26.2)"/><ellipse cx="48.1" cy="46.5" rx="1.4" ry="1.2" transform="rotate(71 48.1 46.5)"/><ellipse cx="90.2" cy="60.2" rx="2.4" ry="2.0" transform="rotate(131 90.2 60.2)"/><ellipse cx="66.4" cy="65.7" rx="1.8" ry="1.7" transform="rotate(87 66.4 65.7)"/><ellipse cx="41.8" cy="20.0" rx="1.5" ry="1.2" transform="rotate(101 41.8 20.0)"/><ellipse cx="94.9" cy="13.0" rx="2.4" ry="2.2" transform="rotate(133 94.9 13.0)"/><ellipse cx="47.7" cy="35.6" rx="2.0" ry="1.9" transform="rotate(160 47.7 35.6)"/><ellipse cx="1.0" cy="65.9" rx="2.3" ry="2.2" transform="rotate(55 1.0 65.9)"/><ellipse cx="85.8" cy="30.5" rx="1.9" ry="1.5" transform="rotate(28 85.8 30.5)"/><ellipse cx="76.0" cy="39.2" rx="1.7" ry="1.3" transform="rotate(82 76.0 39.2)"/><ellipse cx="16.6" cy="30.6" rx="1.6" ry="1.4" transform="rotate(135 16.6 30.6)"/><ellipse cx="90.5" cy="34.7" rx="1.4" ry="1.1" transform="rotate(118 90.5 34.7)"/><ellipse cx="91.2" cy="25.4" rx="2.4" ry="1.8" transform="rotate(44 91.2 25.4)"/><ellipse cx="71.1" cy="44.1" rx="1.8" ry="1.4" transform="rotate(94 71.1 44.1)"/><ellipse cx="23.2" cy="66.1" rx="2.5" ry="2.2" transform="rotate(111 23.2 66.1)"/><ellipse cx="42.1" cy="28.1" rx="2.2" ry="2.1" transform="rotate(83 42.1 28.1)"/><ellipse cx="71.1" cy="72.4" rx="1.6" ry="1.2" transform="rotate(22 71.1 72.4)"/><ellipse cx="77.1" cy="41.4" rx="2.2" ry="2.2" transform="rotate(22 77.1 41.4)"/><ellipse cx="59.5" cy="36.9" rx="1.9" ry="1.6" transform="rotate(98 59.5 36.9)"/><ellipse cx="77.8" cy="38.1" rx="2.3" ry="1.9" transform="rotate(163 77.8 38.1)"/><ellipse cx="57.8" cy="51.2" rx="2.0" ry="1.8" transform="rotate(81 57.8 51.2)"/><ellipse cx="69.9" cy="60.9" rx="1.4" ry="1.2" transform="rotate(58 69.9 60.9)"/><ellipse cx="16.7" cy="33.1" rx="2.2" ry="2.0" transform="rotate(76 16.7 33.1)"/><ellipse cx="50.8" cy="46.8" rx="1.5" ry="1.2" transform="rotate(87 50.8 46.8)"/><ellipse cx="50.5" cy="52.1" rx="1.5" ry="1.5" transform="rotate(116 50.5 52.1)"/><ellipse cx="83.2" cy="47.9" rx="2.5" ry="2.5" transform="rotate(45 83.2 47.9)"/><ellipse cx="62.2" cy="36.3" rx="2.3" ry="1.9" transform="rotate(100 62.2 36.3)"/><ellipse cx="5.4" cy="68.4" rx="1.5" ry="1.2" transform="rotate(146 5.4 68.4)"/><ellipse cx="50.1" cy="73.0" rx="1.7" ry="1.6" transform="rotate(91 50.1 73.0)"/><ellipse cx="41.8" cy="36.6" rx="2.5" ry="1.8" transform="rotate(103 41.8 36.6)"/><ellipse cx="31.7" cy="65.8" rx="1.9" ry="1.6" transform="rotate(172 31.7 65.8)"/><ellipse cx="3.7" cy="42.9" rx="2.4" ry="2.4" transform="rotate(56 3.7 42.9)"/><ellipse cx="30.8" cy="54.1" rx="1.9" ry="1.4" transform="rotate(25 30.8 54.1)"/><ellipse cx="86.9" cy="41.4" rx="2.4" ry="2.2" transform="rotate(54 86.9 41.4)"/><ellipse cx="41.0" cy="29.8" rx="1.9" ry="1.5" transform="rotate(66 41.0 29.8)"/><ellipse cx="24.9" cy="26.0" rx="2.1" ry="1.8" transform="rotate(10 24.9 26.0)"/><ellipse cx="60.4" cy="68.6" rx="2.4" ry="2.3" transform="rotate(156 60.4 68.6)"/><ellipse cx="18.1" cy="59.9" rx="1.8" ry="1.4" transform="rotate(71 18.1 59.9)"/><ellipse cx="93.0" cy="52.5" rx="2.2" ry="1.7" transform="rotate(128 93.0 52.5)"/><ellipse cx="21.2" cy="33.3" rx="2.3" ry="2.3" transform="rotate(105 21.2 33.3)"/><ellipse cx="55.4" cy="31.6" rx="1.5" ry="1.4" transform="rotate(111 55.4 31.6)"/><ellipse cx="31.2" cy="66.4" rx="2.3" ry="1.8" transform="rotate(54 31.2 66.4)"/><ellipse cx="18.7" cy="49.1" rx="1.5" ry="1.4" transform="rotate(133 18.7 49.1)"/><ellipse cx="24.6" cy="26.3" rx="2.1" ry="2.1" transform="rotate(21 24.6 26.3)"/><ellipse cx="76.7" cy="21.2" rx="2.2" ry="2.1" transform="rotate(65 76.7 21.2)"/><ellipse cx="67.7" cy="46.6" rx="1.6" ry="1.3" transform="rotate(69 67.7 46.6)"/><ellipse cx="6.7" cy="54.5" rx="2.2" ry="2.1" transform="rotate(86 6.7 54.5)"/><ellipse cx="96.4" cy="62.8" rx="1.7" ry="1.4" transform="rotate(8 96.4 62.8)"/><ellipse cx="52.5" cy="46.9" rx="2.0" ry="1.7" transform="rotate(165 52.5 46.9)"/><ellipse cx="89.5" cy="21.7" rx="1.4" ry="1.1" transform="rotate(171 89.5 21.7)"/><ellipse cx="25.0" cy="71.6" rx="2.1" ry="1.5" transform="rotate(86 25.0 71.6)"/><ellipse cx="95.5" cy="29.6" rx="2.0" ry="1.4" transform="rotate(86 95.5 29.6)"/><ellipse cx="77.8" cy="66.4" rx="1.7" ry="1.7" transform="rotate(133 77.8 66.4)"/><ellipse cx="13.3" cy="45.3" rx="2.4" ry="2.0" transform="rotate(138 13.3 45.3)"/><ellipse cx="87.4" cy="73.1" rx="2.0" ry="1.8" transform="rotate(122 87.4 73.1)"/><ellipse cx="91.3" cy="48.1" rx="2.2" ry="1.9" transform="rotate(143 91.3 48.1)"/><ellipse cx="92.9" cy="29.3" rx="2.1" ry="2.0" transform="rotate(11 92.9 29.3)"/><ellipse cx="62.6" cy="49.2" rx="2.0" ry="1.7" transform="rotate(122 62.6 49.2)"/><ellipse cx="43.5" cy="38.9" rx="2.3" ry="2.2" transform="rotate(114 43.5 38.9)"/><ellipse cx="95.8" cy="49.2" rx="2.2" ry="1.9" transform="rotate(104 95.8 49.2)"/><ellipse cx="75.7" cy="63.5" rx="2.0" ry="1.4" transform="rotate(71 75.7 63.5)"/><ellipse cx="32.2" cy="62.1" rx="2.2" ry="2.0" transform="rotate(146 32.2 62.1)"/><ellipse cx="53.2" cy="35.4" rx="1.4" ry="1.2" transform="rotate(139 53.2 35.4)"/><ellipse cx="17.3" cy="38.2" rx="1.7" ry="1.3" transform="rotate(45 17.3 38.2)"/><ellipse cx="24.6" cy="53.6" rx="1.7" ry="1.6" transform="rotate(8 24.6 53.6)"/><ellipse cx="97.9" cy="61.1" rx="2.4" ry="1.9" transform="rotate(0 97.9 61.1)"/><ellipse cx="77.1" cy="39.4" rx="1.6" ry="1.5" transform="rotate(54 77.1 39.4)"/><ellipse cx="16.3" cy="58.3" rx="2.2" ry="1.6" transform="rotate(52 16.3 58.3)"/><ellipse cx="59.4" cy="48.0" rx="2.3" ry="1.8" transform="rotate(169 59.4 48.0)"/><ellipse cx="70.3" cy="43.2" rx="2.0" ry="1.7" transform="rotate(124 70.3 43.2)"/><ellipse cx="9.1" cy="59.8" rx="1.5" ry="1.3" transform="rotate(91 9.1 59.8)"/><ellipse cx="84.9" cy="49.5" rx="1.9" ry="1.4" transform="rotate(111 84.9 49.5)"/><ellipse cx="94.3" cy="68.5" rx="2.0" ry="1.5" transform="rotate(129 94.3 68.5)"/><ellipse cx="27.8" cy="64.8" rx="1.4" ry="1.1" transform="rotate(55 27.8 64.8)"/><ellipse cx="30.2" cy="38.4" rx="1.5" ry="1.2" transform="rotate(175 30.2 38.4)"/><ellipse cx="97.9" cy="42.0" rx="2.5" ry="1.9" transform="rotate(145 97.9 42.0)"/><ellipse cx="75.5" cy="70.0" rx="1.6" ry="1.4" transform="rotate(171 75.5 70.0)"/><ellipse cx="76.4" cy="44.4" rx="1.9" ry="1.8" transform="rotate(157 76.4 44.4)"/><ellipse cx="16.7" cy="61.7" rx="1.7" ry="1.6" transform="rotate(44 16.7 61.7)"/><ellipse cx="60.3" cy="71.3" rx="1.6" ry="1.4" transform="rotate(30 60.3 71.3)"/><ellipse cx="4.3" cy="49.4" rx="2.2" ry="2.0" transform="rotate(106 4.3 49.4)"/><ellipse cx="23.2" cy="54.2" rx="2.2" ry="1.8" transform="rotate(69 23.2 54.2)"/><ellipse cx="3.7" cy="67.8" rx="1.5" ry="1.4" transform="rotate(106 3.7 67.8)"/><ellipse cx="43.9" cy="29.1" rx="1.7" ry="1.6" transform="rotate(38 43.9 29.1)"/><ellipse cx="15.2" cy="46.8" rx="1.5" ry="1.5" transform="rotate(104 15.2 46.8)"/><ellipse cx="28.1" cy="46.7" rx="1.7" ry="1.3" transform="rotate(83 28.1 46.7)"/><ellipse cx="39.1" cy="30.2" rx="2.4" ry="2.3" transform="rotate(92 39.1 30.2)"/><ellipse cx="72.3" cy="61.0" rx="1.8" ry="1.7" transform="rotate(15 72.3 61.0)"/></g></defs>
<defs><filter id="tex" x="0" y="0" width="100%" height="100%" color-interpolation-filters="sRGB"><feTurbulence type="fractalNoise" baseFrequency="0.33" numOctaves="2" seed="4" result="n"/><feColorMatrix in="n" type="matrix" values="0 0 0 0 1  0 0 0 0 1  0 0 0 0 1  2.0 0 0 0 -0.3" result="m"/><feComposite in="SourceGraphic" in2="m" operator="in"/></filter></defs>
<defs><filter id="blurT" x="-5%" y="-5%" width="110%" height="110%"><feGaussianBlur stdDeviation="0.8"/></filter><filter id="blurS" x="-5%" y="-5%" width="110%" height="110%"><feGaussianBlur stdDeviation="0.6"/></filter><filter id="blurN" x="-5%" y="-5%" width="110%" height="110%"><feGaussianBlur stdDeviation="0.35"/></filter></defs>
<defs><clipPath id="tisNCc"><path d="M0,33 L4,29 7,30.5 10,26 13.5,27 17,22.5 20.5,23.5 24,19.5 28,20 31,17.5 34,20 37.2,17.5 41,21 45,19.5 48,23 51,19 54.2,19.5 57,14 60,15.5 62,11 65.5,12.5 68,8.5 71,10.5 74.2,7 77,9.5 80.3,5.5 84,9 87,7.5 90,11 94,9.5 100,13 L100,74 L0,74 Z"/></clipPath><g id="tisNC"><rect width="100" height="74" fill="#000"/><linearGradient id="tisNCg" x1="0" y1="0" x2="0" y2="1"><stop offset="0.1" stop-color="rgb(97,97,97)"/><stop offset="0.75" stop-color="rgb(163,163,163)"/></linearGradient><g filter="url(#tex)"><g filter="url(#blurT)"><path d="M0,33 L4,29 7,30.5 10,26 13.5,27 17,22.5 20.5,23.5 24,19.5 28,20 31,17.5 34,20 37.2,17.5 41,21 45,19.5 48,23 51,19 54.2,19.5 57,14 60,15.5 62,11 65.5,12.5 68,8.5 71,10.5 74.2,7 77,9.5 80.3,5.5 84,9 87,7.5 90,11 94,9.5 100,13 L100,74 L0,74 Z" fill="url(#tisNCg)"/><g clip-path="url(#tisNCc)"><ellipse cx="16.5" cy="52.6" rx="1.8" ry="1.0" transform="rotate(38 16.5 52.6)" fill="#000" opacity="0.62"/><ellipse cx="51.2" cy="39.9" rx="1.2" ry="0.4" transform="rotate(66 51.2 39.9)" fill="#000" opacity="0.33"/><ellipse cx="79.4" cy="21.0" rx="1.2" ry="0.4" transform="rotate(179 79.4 21.0)" fill="#000" opacity="0.65"/><ellipse cx="61.6" cy="7.4" rx="1.3" ry="0.8" transform="rotate(20 61.6 7.4)" fill="#000" opacity="0.45"/><ellipse cx="15.5" cy="61.4" rx="1.0" ry="0.8" transform="rotate(81 15.5 61.4)" fill="#000" opacity="0.44"/><ellipse cx="48.5" cy="17.9" rx="0.9" ry="0.6" transform="rotate(42 48.5 17.9)" fill="#000" opacity="0.38"/><ellipse cx="96.9" cy="66.7" rx="2.0" ry="1.4" transform="rotate(104 96.9 66.7)" fill="#000" opacity="0.35"/><ellipse cx="47.6" cy="62.1" rx="1.1" ry="0.9" transform="rotate(159 47.6 62.1)" fill="#000" opacity="0.45"/><ellipse cx="45.1" cy="31.6" rx="2.4" ry="1.3" transform="rotate(4 45.1 31.6)" fill="#fff" opacity="0.23"/><ellipse cx="99.3" cy="39.2" rx="1.6" ry="0.9" transform="rotate(134 99.3 39.2)" fill="#fff" opacity="0.21"/><ellipse cx="55.6" cy="48.0" rx="1.1" ry="0.5" transform="rotate(62 55.6 48.0)" fill="#000" opacity="0.44"/><ellipse cx="59.7" cy="26.2" rx="1.0" ry="0.4" transform="rotate(146 59.7 26.2)" fill="#000" opacity="0.45"/><ellipse cx="68.3" cy="51.6" rx="2.2" ry="1.7" transform="rotate(73 68.3 51.6)" fill="#000" opacity="0.68"/><ellipse cx="59.1" cy="65.9" rx="1.6" ry="0.8" transform="rotate(44 59.1 65.9)" fill="#000" opacity="0.36"/><ellipse cx="6.9" cy="60.6" rx="2.0" ry="1.2" transform="rotate(150 6.9 60.6)" fill="#fff" opacity="0.15"/><ellipse cx="29.0" cy="33.9" rx="1.1" ry="0.4" transform="rotate(60 29.0 33.9)" fill="#000" opacity="0.69"/><ellipse cx="74.6" cy="38.0" rx="1.2" ry="0.9" transform="rotate(94 74.6 38.0)" fill="#000" opacity="0.31"/><ellipse cx="21.2" cy="62.8" rx="2.1" ry="1.5" transform="rotate(108 21.2 62.8)" fill="#000" opacity="0.53"/><ellipse cx="84.9" cy="26.3" rx="1.7" ry="0.8" transform="rotate(138 84.9 26.3)" fill="#fff" opacity="0.22"/><ellipse cx="95.4" cy="6.6" rx="1.7" ry="1.1" transform="rotate(153 95.4 6.6)" fill="#000" opacity="0.40"/><ellipse cx="40.6" cy="71.2" rx="2.2" ry="0.9" transform="rotate(17 40.6 71.2)" fill="#fff" opacity="0.10"/><ellipse cx="44.7" cy="14.7" rx="2.2" ry="1.4" transform="rotate(22 44.7 14.7)" fill="#000" opacity="0.43"/><ellipse cx="49.4" cy="20.2" rx="1.1" ry="0.5" transform="rotate(68 49.4 20.2)" fill="#000" opacity="0.52"/><ellipse cx="4.6" cy="54.1" rx="2.2" ry="1.5" transform="rotate(142 4.6 54.1)" fill="#fff" opacity="0.18"/><ellipse cx="6.3" cy="57.7" rx="1.1" ry="0.7" transform="rotate(45 6.3 57.7)" fill="#000" opacity="0.43"/><ellipse cx="4.2" cy="31.8" rx="1.3" ry="1.0" transform="rotate(53 4.2 31.8)" fill="#000" opacity="0.52"/><ellipse cx="94.8" cy="11.8" rx="1.8" ry="1.0" transform="rotate(132 94.8 11.8)" fill="#000" opacity="0.42"/><ellipse cx="69.9" cy="41.3" rx="1.7" ry="0.6" transform="rotate(146 69.9 41.3)" fill="#000" opacity="0.44"/><ellipse cx="31.8" cy="73.5" rx="1.0" ry="0.4" transform="rotate(13 31.8 73.5)" fill="#000" opacity="0.60"/><ellipse cx="44.8" cy="47.9" rx="0.8" ry="0.5" transform="rotate(79 44.8 47.9)" fill="#000" opacity="0.46"/><ellipse cx="40.2" cy="20.6" rx="0.9" ry="0.5" transform="rotate(44 40.2 20.6)" fill="#000" opacity="0.63"/><ellipse cx="72.4" cy="36.5" rx="1.2" ry="0.6" transform="rotate(87 72.4 36.5)" fill="#000" opacity="0.69"/><ellipse cx="8.5" cy="38.1" rx="1.6" ry="1.1" transform="rotate(160 8.5 38.1)" fill="#000" opacity="0.55"/><ellipse cx="75.9" cy="51.1" rx="2.2" ry="1.4" transform="rotate(122 75.9 51.1)" fill="#fff" opacity="0.27"/><ellipse cx="38.6" cy="47.4" rx="2.1" ry="1.7" transform="rotate(178 38.6 47.4)" fill="#fff" opacity="0.16"/><ellipse cx="31.2" cy="32.0" rx="1.0" ry="0.6" transform="rotate(14 31.2 32.0)" fill="#fff" opacity="0.27"/><ellipse cx="74.2" cy="36.9" rx="1.0" ry="0.8" transform="rotate(126 74.2 36.9)" fill="#fff" opacity="0.16"/><ellipse cx="64.2" cy="52.0" rx="1.2" ry="0.9" transform="rotate(57 64.2 52.0)" fill="#fff" opacity="0.25"/><ellipse cx="15.3" cy="52.0" rx="1.1" ry="0.7" transform="rotate(49 15.3 52.0)" fill="#fff" opacity="0.27"/><ellipse cx="46.7" cy="35.1" rx="1.8" ry="0.9" transform="rotate(31 46.7 35.1)" fill="#fff" opacity="0.15"/><ellipse cx="18.8" cy="71.3" rx="0.9" ry="0.6" transform="rotate(168 18.8 71.3)" fill="#000" opacity="0.31"/><ellipse cx="50.1" cy="7.7" rx="1.8" ry="1.2" transform="rotate(43 50.1 7.7)" fill="#fff" opacity="0.20"/><ellipse cx="9.5" cy="26.3" rx="1.5" ry="1.1" transform="rotate(66 9.5 26.3)" fill="#fff" opacity="0.24"/><ellipse cx="82.2" cy="41.5" rx="0.9" ry="0.4" transform="rotate(72 82.2 41.5)" fill="#000" opacity="0.39"/><ellipse cx="80.2" cy="63.2" rx="2.3" ry="1.7" transform="rotate(3 80.2 63.2)" fill="#000" opacity="0.33"/><ellipse cx="90.0" cy="56.5" rx="2.0" ry="0.9" transform="rotate(10 90.0 56.5)" fill="#000" opacity="0.54"/><ellipse cx="62.0" cy="37.5" rx="2.1" ry="1.0" transform="rotate(48 62.0 37.5)" fill="#fff" opacity="0.15"/><ellipse cx="62.7" cy="66.4" rx="0.9" ry="0.3" transform="rotate(92 62.7 66.4)" fill="#000" opacity="0.38"/><ellipse cx="27.0" cy="9.1" rx="0.9" ry="0.5" transform="rotate(122 27.0 9.1)" fill="#000" opacity="0.36"/><ellipse cx="10.4" cy="69.2" rx="1.7" ry="0.9" transform="rotate(124 10.4 69.2)" fill="#000" opacity="0.51"/><ellipse cx="7.8" cy="62.1" rx="1.1" ry="0.4" transform="rotate(63 7.8 62.1)" fill="#000" opacity="0.55"/><ellipse cx="17.4" cy="54.0" rx="1.6" ry="0.7" transform="rotate(153 17.4 54.0)" fill="#000" opacity="0.66"/><ellipse cx="67.9" cy="20.0" rx="2.0" ry="1.5" transform="rotate(95 67.9 20.0)" fill="#000" opacity="0.69"/><ellipse cx="39.0" cy="70.0" rx="2.3" ry="1.6" transform="rotate(2 39.0 70.0)" fill="#fff" opacity="0.21"/><ellipse cx="60.7" cy="57.1" rx="1.8" ry="0.8" transform="rotate(167 60.7 57.1)" fill="#000" opacity="0.65"/><ellipse cx="20.7" cy="73.9" rx="1.7" ry="1.2" transform="rotate(133 20.7 73.9)" fill="#000" opacity="0.44"/><ellipse cx="8.3" cy="33.0" rx="1.1" ry="0.6" transform="rotate(146 8.3 33.0)" fill="#fff" opacity="0.12"/><ellipse cx="2.7" cy="34.2" rx="1.7" ry="0.6" transform="rotate(119 2.7 34.2)" fill="#fff" opacity="0.12"/><ellipse cx="92.8" cy="41.1" rx="2.2" ry="1.3" transform="rotate(22 92.8 41.1)" fill="#fff" opacity="0.18"/><ellipse cx="64.1" cy="58.2" rx="2.0" ry="1.3" transform="rotate(45 64.1 58.2)" fill="#000" opacity="0.45"/><ellipse cx="49.0" cy="23.3" rx="1.7" ry="0.9" transform="rotate(6 49.0 23.3)" fill="#000" opacity="0.53"/><ellipse cx="80.3" cy="55.8" rx="2.0" ry="1.6" transform="rotate(67 80.3 55.8)" fill="#fff" opacity="0.10"/><ellipse cx="66.4" cy="45.1" rx="1.7" ry="1.4" transform="rotate(35 66.4 45.1)" fill="#fff" opacity="0.23"/><ellipse cx="81.2" cy="38.3" rx="0.9" ry="0.5" transform="rotate(148 81.2 38.3)" fill="#000" opacity="0.48"/><ellipse cx="38.9" cy="48.4" rx="1.8" ry="1.2" transform="rotate(155 38.9 48.4)" fill="#000" opacity="0.45"/><ellipse cx="25.0" cy="59.0" rx="2.1" ry="1.6" transform="rotate(35 25.0 59.0)" fill="#000" opacity="0.66"/><ellipse cx="7.7" cy="26.3" rx="1.8" ry="0.8" transform="rotate(149 7.7 26.3)" fill="#fff" opacity="0.22"/><ellipse cx="29.6" cy="20.1" rx="1.1" ry="0.6" transform="rotate(128 29.6 20.1)" fill="#fff" opacity="0.22"/><ellipse cx="33.5" cy="49.8" rx="1.4" ry="0.6" transform="rotate(25 33.5 49.8)" fill="#fff" opacity="0.23"/><ellipse cx="41.4" cy="13.5" rx="2.2" ry="1.4" transform="rotate(3 41.4 13.5)" fill="#000" opacity="0.54"/><ellipse cx="44.4" cy="39.5" rx="2.3" ry="1.2" transform="rotate(114 44.4 39.5)" fill="#000" opacity="0.45"/><ellipse cx="34.6" cy="57.1" rx="1.8" ry="1.0" transform="rotate(92 34.6 57.1)" fill="#fff" opacity="0.24"/><ellipse cx="2.0" cy="49.4" rx="1.5" ry="0.7" transform="rotate(105 2.0 49.4)" fill="#000" opacity="0.33"/><ellipse cx="49.0" cy="16.4" rx="2.1" ry="1.0" transform="rotate(59 49.0 16.4)" fill="#fff" opacity="0.11"/><ellipse cx="18.7" cy="15.5" rx="1.8" ry="1.3" transform="rotate(39 18.7 15.5)" fill="#fff" opacity="0.20"/><ellipse cx="11.6" cy="33.0" rx="2.0" ry="0.9" transform="rotate(125 11.6 33.0)" fill="#000" opacity="0.33"/><ellipse cx="24.3" cy="46.4" rx="1.0" ry="0.4" transform="rotate(103 24.3 46.4)" fill="#000" opacity="0.51"/><ellipse cx="66.4" cy="5.6" rx="1.3" ry="0.6" transform="rotate(164 66.4 5.6)" fill="#fff" opacity="0.24"/><ellipse cx="3.4" cy="39.4" rx="2.2" ry="1.6" transform="rotate(104 3.4 39.4)" fill="#fff" opacity="0.27"/><ellipse cx="8.0" cy="71.6" rx="2.0" ry="1.4" transform="rotate(95 8.0 71.6)" fill="#fff" opacity="0.16"/><ellipse cx="66.4" cy="50.3" rx="1.4" ry="1.0" transform="rotate(9 66.4 50.3)" fill="#fff" opacity="0.12"/><ellipse cx="32.5" cy="59.7" rx="2.0" ry="0.8" transform="rotate(55 32.5 59.7)" fill="#fff" opacity="0.22"/><ellipse cx="44.3" cy="21.0" rx="1.4" ry="1.0" transform="rotate(76 44.3 21.0)" fill="#000" opacity="0.55"/><ellipse cx="47.4" cy="43.4" rx="1.4" ry="0.6" transform="rotate(88 47.4 43.4)" fill="#fff" opacity="0.16"/><ellipse cx="18.7" cy="68.0" rx="1.5" ry="0.7" transform="rotate(5 18.7 68.0)" fill="#fff" opacity="0.26"/><ellipse cx="33.7" cy="51.0" rx="1.2" ry="0.8" transform="rotate(81 33.7 51.0)" fill="#000" opacity="0.51"/><ellipse cx="37.5" cy="24.3" rx="1.8" ry="1.3" transform="rotate(124 37.5 24.3)" fill="#000" opacity="0.43"/><ellipse cx="89.1" cy="63.4" rx="1.0" ry="0.7" transform="rotate(138 89.1 63.4)" fill="#000" opacity="0.69"/><ellipse cx="87.9" cy="22.0" rx="2.4" ry="1.2" transform="rotate(68 87.9 22.0)" fill="#000" opacity="0.37"/><ellipse cx="39.5" cy="48.2" rx="1.2" ry="0.6" transform="rotate(142 39.5 48.2)" fill="#000" opacity="0.60"/><ellipse cx="79.0" cy="65.2" rx="2.2" ry="1.6" transform="rotate(176 79.0 65.2)" fill="#000" opacity="0.58"/><ellipse cx="51.4" cy="71.9" rx="1.8" ry="1.0" transform="rotate(119 51.4 71.9)" fill="#fff" opacity="0.12"/><ellipse cx="38.6" cy="14.4" rx="0.8" ry="0.3" transform="rotate(81 38.6 14.4)" fill="#000" opacity="0.32"/><ellipse cx="63.7" cy="12.7" rx="1.6" ry="0.8" transform="rotate(80 63.7 12.7)" fill="#000" opacity="0.47"/><ellipse cx="39.2" cy="55.3" rx="1.0" ry="0.5" transform="rotate(126 39.2 55.3)" fill="#000" opacity="0.69"/><ellipse cx="25.7" cy="48.1" rx="1.3" ry="0.9" transform="rotate(152 25.7 48.1)" fill="#fff" opacity="0.16"/><ellipse cx="93.6" cy="29.3" rx="1.8" ry="1.3" transform="rotate(50 93.6 29.3)" fill="#000" opacity="0.30"/><ellipse cx="34.0" cy="16.5" rx="1.4" ry="0.6" transform="rotate(4 34.0 16.5)" fill="#000" opacity="0.37"/><ellipse cx="57.3" cy="43.2" rx="2.2" ry="1.6" transform="rotate(111 57.3 43.2)" fill="#fff" opacity="0.24"/><ellipse cx="9.8" cy="69.1" rx="1.3" ry="0.6" transform="rotate(38 9.8 69.1)" fill="#fff" opacity="0.24"/><ellipse cx="85.5" cy="56.5" rx="2.0" ry="0.9" transform="rotate(57 85.5 56.5)" fill="#fff" opacity="0.18"/><ellipse cx="87.4" cy="73.7" rx="0.9" ry="0.7" transform="rotate(165 87.4 73.7)" fill="#000" opacity="0.58"/><ellipse cx="78.4" cy="17.9" rx="1.8" ry="1.4" transform="rotate(158 78.4 17.9)" fill="#000" opacity="0.33"/><ellipse cx="71.5" cy="38.6" rx="2.3" ry="1.0" transform="rotate(98 71.5 38.6)" fill="#fff" opacity="0.24"/><ellipse cx="72.3" cy="7.1" rx="1.3" ry="0.5" transform="rotate(114 72.3 7.1)" fill="#000" opacity="0.33"/><ellipse cx="95.1" cy="71.6" rx="1.5" ry="0.9" transform="rotate(65 95.1 71.6)" fill="#000" opacity="0.46"/><ellipse cx="44.1" cy="56.7" rx="1.1" ry="0.5" transform="rotate(137 44.1 56.7)" fill="#fff" opacity="0.11"/><ellipse cx="91.2" cy="16.0" rx="1.5" ry="0.7" transform="rotate(47 91.2 16.0)" fill="#fff" opacity="0.20"/><ellipse cx="11.6" cy="41.8" rx="0.9" ry="0.3" transform="rotate(36 11.6 41.8)" fill="#fff" opacity="0.16"/><ellipse cx="29.1" cy="62.7" rx="1.9" ry="1.0" transform="rotate(138 29.1 62.7)" fill="#000" opacity="0.43"/><ellipse cx="61.6" cy="56.4" rx="1.7" ry="1.1" transform="rotate(113 61.6 56.4)" fill="#000" opacity="0.41"/><ellipse cx="67.2" cy="72.4" rx="1.6" ry="1.2" transform="rotate(17 67.2 72.4)" fill="#000" opacity="0.41"/><ellipse cx="75.0" cy="34.2" rx="1.7" ry="0.8" transform="rotate(46 75.0 34.2)" fill="#000" opacity="0.56"/><ellipse cx="62.9" cy="13.0" rx="1.3" ry="1.0" transform="rotate(36 62.9 13.0)" fill="#000" opacity="0.58"/><ellipse cx="51.0" cy="43.2" rx="2.4" ry="1.7" transform="rotate(42 51.0 43.2)" fill="#000" opacity="0.47"/><ellipse cx="68.4" cy="51.6" rx="1.2" ry="0.8" transform="rotate(77 68.4 51.6)" fill="#fff" opacity="0.15"/><ellipse cx="37.7" cy="18.6" rx="1.9" ry="1.5" transform="rotate(167 37.7 18.6)" fill="#000" opacity="0.64"/><ellipse cx="49.2" cy="45.5" rx="2.2" ry="0.8" transform="rotate(65 49.2 45.5)" fill="#fff" opacity="0.16"/><ellipse cx="42.8" cy="8.9" rx="1.9" ry="1.5" transform="rotate(42 42.8 8.9)" fill="#fff" opacity="0.16"/><ellipse cx="79.6" cy="20.6" rx="2.0" ry="0.9" transform="rotate(107 79.6 20.6)" fill="#000" opacity="0.57"/><ellipse cx="8.4" cy="71.0" rx="2.2" ry="1.2" transform="rotate(154 8.4 71.0)" fill="#000" opacity="0.37"/><ellipse cx="39.7" cy="61.6" rx="1.5" ry="0.6" transform="rotate(29 39.7 61.6)" fill="#fff" opacity="0.21"/><ellipse cx="64.4" cy="35.9" rx="1.4" ry="1.1" transform="rotate(61 64.4 35.9)" fill="#000" opacity="0.38"/><ellipse cx="51.4" cy="17.4" rx="1.0" ry="0.5" transform="rotate(20 51.4 17.4)" fill="#fff" opacity="0.22"/><ellipse cx="54.9" cy="59.9" rx="1.6" ry="0.6" transform="rotate(130 54.9 59.9)" fill="#000" opacity="0.60"/><ellipse cx="97.5" cy="41.2" rx="1.2" ry="0.6" transform="rotate(89 97.5 41.2)" fill="#fff" opacity="0.12"/><ellipse cx="39.8" cy="50.3" rx="2.1" ry="1.5" transform="rotate(159 39.8 50.3)" fill="#000" opacity="0.46"/><ellipse cx="64.4" cy="8.7" rx="2.1" ry="1.4" transform="rotate(47 64.4 8.7)" fill="#000" opacity="0.41"/><ellipse cx="79.5" cy="34.4" rx="2.0" ry="1.6" transform="rotate(139 79.5 34.4)" fill="#fff" opacity="0.16"/><ellipse cx="94.6" cy="67.4" rx="1.1" ry="0.6" transform="rotate(141 94.6 67.4)" fill="#000" opacity="0.41"/><ellipse cx="44.6" cy="71.4" rx="0.9" ry="0.4" transform="rotate(119 44.6 71.4)" fill="#000" opacity="0.68"/><ellipse cx="46.9" cy="59.5" rx="2.4" ry="1.2" transform="rotate(40 46.9 59.5)" fill="#fff" opacity="0.24"/><ellipse cx="14.0" cy="42.7" rx="2.3" ry="1.0" transform="rotate(113 14.0 42.7)" fill="#000" opacity="0.69"/><ellipse cx="51.3" cy="38.9" rx="2.2" ry="1.5" transform="rotate(26 51.3 38.9)" fill="#000" opacity="0.46"/><ellipse cx="96.9" cy="71.5" rx="1.6" ry="0.9" transform="rotate(40 96.9 71.5)" fill="#fff" opacity="0.14"/><ellipse cx="16.8" cy="55.4" rx="0.9" ry="0.5" transform="rotate(107 16.8 55.4)" fill="#000" opacity="0.53"/><ellipse cx="92.7" cy="24.4" rx="0.9" ry="0.6" transform="rotate(48 92.7 24.4)" fill="#000" opacity="0.67"/><ellipse cx="68.8" cy="62.5" rx="1.2" ry="0.7" transform="rotate(68 68.8 62.5)" fill="#fff" opacity="0.17"/><ellipse cx="47.8" cy="50.1" rx="0.8" ry="0.5" transform="rotate(23 47.8 50.1)" fill="#000" opacity="0.52"/><ellipse cx="58.9" cy="26.7" rx="1.9" ry="1.3" transform="rotate(163 58.9 26.7)" fill="#000" opacity="0.41"/><ellipse cx="62.9" cy="8.5" rx="2.0" ry="1.0" transform="rotate(129 62.9 8.5)" fill="#fff" opacity="0.21"/><ellipse cx="16.9" cy="7.5" rx="1.2" ry="0.9" transform="rotate(69 16.9 7.5)" fill="#000" opacity="0.62"/><ellipse cx="97.8" cy="22.9" rx="1.9" ry="1.3" transform="rotate(142 97.8 22.9)" fill="#fff" opacity="0.19"/><ellipse cx="78.4" cy="22.3" rx="1.6" ry="1.0" transform="rotate(153 78.4 22.3)" fill="#fff" opacity="0.22"/><ellipse cx="21.7" cy="15.8" rx="1.6" ry="1.0" transform="rotate(115 21.7 15.8)" fill="#000" opacity="0.37"/><ellipse cx="53.0" cy="38.1" rx="1.2" ry="0.9" transform="rotate(25 53.0 38.1)" fill="#fff" opacity="0.11"/><ellipse cx="64.4" cy="50.4" rx="1.2" ry="0.9" transform="rotate(114 64.4 50.4)" fill="#fff" opacity="0.27"/><ellipse cx="85.3" cy="26.7" rx="2.2" ry="0.9" transform="rotate(62 85.3 26.7)" fill="#000" opacity="0.68"/><ellipse cx="29.9" cy="31.6" rx="1.1" ry="0.8" transform="rotate(33 29.9 31.6)" fill="#000" opacity="0.44"/><ellipse cx="55.0" cy="65.5" rx="1.2" ry="0.7" transform="rotate(114 55.0 65.5)" fill="#000" opacity="0.46"/><ellipse cx="64.6" cy="26.7" rx="1.0" ry="0.4" transform="rotate(109 64.6 26.7)" fill="#000" opacity="0.62"/><ellipse cx="15.7" cy="51.4" rx="1.5" ry="0.9" transform="rotate(149 15.7 51.4)" fill="#000" opacity="0.47"/><ellipse cx="64.6" cy="15.2" rx="2.2" ry="1.3" transform="rotate(7 64.6 15.2)" fill="#000" opacity="0.68"/><ellipse cx="97.9" cy="34.4" rx="1.2" ry="0.9" transform="rotate(51 97.9 34.4)" fill="#fff" opacity="0.14"/><ellipse cx="47.1" cy="51.5" rx="0.9" ry="0.5" transform="rotate(130 47.1 51.5)" fill="#fff" opacity="0.13"/><ellipse cx="71.1" cy="35.1" rx="1.9" ry="1.1" transform="rotate(146 71.1 35.1)" fill="#000" opacity="0.69"/><ellipse cx="81.3" cy="54.8" rx="1.6" ry="1.0" transform="rotate(67 81.3 54.8)" fill="#fff" opacity="0.26"/><ellipse cx="80.7" cy="57.9" rx="2.2" ry="1.3" transform="rotate(179 80.7 57.9)" fill="#000" opacity="0.69"/><ellipse cx="8.1" cy="31.1" rx="1.7" ry="1.2" transform="rotate(93 8.1 31.1)" fill="#000" opacity="0.45"/><ellipse cx="67.7" cy="60.0" rx="1.8" ry="0.6" transform="rotate(118 67.7 60.0)" fill="#fff" opacity="0.15"/><ellipse cx="11.5" cy="57.7" rx="1.1" ry="0.7" transform="rotate(13 11.5 57.7)" fill="#fff" opacity="0.23"/><ellipse cx="92.5" cy="9.9" rx="1.8" ry="0.9" transform="rotate(111 92.5 9.9)" fill="#fff" opacity="0.10"/><ellipse cx="7.9" cy="66.5" rx="1.6" ry="1.0" transform="rotate(24 7.9 66.5)" fill="#000" opacity="0.66"/><ellipse cx="19.8" cy="58.9" rx="2.2" ry="1.7" transform="rotate(101 19.8 58.9)" fill="#000" opacity="0.44"/><ellipse cx="78.1" cy="26.4" rx="1.8" ry="1.1" transform="rotate(178 78.1 26.4)" fill="#000" opacity="0.34"/><ellipse cx="17.7" cy="29.6" rx="1.4" ry="1.0" transform="rotate(46 17.7 29.6)" fill="#000" opacity="0.48"/><ellipse cx="30.5" cy="49.3" rx="1.5" ry="1.2" transform="rotate(23 30.5 49.3)" fill="#000" opacity="0.55"/><ellipse cx="45.9" cy="10.4" rx="1.8" ry="1.3" transform="rotate(62 45.9 10.4)" fill="#000" opacity="0.51"/><ellipse cx="9.0" cy="64.3" rx="1.3" ry="0.7" transform="rotate(137 9.0 64.3)" fill="#000" opacity="0.64"/><ellipse cx="36.8" cy="63.5" rx="1.0" ry="0.6" transform="rotate(77 36.8 63.5)" fill="#000" opacity="0.59"/><ellipse cx="65.9" cy="60.9" rx="1.4" ry="0.7" transform="rotate(18 65.9 60.9)" fill="#fff" opacity="0.14"/><ellipse cx="73.1" cy="13.9" rx="2.3" ry="1.4" transform="rotate(80 73.1 13.9)" fill="#fff" opacity="0.18"/><ellipse cx="56.4" cy="14.9" rx="2.4" ry="1.2" transform="rotate(78 56.4 14.9)" fill="#fff" opacity="0.17"/><ellipse cx="27.6" cy="63.9" rx="0.9" ry="0.5" transform="rotate(107 27.6 63.9)" fill="#000" opacity="0.43"/><ellipse cx="48.4" cy="9.3" rx="1.3" ry="0.7" transform="rotate(138 48.4 9.3)" fill="#000" opacity="0.47"/><ellipse cx="65.4" cy="24.1" rx="1.7" ry="0.7" transform="rotate(111 65.4 24.1)" fill="#000" opacity="0.56"/><ellipse cx="87.5" cy="59.9" rx="2.4" ry="1.1" transform="rotate(171 87.5 59.9)" fill="#000" opacity="0.45"/><ellipse cx="45.5" cy="68.6" rx="2.3" ry="1.7" transform="rotate(54 45.5 68.6)" fill="#fff" opacity="0.14"/><ellipse cx="67.2" cy="53.5" rx="0.9" ry="0.3" transform="rotate(179 67.2 53.5)" fill="#fff" opacity="0.11"/><ellipse cx="46.5" cy="11.7" rx="2.1" ry="1.2" transform="rotate(110 46.5 11.7)" fill="#000" opacity="0.35"/><ellipse cx="21.5" cy="59.3" rx="1.8" ry="1.0" transform="rotate(64 21.5 59.3)" fill="#000" opacity="0.68"/><ellipse cx="94.9" cy="68.3" rx="2.4" ry="1.0" transform="rotate(5 94.9 68.3)" fill="#000" opacity="0.40"/><ellipse cx="52.2" cy="37.3" rx="2.4" ry="1.3" transform="rotate(24 52.2 37.3)" fill="#fff" opacity="0.26"/><ellipse cx="81.6" cy="14.6" rx="2.3" ry="1.2" transform="rotate(130 81.6 14.6)" fill="#000" opacity="0.64"/><ellipse cx="48.9" cy="7.0" rx="1.7" ry="1.2" transform="rotate(73 48.9 7.0)" fill="#000" opacity="0.48"/><ellipse cx="35.9" cy="29.8" rx="1.2" ry="0.7" transform="rotate(172 35.9 29.8)" fill="#000" opacity="0.61"/><ellipse cx="17.9" cy="30.5" rx="1.7" ry="0.9" transform="rotate(1 17.9 30.5)" fill="#000" opacity="0.35"/><ellipse cx="65.9" cy="72.7" rx="1.3" ry="0.6" transform="rotate(59 65.9 72.7)" fill="#000" opacity="0.69"/><ellipse cx="14.5" cy="21.9" rx="2.2" ry="1.1" transform="rotate(120 14.5 21.9)" fill="#000" opacity="0.30"/><ellipse cx="2.7" cy="57.4" rx="2.3" ry="1.5" transform="rotate(84 2.7 57.4)" fill="#fff" opacity="0.19"/><ellipse cx="11.0" cy="27.4" rx="0.9" ry="0.5" transform="rotate(84 11.0 27.4)" fill="#fff" opacity="0.14"/><ellipse cx="6.6" cy="6.9" rx="1.0" ry="0.8" transform="rotate(5 6.6 6.9)" fill="#000" opacity="0.48"/><ellipse cx="58.8" cy="26.0" rx="2.4" ry="1.7" transform="rotate(72 58.8 26.0)" fill="#000" opacity="0.67"/><ellipse cx="15.6" cy="65.3" rx="1.8" ry="1.1" transform="rotate(95 15.6 65.3)" fill="#000" opacity="0.34"/><ellipse cx="24.9" cy="29.4" rx="1.2" ry="0.4" transform="rotate(128 24.9 29.4)" fill="#000" opacity="0.60"/><ellipse cx="39.2" cy="70.0" rx="1.2" ry="0.7" transform="rotate(76 39.2 70.0)" fill="#000" opacity="0.35"/><ellipse cx="54.6" cy="36.3" rx="1.8" ry="0.8" transform="rotate(97 54.6 36.3)" fill="#000" opacity="0.34"/><ellipse cx="97.2" cy="71.7" rx="1.5" ry="0.6" transform="rotate(89 97.2 71.7)" fill="#000" opacity="0.30"/><ellipse cx="75.3" cy="58.8" rx="1.0" ry="0.6" transform="rotate(26 75.3 58.8)" fill="#fff" opacity="0.19"/><ellipse cx="29.8" cy="50.5" rx="1.6" ry="0.7" transform="rotate(165 29.8 50.5)" fill="#fff" opacity="0.24"/><ellipse cx="28.2" cy="67.0" rx="1.8" ry="1.0" transform="rotate(38 28.2 67.0)" fill="#000" opacity="0.64"/><ellipse cx="96.1" cy="45.7" rx="2.3" ry="1.7" transform="rotate(119 96.1 45.7)" fill="#fff" opacity="0.21"/><ellipse cx="34.3" cy="61.1" rx="1.7" ry="1.2" transform="rotate(160 34.3 61.1)" fill="#000" opacity="0.38"/><ellipse cx="33.5" cy="10.9" rx="1.3" ry="0.6" transform="rotate(53 33.5 10.9)" fill="#000" opacity="0.35"/><ellipse cx="91.8" cy="68.6" rx="2.0" ry="0.9" transform="rotate(52 91.8 68.6)" fill="#000" opacity="0.55"/><ellipse cx="92.6" cy="6.4" rx="0.9" ry="0.7" transform="rotate(4 92.6 6.4)" fill="#000" opacity="0.37"/><ellipse cx="97.6" cy="37.5" rx="1.8" ry="1.3" transform="rotate(148 97.6 37.5)" fill="#000" opacity="0.48"/><ellipse cx="78.9" cy="22.7" rx="1.3" ry="1.0" transform="rotate(158 78.9 22.7)" fill="#000" opacity="0.44"/><ellipse cx="34.3" cy="12.2" rx="2.1" ry="0.8" transform="rotate(32 34.3 12.2)" fill="#fff" opacity="0.18"/><ellipse cx="99.6" cy="9.9" rx="1.2" ry="0.6" transform="rotate(126 99.6 9.9)" fill="#fff" opacity="0.13"/><ellipse cx="69.2" cy="67.1" rx="1.1" ry="0.4" transform="rotate(73 69.2 67.1)" fill="#000" opacity="0.32"/><ellipse cx="13.8" cy="49.5" rx="2.0" ry="1.1" transform="rotate(8 13.8 49.5)" fill="#000" opacity="0.34"/><ellipse cx="7.4" cy="8.9" rx="2.3" ry="0.9" transform="rotate(85 7.4 8.9)" fill="#000" opacity="0.38"/><ellipse cx="39.0" cy="59.8" rx="1.7" ry="0.7" transform="rotate(96 39.0 59.8)" fill="#000" opacity="0.63"/><ellipse cx="96.3" cy="6.6" rx="0.9" ry="0.5" transform="rotate(2 96.3 6.6)" fill="#000" opacity="0.42"/><ellipse cx="55.0" cy="65.5" rx="1.5" ry="1.0" transform="rotate(27 55.0 65.5)" fill="#000" opacity="0.59"/><ellipse cx="46.8" cy="17.8" rx="2.2" ry="1.1" transform="rotate(164 46.8 17.8)" fill="#fff" opacity="0.25"/><ellipse cx="12.4" cy="51.6" rx="2.3" ry="1.5" transform="rotate(74 12.4 51.6)" fill="#000" opacity="0.69"/><ellipse cx="82.2" cy="20.4" rx="0.9" ry="0.6" transform="rotate(24 82.2 20.4)" fill="#fff" opacity="0.20"/><ellipse cx="94.4" cy="23.7" rx="2.1" ry="1.7" transform="rotate(169 94.4 23.7)" fill="#fff" opacity="0.12"/><ellipse cx="95.5" cy="71.6" rx="1.1" ry="0.5" transform="rotate(128 95.5 71.6)" fill="#fff" opacity="0.12"/><ellipse cx="16.0" cy="44.9" rx="1.4" ry="1.0" transform="rotate(27 16.0 44.9)" fill="#000" opacity="0.61"/><ellipse cx="37.5" cy="46.7" rx="1.9" ry="0.8" transform="rotate(167 37.5 46.7)" fill="#000" opacity="0.51"/><ellipse cx="85.2" cy="6.4" rx="1.2" ry="0.4" transform="rotate(132 85.2 6.4)" fill="#fff" opacity="0.23"/><ellipse cx="71.8" cy="73.7" rx="1.1" ry="0.6" transform="rotate(141 71.8 73.7)" fill="#000" opacity="0.37"/><ellipse cx="67.5" cy="59.8" rx="1.5" ry="0.8" transform="rotate(23 67.5 59.8)" fill="#000" opacity="0.64"/><ellipse cx="35.5" cy="70.8" rx="1.4" ry="0.8" transform="rotate(140 35.5 70.8)" fill="#000" opacity="0.64"/><ellipse cx="42.2" cy="36.1" rx="1.0" ry="0.6" transform="rotate(147 42.2 36.1)" fill="#fff" opacity="0.16"/><ellipse cx="6.6" cy="36.3" rx="1.6" ry="1.2" transform="rotate(120 6.6 36.3)" fill="#000" opacity="0.38"/><ellipse cx="43.8" cy="53.4" rx="0.9" ry="0.6" transform="rotate(112 43.8 53.4)" fill="#fff" opacity="0.14"/><ellipse cx="78.4" cy="16.2" rx="1.8" ry="1.0" transform="rotate(70 78.4 16.2)" fill="#000" opacity="0.46"/><ellipse cx="87.9" cy="61.6" rx="1.7" ry="0.7" transform="rotate(60 87.9 61.6)" fill="#000" opacity="0.41"/><ellipse cx="59.0" cy="18.9" rx="2.0" ry="1.3" transform="rotate(160 59.0 18.9)" fill="#000" opacity="0.34"/><ellipse cx="79.6" cy="44.8" rx="2.3" ry="1.3" transform="rotate(58 79.6 44.8)" fill="#000" opacity="0.52"/><ellipse cx="69.9" cy="48.6" rx="2.2" ry="1.3" transform="rotate(36 69.9 48.6)" fill="#000" opacity="0.58"/><ellipse cx="15.8" cy="36.8" rx="2.2" ry="1.3" transform="rotate(21 15.8 36.8)" fill="#000" opacity="0.59"/><ellipse cx="19.7" cy="52.9" rx="2.2" ry="1.3" transform="rotate(170 19.7 52.9)" fill="#000" opacity="0.30"/><ellipse cx="65.9" cy="62.3" rx="2.3" ry="1.6" transform="rotate(169 65.9 62.3)" fill="#000" opacity="0.49"/><ellipse cx="6.0" cy="16.6" rx="0.9" ry="0.7" transform="rotate(145 6.0 16.6)" fill="#000" opacity="0.61"/><ellipse cx="45.3" cy="43.9" rx="0.8" ry="0.4" transform="rotate(72 45.3 43.9)" fill="#fff" opacity="0.16"/><ellipse cx="51.9" cy="16.1" rx="1.1" ry="0.4" transform="rotate(82 51.9 16.1)" fill="#000" opacity="0.48"/><ellipse cx="70.4" cy="54.4" rx="2.1" ry="1.5" transform="rotate(90 70.4 54.4)" fill="#fff" opacity="0.13"/><ellipse cx="27.8" cy="28.3" rx="1.8" ry="1.0" transform="rotate(51 27.8 28.3)" fill="#fff" opacity="0.23"/><ellipse cx="99.5" cy="53.4" rx="1.0" ry="0.7" transform="rotate(143 99.5 53.4)" fill="#000" opacity="0.55"/><ellipse cx="86.2" cy="38.0" rx="1.9" ry="0.8" transform="rotate(150 86.2 38.0)" fill="#000" opacity="0.38"/><ellipse cx="62.5" cy="61.9" rx="1.5" ry="0.7" transform="rotate(127 62.5 61.9)" fill="#000" opacity="0.68"/><ellipse cx="31.0" cy="38.5" rx="1.4" ry="0.6" transform="rotate(98 31.0 38.5)" fill="#fff" opacity="0.19"/><ellipse cx="82.9" cy="43.3" rx="2.4" ry="1.1" transform="rotate(33 82.9 43.3)" fill="#fff" opacity="0.23"/><ellipse cx="28.6" cy="20.1" rx="1.8" ry="1.4" transform="rotate(135 28.6 20.1)" fill="#000" opacity="0.67"/><ellipse cx="52.7" cy="20.2" rx="2.0" ry="0.9" transform="rotate(12 52.7 20.2)" fill="#fff" opacity="0.23"/><ellipse cx="63.3" cy="33.3" rx="1.0" ry="0.4" transform="rotate(108 63.3 33.3)" fill="#000" opacity="0.52"/><ellipse cx="74.3" cy="44.6" rx="2.2" ry="1.7" transform="rotate(93 74.3 44.6)" fill="#fff" opacity="0.19"/><ellipse cx="25.0" cy="17.1" rx="2.0" ry="1.1" transform="rotate(4 25.0 17.1)" fill="#fff" opacity="0.16"/><ellipse cx="6.1" cy="6.6" rx="1.8" ry="1.3" transform="rotate(150 6.1 6.6)" fill="#000" opacity="0.39"/><ellipse cx="63.8" cy="23.6" rx="1.2" ry="0.6" transform="rotate(24 63.8 23.6)" fill="#fff" opacity="0.28"/><ellipse cx="8.4" cy="72.0" rx="1.9" ry="1.3" transform="rotate(20 8.4 72.0)" fill="#000" opacity="0.38"/><ellipse cx="50.8" cy="36.3" rx="2.2" ry="0.9" transform="rotate(1 50.8 36.3)" fill="#000" opacity="0.51"/><ellipse cx="64.8" cy="11.0" rx="1.4" ry="0.9" transform="rotate(106 64.8 11.0)" fill="#fff" opacity="0.10"/><ellipse cx="4.4" cy="66.6" rx="1.2" ry="0.5" transform="rotate(52 4.4 66.6)" fill="#fff" opacity="0.20"/><ellipse cx="4.9" cy="42.3" rx="1.8" ry="1.1" transform="rotate(107 4.9 42.3)" fill="#fff" opacity="0.17"/></g></g></g><g filter="url(#blurT)"><ellipse cx="33.4" cy="23.0" rx="2.9" ry="2.9" fill="#000" opacity="0.85"/><ellipse cx="38.0" cy="31.6" rx="2.9" ry="2.9" fill="#000" opacity="0.85"/><ellipse cx="46.5" cy="25.3" rx="2.9" ry="2.9" fill="#000" opacity="0.85"/><ellipse cx="94.2" cy="19.9" rx="3.4" ry="3.4" fill="#000" opacity="0.85"/><ellipse cx="95.7" cy="30.8" rx="3.4" ry="3.4" fill="#000" opacity="0.85"/><ellipse cx="96.5" cy="41.7" rx="3.4" ry="3.4" fill="#000" opacity="0.85"/><ellipse cx="95.7" cy="52.6" rx="3.4" ry="3.4" fill="#000" opacity="0.85"/><ellipse cx="93.4" cy="63.4" rx="3.4" ry="3.4" fill="#000" opacity="0.85"/><ellipse cx="4.9" cy="54.1" rx="4.6" ry="4.0" fill="#000" opacity="0.85"/><ellipse cx="5.7" cy="63.4" rx="4.6" ry="3.7" fill="#000" opacity="0.85"/><ellipse cx="4.2" cy="71.2" rx="4.0" ry="2.9" fill="#000" opacity="0.85"/><ellipse cx="60.0" cy="23.0" rx="2.3" ry="2.3" fill="#000" opacity="0.85"/><ellipse cx="66.5" cy="35.5" rx="2.3" ry="2.3" fill="#000" opacity="0.85"/><ellipse cx="83.0" cy="14.0" rx="2.3" ry="2.9" fill="#000" opacity="0.85"/><ellipse cx="76.0" cy="17.0" rx="1.8" ry="2.9" fill="#000" opacity="0.85"/></g><g filter="url(#blurS)"><circle cx="24.0" cy="58.2" r="1.7" fill="#fff" opacity="0.85"/><circle cx="22.6" cy="58.7" r="1.8" fill="#fff" opacity="0.85"/><circle cx="23.8" cy="58.2" r="1.4" fill="#fff" opacity="0.85"/><circle cx="33.6" cy="61.0" r="1.4" fill="#fff" opacity="0.85"/><circle cx="35.1" cy="60.8" r="1.7" fill="#fff" opacity="0.85"/><circle cx="34.3" cy="59.7" r="1.6" fill="#fff" opacity="0.85"/><circle cx="26.3" cy="70.0" r="1.5" fill="#fff" opacity="0.85"/><circle cx="25.7" cy="70.1" r="1.3" fill="#fff" opacity="0.85"/><circle cx="27.7" cy="71.6" r="1.5" fill="#fff" opacity="0.85"/><circle cx="74.4" cy="60.0" r="1.3" fill="#fff" opacity="0.85"/><circle cx="73.6" cy="61.2" r="1.4" fill="#fff" opacity="0.85"/><circle cx="74.1" cy="60.4" r="1.2" fill="#fff" opacity="0.85"/><circle cx="71.7" cy="67.5" r="1.8" fill="#fff" opacity="0.85"/><circle cx="70.0" cy="67.7" r="1.3" fill="#fff" opacity="0.85"/><circle cx="70.0" cy="66.4" r="1.6" fill="#fff" opacity="0.85"/><circle cx="68.5" cy="72.4" r="1.8" fill="#fff" opacity="0.85"/><circle cx="70.2" cy="72.9" r="1.3" fill="#fff" opacity="0.85"/><circle cx="69.1" cy="71.3" r="1.4" fill="#fff" opacity="0.85"/><circle cx="74.4" cy="41.4" r="0.7" fill="#fff" opacity="0.85"/><circle cx="73.6" cy="40.4" r="0.9" fill="#fff" opacity="0.85"/><circle cx="73.3" cy="39.1" r="0.6" fill="#fff" opacity="0.85"/><circle cx="37.9" cy="57.1" r="0.9" fill="#fff" opacity="0.85"/><circle cx="39.3" cy="56.4" r="0.8" fill="#fff" opacity="0.85"/><circle cx="39.4" cy="57.1" r="1.2" fill="#fff" opacity="0.85"/><circle cx="24.2" cy="65.7" r="0.8" fill="#fff" opacity="0.85"/><circle cx="24.9" cy="66.5" r="0.9" fill="#fff" opacity="0.85"/><circle cx="22.9" cy="66.3" r="1.2" fill="#fff" opacity="0.85"/><circle cx="30.6" cy="64.1" r="1.4" fill="#fff" opacity="0.85"/><circle cx="29.0" cy="62.2" r="1.1" fill="#fff" opacity="0.85"/><circle cx="29.0" cy="63.0" r="1.3" fill="#fff" opacity="0.85"/><circle cx="71.4" cy="63.8" r="1.0" fill="#fff" opacity="0.85"/><circle cx="72.8" cy="61.9" r="1.0" fill="#fff" opacity="0.85"/><circle cx="70.8" cy="63.2" r="0.9" fill="#fff" opacity="0.85"/></g></g></defs>
<defs><clipPath id="tisCDc"><path d="M0,47 L3,41 6.5,38.5 9,33 12.6,30.5 16,25.5 20.3,24 24,20 28,19.5 32,15.5 37.2,14.5 40.5,10.5 42.5,12 44,20 46.5,26 50,28 54,27.5 58,28 61,25 63,18 64.5,10 67,8 70,9.5 74.2,7 78,8.5 83.4,6.2 90,8 95,6.5 100,8 L100,74 L0,74 Z"/></clipPath><g id="tisCD"><rect width="100" height="74" fill="#000"/><linearGradient id="tisCDg" x1="0" y1="0" x2="0" y2="1"><stop offset="0.1" stop-color="rgb(97,97,97)"/><stop offset="0.75" stop-color="rgb(163,163,163)"/></linearGradient><g filter="url(#tex)"><g filter="url(#blurT)"><path d="M0,47 L3,41 6.5,38.5 9,33 12.6,30.5 16,25.5 20.3,24 24,20 28,19.5 32,15.5 37.2,14.5 40.5,10.5 42.5,12 44,20 46.5,26 50,28 54,27.5 58,28 61,25 63,18 64.5,10 67,8 70,9.5 74.2,7 78,8.5 83.4,6.2 90,8 95,6.5 100,8 L100,74 L0,74 Z" fill="url(#tisCDg)"/><g clip-path="url(#tisCDc)"><ellipse cx="57.0" cy="48.6" rx="2.1" ry="1.0" transform="rotate(117 57.0 48.6)" fill="#000" opacity="0.66"/><ellipse cx="18.7" cy="50.0" rx="1.8" ry="1.0" transform="rotate(173 18.7 50.0)" fill="#000" opacity="0.48"/><ellipse cx="94.4" cy="48.9" rx="1.3" ry="0.6" transform="rotate(89 94.4 48.9)" fill="#fff" opacity="0.21"/><ellipse cx="73.6" cy="34.4" rx="2.2" ry="1.7" transform="rotate(100 73.6 34.4)" fill="#000" opacity="0.35"/><ellipse cx="5.6" cy="72.6" rx="1.3" ry="0.6" transform="rotate(161 5.6 72.6)" fill="#000" opacity="0.35"/><ellipse cx="32.2" cy="21.7" rx="1.2" ry="0.4" transform="rotate(94 32.2 21.7)" fill="#fff" opacity="0.17"/><ellipse cx="18.5" cy="12.6" rx="0.9" ry="0.6" transform="rotate(134 18.5 12.6)" fill="#000" opacity="0.35"/><ellipse cx="14.9" cy="13.3" rx="1.3" ry="0.5" transform="rotate(49 14.9 13.3)" fill="#fff" opacity="0.13"/><ellipse cx="65.4" cy="36.6" rx="1.6" ry="0.8" transform="rotate(97 65.4 36.6)" fill="#000" opacity="0.42"/><ellipse cx="7.0" cy="38.2" rx="1.4" ry="1.0" transform="rotate(19 7.0 38.2)" fill="#000" opacity="0.31"/><ellipse cx="54.2" cy="35.6" rx="1.3" ry="1.0" transform="rotate(126 54.2 35.6)" fill="#fff" opacity="0.19"/><ellipse cx="61.2" cy="7.3" rx="0.9" ry="0.6" transform="rotate(131 61.2 7.3)" fill="#000" opacity="0.47"/><ellipse cx="50.7" cy="23.0" rx="2.2" ry="1.7" transform="rotate(86 50.7 23.0)" fill="#fff" opacity="0.17"/><ellipse cx="80.3" cy="27.4" rx="1.0" ry="0.4" transform="rotate(128 80.3 27.4)" fill="#000" opacity="0.41"/><ellipse cx="62.4" cy="57.5" rx="2.3" ry="1.7" transform="rotate(78 62.4 57.5)" fill="#000" opacity="0.67"/><ellipse cx="86.9" cy="56.8" rx="1.7" ry="1.0" transform="rotate(153 86.9 56.8)" fill="#000" opacity="0.59"/><ellipse cx="22.8" cy="11.4" rx="1.2" ry="0.8" transform="rotate(103 22.8 11.4)" fill="#fff" opacity="0.13"/><ellipse cx="95.0" cy="9.9" rx="2.3" ry="1.6" transform="rotate(103 95.0 9.9)" fill="#000" opacity="0.57"/><ellipse cx="0.7" cy="69.8" rx="1.5" ry="1.1" transform="rotate(146 0.7 69.8)" fill="#fff" opacity="0.11"/><ellipse cx="2.1" cy="58.9" rx="2.1" ry="0.9" transform="rotate(20 2.1 58.9)" fill="#fff" opacity="0.24"/><ellipse cx="74.1" cy="64.8" rx="2.3" ry="1.6" transform="rotate(150 74.1 64.8)" fill="#fff" opacity="0.10"/><ellipse cx="86.2" cy="47.7" rx="1.3" ry="0.5" transform="rotate(59 86.2 47.7)" fill="#fff" opacity="0.19"/><ellipse cx="45.0" cy="19.0" rx="0.9" ry="0.4" transform="rotate(23 45.0 19.0)" fill="#fff" opacity="0.17"/><ellipse cx="13.0" cy="60.2" rx="1.7" ry="0.9" transform="rotate(115 13.0 60.2)" fill="#fff" opacity="0.10"/><ellipse cx="7.9" cy="28.3" rx="1.4" ry="0.6" transform="rotate(55 7.9 28.3)" fill="#000" opacity="0.30"/><ellipse cx="44.9" cy="31.4" rx="1.3" ry="0.8" transform="rotate(40 44.9 31.4)" fill="#fff" opacity="0.13"/><ellipse cx="97.8" cy="28.9" rx="1.0" ry="0.8" transform="rotate(116 97.8 28.9)" fill="#000" opacity="0.43"/><ellipse cx="81.0" cy="7.9" rx="1.2" ry="0.8" transform="rotate(92 81.0 7.9)" fill="#000" opacity="0.45"/><ellipse cx="87.6" cy="10.4" rx="1.8" ry="0.8" transform="rotate(35 87.6 10.4)" fill="#000" opacity="0.47"/><ellipse cx="81.3" cy="24.6" rx="2.0" ry="1.5" transform="rotate(112 81.3 24.6)" fill="#fff" opacity="0.22"/><ellipse cx="95.1" cy="60.3" rx="1.5" ry="0.8" transform="rotate(17 95.1 60.3)" fill="#000" opacity="0.36"/><ellipse cx="21.8" cy="7.3" rx="1.1" ry="0.6" transform="rotate(85 21.8 7.3)" fill="#fff" opacity="0.18"/><ellipse cx="75.8" cy="11.7" rx="1.0" ry="0.6" transform="rotate(162 75.8 11.7)" fill="#000" opacity="0.53"/><ellipse cx="9.2" cy="65.3" rx="2.4" ry="1.8" transform="rotate(95 9.2 65.3)" fill="#fff" opacity="0.21"/><ellipse cx="79.0" cy="73.6" rx="1.6" ry="0.9" transform="rotate(55 79.0 73.6)" fill="#000" opacity="0.52"/><ellipse cx="28.3" cy="36.6" rx="2.3" ry="1.0" transform="rotate(45 28.3 36.6)" fill="#fff" opacity="0.25"/><ellipse cx="30.3" cy="62.1" rx="2.3" ry="1.7" transform="rotate(144 30.3 62.1)" fill="#fff" opacity="0.18"/><ellipse cx="82.3" cy="22.0" rx="1.8" ry="1.3" transform="rotate(168 82.3 22.0)" fill="#fff" opacity="0.12"/><ellipse cx="3.1" cy="26.8" rx="1.7" ry="0.8" transform="rotate(148 3.1 26.8)" fill="#000" opacity="0.55"/><ellipse cx="82.7" cy="27.7" rx="1.8" ry="0.9" transform="rotate(52 82.7 27.7)" fill="#fff" opacity="0.24"/><ellipse cx="90.0" cy="7.1" rx="1.9" ry="0.7" transform="rotate(75 90.0 7.1)" fill="#fff" opacity="0.26"/><ellipse cx="43.3" cy="40.2" rx="1.4" ry="0.6" transform="rotate(43 43.3 40.2)" fill="#fff" opacity="0.10"/><ellipse cx="55.0" cy="55.9" rx="1.9" ry="0.9" transform="rotate(177 55.0 55.9)" fill="#fff" opacity="0.18"/><ellipse cx="33.4" cy="17.4" rx="2.3" ry="1.6" transform="rotate(23 33.4 17.4)" fill="#fff" opacity="0.25"/><ellipse cx="37.3" cy="25.8" rx="1.3" ry="0.6" transform="rotate(105 37.3 25.8)" fill="#fff" opacity="0.21"/><ellipse cx="6.3" cy="41.9" rx="1.7" ry="0.9" transform="rotate(156 6.3 41.9)" fill="#000" opacity="0.56"/><ellipse cx="41.2" cy="16.4" rx="1.8" ry="0.9" transform="rotate(29 41.2 16.4)" fill="#000" opacity="0.38"/><ellipse cx="63.9" cy="57.4" rx="0.8" ry="0.5" transform="rotate(34 63.9 57.4)" fill="#fff" opacity="0.23"/><ellipse cx="96.5" cy="26.7" rx="2.0" ry="1.0" transform="rotate(169 96.5 26.7)" fill="#fff" opacity="0.22"/><ellipse cx="8.3" cy="43.6" rx="2.0" ry="1.5" transform="rotate(137 8.3 43.6)" fill="#000" opacity="0.46"/><ellipse cx="63.0" cy="49.7" rx="1.8" ry="1.2" transform="rotate(134 63.0 49.7)" fill="#000" opacity="0.55"/><ellipse cx="87.6" cy="56.1" rx="1.4" ry="1.0" transform="rotate(65 87.6 56.1)" fill="#000" opacity="0.65"/><ellipse cx="89.7" cy="67.8" rx="1.9" ry="1.1" transform="rotate(51 89.7 67.8)" fill="#000" opacity="0.66"/><ellipse cx="35.9" cy="19.5" rx="2.0" ry="1.5" transform="rotate(37 35.9 19.5)" fill="#fff" opacity="0.12"/><ellipse cx="55.2" cy="62.4" rx="1.2" ry="0.8" transform="rotate(8 55.2 62.4)" fill="#fff" opacity="0.20"/><ellipse cx="75.8" cy="39.1" rx="1.9" ry="1.0" transform="rotate(67 75.8 39.1)" fill="#000" opacity="0.30"/><ellipse cx="20.0" cy="29.2" rx="1.9" ry="0.8" transform="rotate(43 20.0 29.2)" fill="#000" opacity="0.56"/><ellipse cx="41.1" cy="59.0" rx="1.9" ry="1.4" transform="rotate(100 41.1 59.0)" fill="#000" opacity="0.34"/><ellipse cx="42.9" cy="32.1" rx="1.2" ry="0.6" transform="rotate(159 42.9 32.1)" fill="#fff" opacity="0.12"/><ellipse cx="33.5" cy="16.7" rx="0.8" ry="0.6" transform="rotate(98 33.5 16.7)" fill="#fff" opacity="0.20"/><ellipse cx="17.4" cy="38.3" rx="2.3" ry="1.8" transform="rotate(71 17.4 38.3)" fill="#000" opacity="0.50"/><ellipse cx="8.0" cy="32.6" rx="2.1" ry="1.5" transform="rotate(130 8.0 32.6)" fill="#000" opacity="0.45"/><ellipse cx="70.3" cy="61.5" rx="2.3" ry="1.7" transform="rotate(157 70.3 61.5)" fill="#fff" opacity="0.17"/><ellipse cx="61.9" cy="13.3" rx="1.3" ry="0.7" transform="rotate(37 61.9 13.3)" fill="#fff" opacity="0.22"/><ellipse cx="31.0" cy="8.9" rx="2.1" ry="1.6" transform="rotate(40 31.0 8.9)" fill="#000" opacity="0.33"/><ellipse cx="22.1" cy="16.3" rx="1.8" ry="1.1" transform="rotate(147 22.1 16.3)" fill="#000" opacity="0.60"/><ellipse cx="87.5" cy="45.3" rx="1.2" ry="0.5" transform="rotate(154 87.5 45.3)" fill="#000" opacity="0.56"/><ellipse cx="95.2" cy="60.8" rx="1.4" ry="0.6" transform="rotate(76 95.2 60.8)" fill="#000" opacity="0.66"/><ellipse cx="0.6" cy="5.5" rx="1.5" ry="1.2" transform="rotate(158 0.6 5.5)" fill="#000" opacity="0.33"/><ellipse cx="20.6" cy="58.4" rx="1.5" ry="0.7" transform="rotate(172 20.6 58.4)" fill="#fff" opacity="0.19"/><ellipse cx="88.2" cy="53.4" rx="2.2" ry="1.0" transform="rotate(100 88.2 53.4)" fill="#000" opacity="0.35"/><ellipse cx="43.0" cy="73.4" rx="1.1" ry="0.7" transform="rotate(134 43.0 73.4)" fill="#fff" opacity="0.28"/><ellipse cx="78.1" cy="14.1" rx="2.4" ry="1.8" transform="rotate(86 78.1 14.1)" fill="#fff" opacity="0.24"/><ellipse cx="58.5" cy="56.4" rx="0.9" ry="0.5" transform="rotate(145 58.5 56.4)" fill="#000" opacity="0.37"/><ellipse cx="33.0" cy="36.3" rx="1.5" ry="1.2" transform="rotate(168 33.0 36.3)" fill="#fff" opacity="0.21"/><ellipse cx="13.8" cy="64.7" rx="1.6" ry="1.2" transform="rotate(163 13.8 64.7)" fill="#000" opacity="0.37"/><ellipse cx="6.4" cy="58.3" rx="1.5" ry="1.1" transform="rotate(79 6.4 58.3)" fill="#000" opacity="0.59"/><ellipse cx="36.8" cy="39.2" rx="1.4" ry="0.9" transform="rotate(12 36.8 39.2)" fill="#000" opacity="0.53"/><ellipse cx="68.5" cy="67.2" rx="1.4" ry="1.1" transform="rotate(126 68.5 67.2)" fill="#fff" opacity="0.20"/><ellipse cx="36.2" cy="50.0" rx="0.8" ry="0.6" transform="rotate(64 36.2 50.0)" fill="#fff" opacity="0.12"/><ellipse cx="33.9" cy="23.1" rx="2.1" ry="1.1" transform="rotate(164 33.9 23.1)" fill="#fff" opacity="0.16"/><ellipse cx="95.1" cy="64.2" rx="2.3" ry="0.9" transform="rotate(12 95.1 64.2)" fill="#000" opacity="0.43"/><ellipse cx="10.5" cy="11.4" rx="1.3" ry="0.6" transform="rotate(119 10.5 11.4)" fill="#000" opacity="0.37"/><ellipse cx="79.4" cy="46.0" rx="2.2" ry="1.7" transform="rotate(164 79.4 46.0)" fill="#fff" opacity="0.23"/><ellipse cx="77.4" cy="31.3" rx="0.9" ry="0.6" transform="rotate(112 77.4 31.3)" fill="#000" opacity="0.60"/><ellipse cx="73.5" cy="8.0" rx="2.3" ry="1.8" transform="rotate(63 73.5 8.0)" fill="#000" opacity="0.68"/><ellipse cx="43.2" cy="28.2" rx="1.8" ry="1.2" transform="rotate(74 43.2 28.2)" fill="#000" opacity="0.68"/><ellipse cx="37.4" cy="67.8" rx="1.0" ry="0.6" transform="rotate(149 37.4 67.8)" fill="#000" opacity="0.41"/><ellipse cx="27.8" cy="30.1" rx="1.4" ry="0.8" transform="rotate(43 27.8 30.1)" fill="#000" opacity="0.39"/><ellipse cx="26.3" cy="37.1" rx="2.3" ry="1.1" transform="rotate(32 26.3 37.1)" fill="#000" opacity="0.53"/><ellipse cx="12.0" cy="72.1" rx="1.1" ry="0.7" transform="rotate(42 12.0 72.1)" fill="#000" opacity="0.45"/><ellipse cx="62.9" cy="59.9" rx="1.9" ry="0.9" transform="rotate(54 62.9 59.9)" fill="#000" opacity="0.51"/><ellipse cx="71.4" cy="9.7" rx="0.9" ry="0.3" transform="rotate(144 71.4 9.7)" fill="#fff" opacity="0.24"/><ellipse cx="45.7" cy="70.9" rx="1.8" ry="1.3" transform="rotate(18 45.7 70.9)" fill="#000" opacity="0.45"/><ellipse cx="4.2" cy="64.2" rx="1.2" ry="0.8" transform="rotate(3 4.2 64.2)" fill="#000" opacity="0.49"/><ellipse cx="45.0" cy="62.0" rx="1.3" ry="1.0" transform="rotate(28 45.0 62.0)" fill="#000" opacity="0.41"/><ellipse cx="67.8" cy="69.2" rx="1.9" ry="1.4" transform="rotate(15 67.8 69.2)" fill="#000" opacity="0.32"/><ellipse cx="67.6" cy="61.9" rx="2.0" ry="1.4" transform="rotate(109 67.6 61.9)" fill="#000" opacity="0.39"/><ellipse cx="91.0" cy="60.6" rx="1.1" ry="0.6" transform="rotate(78 91.0 60.6)" fill="#fff" opacity="0.25"/><ellipse cx="85.6" cy="56.8" rx="0.9" ry="0.6" transform="rotate(167 85.6 56.8)" fill="#000" opacity="0.67"/><ellipse cx="96.0" cy="53.5" rx="2.0" ry="1.0" transform="rotate(138 96.0 53.5)" fill="#fff" opacity="0.15"/><ellipse cx="33.0" cy="26.3" rx="0.9" ry="0.4" transform="rotate(49 33.0 26.3)" fill="#fff" opacity="0.10"/><ellipse cx="73.6" cy="62.0" rx="1.3" ry="0.9" transform="rotate(156 73.6 62.0)" fill="#fff" opacity="0.20"/><ellipse cx="59.0" cy="16.9" rx="2.2" ry="1.6" transform="rotate(96 59.0 16.9)" fill="#000" opacity="0.63"/><ellipse cx="5.7" cy="65.5" rx="1.6" ry="0.8" transform="rotate(46 5.7 65.5)" fill="#000" opacity="0.34"/><ellipse cx="82.7" cy="33.2" rx="2.2" ry="1.7" transform="rotate(142 82.7 33.2)" fill="#fff" opacity="0.14"/><ellipse cx="63.0" cy="70.0" rx="1.8" ry="0.9" transform="rotate(145 63.0 70.0)" fill="#000" opacity="0.54"/><ellipse cx="45.5" cy="70.6" rx="1.8" ry="0.7" transform="rotate(115 45.5 70.6)" fill="#000" opacity="0.37"/><ellipse cx="49.6" cy="23.3" rx="2.3" ry="1.0" transform="rotate(98 49.6 23.3)" fill="#fff" opacity="0.15"/><ellipse cx="65.2" cy="39.5" rx="1.9" ry="1.1" transform="rotate(110 65.2 39.5)" fill="#fff" opacity="0.27"/><ellipse cx="65.1" cy="6.9" rx="2.1" ry="0.9" transform="rotate(74 65.1 6.9)" fill="#000" opacity="0.66"/><ellipse cx="17.1" cy="25.4" rx="1.6" ry="1.1" transform="rotate(83 17.1 25.4)" fill="#000" opacity="0.70"/><ellipse cx="6.6" cy="32.9" rx="2.1" ry="1.5" transform="rotate(171 6.6 32.9)" fill="#fff" opacity="0.14"/><ellipse cx="66.7" cy="62.1" rx="2.1" ry="1.2" transform="rotate(23 66.7 62.1)" fill="#000" opacity="0.40"/><ellipse cx="2.5" cy="5.1" rx="1.3" ry="0.7" transform="rotate(98 2.5 5.1)" fill="#000" opacity="0.50"/><ellipse cx="63.3" cy="17.6" rx="2.1" ry="1.4" transform="rotate(146 63.3 17.6)" fill="#000" opacity="0.52"/><ellipse cx="83.7" cy="50.5" rx="1.2" ry="0.9" transform="rotate(34 83.7 50.5)" fill="#fff" opacity="0.25"/><ellipse cx="45.4" cy="15.5" rx="2.2" ry="1.4" transform="rotate(3 45.4 15.5)" fill="#fff" opacity="0.16"/><ellipse cx="28.0" cy="54.8" rx="1.2" ry="0.5" transform="rotate(154 28.0 54.8)" fill="#000" opacity="0.49"/><ellipse cx="88.6" cy="52.1" rx="2.2" ry="1.1" transform="rotate(54 88.6 52.1)" fill="#fff" opacity="0.18"/><ellipse cx="57.7" cy="18.7" rx="1.7" ry="1.3" transform="rotate(134 57.7 18.7)" fill="#fff" opacity="0.19"/><ellipse cx="63.1" cy="8.7" rx="2.4" ry="1.7" transform="rotate(100 63.1 8.7)" fill="#000" opacity="0.55"/><ellipse cx="39.5" cy="44.8" rx="1.6" ry="0.8" transform="rotate(84 39.5 44.8)" fill="#fff" opacity="0.21"/><ellipse cx="23.7" cy="23.3" rx="1.0" ry="0.7" transform="rotate(81 23.7 23.3)" fill="#000" opacity="0.50"/><ellipse cx="58.7" cy="29.9" rx="1.2" ry="0.8" transform="rotate(130 58.7 29.9)" fill="#fff" opacity="0.13"/><ellipse cx="35.2" cy="59.8" rx="1.3" ry="0.6" transform="rotate(77 35.2 59.8)" fill="#000" opacity="0.55"/><ellipse cx="31.9" cy="32.6" rx="2.4" ry="1.6" transform="rotate(39 31.9 32.6)" fill="#000" opacity="0.36"/><ellipse cx="98.0" cy="23.0" rx="2.3" ry="1.0" transform="rotate(40 98.0 23.0)" fill="#fff" opacity="0.16"/><ellipse cx="34.4" cy="32.1" rx="1.5" ry="0.6" transform="rotate(112 34.4 32.1)" fill="#000" opacity="0.39"/><ellipse cx="13.5" cy="7.4" rx="1.1" ry="0.6" transform="rotate(112 13.5 7.4)" fill="#000" opacity="0.63"/><ellipse cx="15.9" cy="22.8" rx="1.1" ry="0.4" transform="rotate(5 15.9 22.8)" fill="#000" opacity="0.68"/><ellipse cx="97.8" cy="6.7" rx="1.2" ry="0.6" transform="rotate(154 97.8 6.7)" fill="#fff" opacity="0.18"/><ellipse cx="87.4" cy="59.0" rx="1.1" ry="0.6" transform="rotate(122 87.4 59.0)" fill="#fff" opacity="0.26"/><ellipse cx="67.8" cy="30.3" rx="1.3" ry="0.5" transform="rotate(162 67.8 30.3)" fill="#fff" opacity="0.21"/><ellipse cx="69.8" cy="46.6" rx="2.1" ry="1.0" transform="rotate(120 69.8 46.6)" fill="#fff" opacity="0.23"/><ellipse cx="75.4" cy="37.1" rx="2.0" ry="1.3" transform="rotate(2 75.4 37.1)" fill="#fff" opacity="0.14"/><ellipse cx="69.1" cy="62.3" rx="1.2" ry="0.9" transform="rotate(35 69.1 62.3)" fill="#000" opacity="0.64"/><ellipse cx="28.3" cy="64.2" rx="0.9" ry="0.4" transform="rotate(151 28.3 64.2)" fill="#000" opacity="0.35"/><ellipse cx="49.0" cy="41.4" rx="0.8" ry="0.7" transform="rotate(4 49.0 41.4)" fill="#000" opacity="0.58"/><ellipse cx="65.7" cy="30.6" rx="1.2" ry="0.7" transform="rotate(171 65.7 30.6)" fill="#fff" opacity="0.19"/><ellipse cx="60.5" cy="72.1" rx="1.9" ry="1.5" transform="rotate(126 60.5 72.1)" fill="#000" opacity="0.67"/><ellipse cx="4.0" cy="56.6" rx="0.8" ry="0.3" transform="rotate(9 4.0 56.6)" fill="#000" opacity="0.62"/><ellipse cx="79.6" cy="47.9" rx="1.4" ry="0.7" transform="rotate(81 79.6 47.9)" fill="#fff" opacity="0.19"/><ellipse cx="64.6" cy="11.4" rx="2.3" ry="0.9" transform="rotate(157 64.6 11.4)" fill="#fff" opacity="0.10"/><ellipse cx="96.1" cy="27.7" rx="1.4" ry="1.0" transform="rotate(14 96.1 27.7)" fill="#000" opacity="0.65"/><ellipse cx="48.3" cy="6.6" rx="1.0" ry="0.8" transform="rotate(35 48.3 6.6)" fill="#000" opacity="0.56"/><ellipse cx="77.4" cy="49.5" rx="1.7" ry="1.2" transform="rotate(129 77.4 49.5)" fill="#fff" opacity="0.11"/><ellipse cx="58.8" cy="44.6" rx="1.9" ry="0.9" transform="rotate(177 58.8 44.6)" fill="#000" opacity="0.47"/><ellipse cx="17.0" cy="17.7" rx="1.2" ry="0.8" transform="rotate(74 17.0 17.7)" fill="#000" opacity="0.43"/><ellipse cx="84.1" cy="72.0" rx="1.9" ry="1.3" transform="rotate(52 84.1 72.0)" fill="#000" opacity="0.45"/><ellipse cx="40.1" cy="72.1" rx="1.3" ry="1.0" transform="rotate(131 40.1 72.1)" fill="#fff" opacity="0.18"/><ellipse cx="43.0" cy="36.7" rx="2.3" ry="1.5" transform="rotate(89 43.0 36.7)" fill="#000" opacity="0.44"/><ellipse cx="13.0" cy="31.8" rx="2.1" ry="1.5" transform="rotate(6 13.0 31.8)" fill="#000" opacity="0.61"/><ellipse cx="63.1" cy="70.9" rx="1.3" ry="0.5" transform="rotate(72 63.1 70.9)" fill="#fff" opacity="0.25"/><ellipse cx="44.5" cy="50.7" rx="1.6" ry="0.9" transform="rotate(67 44.5 50.7)" fill="#000" opacity="0.65"/><ellipse cx="99.2" cy="44.1" rx="1.5" ry="0.9" transform="rotate(172 99.2 44.1)" fill="#fff" opacity="0.10"/><ellipse cx="50.4" cy="64.3" rx="1.0" ry="0.5" transform="rotate(112 50.4 64.3)" fill="#000" opacity="0.43"/><ellipse cx="75.6" cy="61.9" rx="1.9" ry="1.4" transform="rotate(24 75.6 61.9)" fill="#000" opacity="0.46"/><ellipse cx="28.9" cy="34.3" rx="2.3" ry="1.6" transform="rotate(34 28.9 34.3)" fill="#000" opacity="0.56"/><ellipse cx="25.1" cy="28.7" rx="1.0" ry="0.6" transform="rotate(132 25.1 28.7)" fill="#fff" opacity="0.16"/><ellipse cx="24.5" cy="72.2" rx="1.2" ry="0.7" transform="rotate(41 24.5 72.2)" fill="#000" opacity="0.61"/><ellipse cx="86.9" cy="45.0" rx="2.3" ry="1.1" transform="rotate(124 86.9 45.0)" fill="#fff" opacity="0.15"/><ellipse cx="39.7" cy="19.2" rx="1.8" ry="0.8" transform="rotate(127 39.7 19.2)" fill="#000" opacity="0.31"/><ellipse cx="37.9" cy="50.0" rx="1.8" ry="1.2" transform="rotate(2 37.9 50.0)" fill="#000" opacity="0.35"/><ellipse cx="1.8" cy="56.9" rx="1.5" ry="0.7" transform="rotate(25 1.8 56.9)" fill="#fff" opacity="0.22"/><ellipse cx="3.3" cy="40.8" rx="1.5" ry="1.1" transform="rotate(76 3.3 40.8)" fill="#fff" opacity="0.21"/><ellipse cx="9.1" cy="11.6" rx="2.2" ry="1.3" transform="rotate(63 9.1 11.6)" fill="#fff" opacity="0.13"/><ellipse cx="41.5" cy="34.0" rx="2.3" ry="1.3" transform="rotate(69 41.5 34.0)" fill="#000" opacity="0.42"/><ellipse cx="50.2" cy="32.0" rx="1.1" ry="0.6" transform="rotate(139 50.2 32.0)" fill="#fff" opacity="0.21"/><ellipse cx="92.7" cy="45.6" rx="1.5" ry="1.1" transform="rotate(130 92.7 45.6)" fill="#fff" opacity="0.10"/><ellipse cx="91.5" cy="35.9" rx="1.3" ry="0.5" transform="rotate(39 91.5 35.9)" fill="#000" opacity="0.54"/><ellipse cx="15.6" cy="57.3" rx="2.1" ry="0.8" transform="rotate(111 15.6 57.3)" fill="#fff" opacity="0.17"/><ellipse cx="28.8" cy="41.9" rx="0.9" ry="0.7" transform="rotate(26 28.8 41.9)" fill="#000" opacity="0.31"/><ellipse cx="41.0" cy="23.8" rx="2.4" ry="1.2" transform="rotate(179 41.0 23.8)" fill="#fff" opacity="0.12"/><ellipse cx="37.9" cy="9.5" rx="1.6" ry="0.7" transform="rotate(39 37.9 9.5)" fill="#fff" opacity="0.16"/><ellipse cx="99.2" cy="42.0" rx="1.8" ry="1.3" transform="rotate(77 99.2 42.0)" fill="#000" opacity="0.31"/><ellipse cx="52.6" cy="62.6" rx="1.4" ry="0.6" transform="rotate(165 52.6 62.6)" fill="#000" opacity="0.43"/><ellipse cx="11.6" cy="31.4" rx="1.6" ry="0.7" transform="rotate(153 11.6 31.4)" fill="#000" opacity="0.62"/><ellipse cx="52.5" cy="69.7" rx="1.8" ry="1.0" transform="rotate(87 52.5 69.7)" fill="#000" opacity="0.55"/><ellipse cx="55.5" cy="16.5" rx="2.2" ry="1.4" transform="rotate(177 55.5 16.5)" fill="#000" opacity="0.38"/><ellipse cx="5.3" cy="28.0" rx="1.6" ry="0.7" transform="rotate(130 5.3 28.0)" fill="#fff" opacity="0.27"/><ellipse cx="15.3" cy="17.6" rx="1.0" ry="0.7" transform="rotate(158 15.3 17.6)" fill="#000" opacity="0.40"/><ellipse cx="83.7" cy="53.1" rx="1.2" ry="0.9" transform="rotate(137 83.7 53.1)" fill="#fff" opacity="0.20"/><ellipse cx="0.9" cy="12.5" rx="0.9" ry="0.7" transform="rotate(81 0.9 12.5)" fill="#000" opacity="0.67"/><ellipse cx="28.7" cy="14.6" rx="1.2" ry="0.9" transform="rotate(58 28.7 14.6)" fill="#fff" opacity="0.11"/><ellipse cx="38.0" cy="66.3" rx="1.2" ry="0.8" transform="rotate(65 38.0 66.3)" fill="#000" opacity="0.54"/><ellipse cx="23.8" cy="27.5" rx="1.7" ry="0.9" transform="rotate(81 23.8 27.5)" fill="#000" opacity="0.32"/><ellipse cx="35.9" cy="56.4" rx="2.2" ry="1.7" transform="rotate(68 35.9 56.4)" fill="#fff" opacity="0.26"/><ellipse cx="57.5" cy="71.0" rx="1.0" ry="0.7" transform="rotate(131 57.5 71.0)" fill="#000" opacity="0.40"/><ellipse cx="60.1" cy="63.7" rx="1.5" ry="0.6" transform="rotate(123 60.1 63.7)" fill="#fff" opacity="0.13"/><ellipse cx="99.4" cy="37.2" rx="2.3" ry="1.8" transform="rotate(26 99.4 37.2)" fill="#fff" opacity="0.24"/><ellipse cx="17.6" cy="12.0" rx="0.9" ry="0.7" transform="rotate(160 17.6 12.0)" fill="#000" opacity="0.45"/><ellipse cx="23.8" cy="41.8" rx="0.9" ry="0.4" transform="rotate(164 23.8 41.8)" fill="#000" opacity="0.45"/><ellipse cx="22.5" cy="47.2" rx="2.3" ry="1.4" transform="rotate(95 22.5 47.2)" fill="#000" opacity="0.59"/><ellipse cx="29.5" cy="27.9" rx="1.6" ry="0.9" transform="rotate(178 29.5 27.9)" fill="#fff" opacity="0.10"/><ellipse cx="55.3" cy="72.2" rx="2.3" ry="1.0" transform="rotate(179 55.3 72.2)" fill="#000" opacity="0.41"/><ellipse cx="24.4" cy="18.7" rx="1.6" ry="0.9" transform="rotate(37 24.4 18.7)" fill="#000" opacity="0.51"/><ellipse cx="15.4" cy="49.9" rx="1.0" ry="0.6" transform="rotate(34 15.4 49.9)" fill="#fff" opacity="0.20"/><ellipse cx="80.8" cy="41.2" rx="1.0" ry="0.4" transform="rotate(156 80.8 41.2)" fill="#000" opacity="0.41"/><ellipse cx="38.7" cy="15.0" rx="1.7" ry="0.6" transform="rotate(140 38.7 15.0)" fill="#fff" opacity="0.16"/><ellipse cx="96.5" cy="9.1" rx="1.3" ry="0.9" transform="rotate(113 96.5 9.1)" fill="#000" opacity="0.63"/><ellipse cx="45.6" cy="58.7" rx="1.2" ry="0.8" transform="rotate(149 45.6 58.7)" fill="#fff" opacity="0.24"/><ellipse cx="35.2" cy="13.2" rx="1.0" ry="0.5" transform="rotate(146 35.2 13.2)" fill="#000" opacity="0.55"/><ellipse cx="35.5" cy="23.9" rx="1.1" ry="0.4" transform="rotate(82 35.5 23.9)" fill="#000" opacity="0.62"/><ellipse cx="75.5" cy="65.7" rx="1.7" ry="1.2" transform="rotate(112 75.5 65.7)" fill="#000" opacity="0.61"/><ellipse cx="9.7" cy="7.4" rx="1.1" ry="0.6" transform="rotate(79 9.7 7.4)" fill="#fff" opacity="0.22"/><ellipse cx="62.7" cy="28.8" rx="2.2" ry="1.0" transform="rotate(60 62.7 28.8)" fill="#000" opacity="0.40"/><ellipse cx="19.9" cy="8.8" rx="1.4" ry="0.9" transform="rotate(65 19.9 8.8)" fill="#000" opacity="0.56"/><ellipse cx="55.6" cy="73.7" rx="2.0" ry="0.8" transform="rotate(164 55.6 73.7)" fill="#000" opacity="0.61"/><ellipse cx="85.8" cy="63.7" rx="1.2" ry="0.6" transform="rotate(118 85.8 63.7)" fill="#000" opacity="0.61"/><ellipse cx="43.5" cy="53.1" rx="1.4" ry="0.7" transform="rotate(114 43.5 53.1)" fill="#000" opacity="0.45"/><ellipse cx="43.7" cy="31.5" rx="1.3" ry="0.7" transform="rotate(101 43.7 31.5)" fill="#fff" opacity="0.17"/><ellipse cx="65.5" cy="30.3" rx="2.1" ry="1.0" transform="rotate(82 65.5 30.3)" fill="#000" opacity="0.43"/><ellipse cx="49.9" cy="67.2" rx="2.3" ry="0.9" transform="rotate(144 49.9 67.2)" fill="#000" opacity="0.50"/><ellipse cx="20.5" cy="23.5" rx="1.5" ry="0.6" transform="rotate(157 20.5 23.5)" fill="#000" opacity="0.69"/><ellipse cx="7.6" cy="16.1" rx="2.3" ry="1.4" transform="rotate(46 7.6 16.1)" fill="#000" opacity="0.54"/><ellipse cx="72.5" cy="65.8" rx="1.2" ry="0.6" transform="rotate(119 72.5 65.8)" fill="#000" opacity="0.51"/><ellipse cx="61.0" cy="39.1" rx="0.8" ry="0.6" transform="rotate(95 61.0 39.1)" fill="#fff" opacity="0.12"/><ellipse cx="44.0" cy="61.3" rx="2.1" ry="1.5" transform="rotate(172 44.0 61.3)" fill="#000" opacity="0.41"/><ellipse cx="20.0" cy="44.4" rx="1.6" ry="0.7" transform="rotate(171 20.0 44.4)" fill="#fff" opacity="0.13"/><ellipse cx="19.4" cy="40.4" rx="2.0" ry="0.9" transform="rotate(38 19.4 40.4)" fill="#000" opacity="0.66"/><ellipse cx="48.3" cy="67.5" rx="1.8" ry="1.0" transform="rotate(48 48.3 67.5)" fill="#fff" opacity="0.17"/><ellipse cx="91.7" cy="50.9" rx="2.0" ry="1.5" transform="rotate(152 91.7 50.9)" fill="#fff" opacity="0.13"/><ellipse cx="2.1" cy="51.0" rx="1.1" ry="0.7" transform="rotate(149 2.1 51.0)" fill="#fff" opacity="0.25"/><ellipse cx="31.7" cy="40.7" rx="2.2" ry="0.8" transform="rotate(40 31.7 40.7)" fill="#fff" opacity="0.25"/><ellipse cx="89.9" cy="36.1" rx="1.0" ry="0.7" transform="rotate(53 89.9 36.1)" fill="#000" opacity="0.68"/><ellipse cx="76.4" cy="48.7" rx="1.8" ry="1.0" transform="rotate(96 76.4 48.7)" fill="#000" opacity="0.59"/><ellipse cx="91.8" cy="6.9" rx="1.2" ry="0.8" transform="rotate(151 91.8 6.9)" fill="#000" opacity="0.47"/><ellipse cx="23.7" cy="49.0" rx="0.9" ry="0.4" transform="rotate(147 23.7 49.0)" fill="#000" opacity="0.54"/><ellipse cx="17.5" cy="9.9" rx="2.1" ry="0.9" transform="rotate(92 17.5 9.9)" fill="#000" opacity="0.47"/><ellipse cx="33.6" cy="44.4" rx="1.7" ry="0.7" transform="rotate(61 33.6 44.4)" fill="#000" opacity="0.54"/><ellipse cx="27.3" cy="41.4" rx="1.5" ry="0.6" transform="rotate(27 27.3 41.4)" fill="#000" opacity="0.56"/><ellipse cx="29.6" cy="32.8" rx="1.1" ry="0.4" transform="rotate(49 29.6 32.8)" fill="#fff" opacity="0.17"/><ellipse cx="9.6" cy="59.5" rx="1.5" ry="0.5" transform="rotate(117 9.6 59.5)" fill="#fff" opacity="0.22"/><ellipse cx="44.6" cy="41.4" rx="1.4" ry="1.0" transform="rotate(53 44.6 41.4)" fill="#fff" opacity="0.20"/><ellipse cx="69.9" cy="20.8" rx="1.6" ry="1.1" transform="rotate(20 69.9 20.8)" fill="#000" opacity="0.43"/><ellipse cx="50.2" cy="24.9" rx="2.1" ry="1.3" transform="rotate(74 50.2 24.9)" fill="#fff" opacity="0.24"/><ellipse cx="31.6" cy="21.0" rx="0.9" ry="0.6" transform="rotate(156 31.6 21.0)" fill="#000" opacity="0.70"/><ellipse cx="43.0" cy="67.3" rx="1.8" ry="0.8" transform="rotate(63 43.0 67.3)" fill="#fff" opacity="0.16"/><ellipse cx="27.2" cy="28.8" rx="2.3" ry="0.9" transform="rotate(82 27.2 28.8)" fill="#000" opacity="0.62"/><ellipse cx="3.5" cy="61.4" rx="1.3" ry="0.8" transform="rotate(106 3.5 61.4)" fill="#000" opacity="0.67"/><ellipse cx="75.4" cy="15.6" rx="1.3" ry="0.6" transform="rotate(16 75.4 15.6)" fill="#fff" opacity="0.14"/><ellipse cx="97.6" cy="47.5" rx="2.2" ry="1.7" transform="rotate(154 97.6 47.5)" fill="#000" opacity="0.44"/><ellipse cx="31.9" cy="33.7" rx="2.2" ry="1.0" transform="rotate(91 31.9 33.7)" fill="#000" opacity="0.33"/><ellipse cx="65.4" cy="6.8" rx="1.2" ry="0.8" transform="rotate(122 65.4 6.8)" fill="#000" opacity="0.56"/><ellipse cx="88.3" cy="59.8" rx="1.2" ry="0.9" transform="rotate(5 88.3 59.8)" fill="#000" opacity="0.46"/><ellipse cx="23.7" cy="27.4" rx="2.0" ry="1.5" transform="rotate(84 23.7 27.4)" fill="#000" opacity="0.43"/><ellipse cx="86.0" cy="69.8" rx="1.9" ry="1.0" transform="rotate(50 86.0 69.8)" fill="#fff" opacity="0.25"/><ellipse cx="82.2" cy="20.3" rx="1.0" ry="0.8" transform="rotate(148 82.2 20.3)" fill="#000" opacity="0.31"/><ellipse cx="80.1" cy="22.3" rx="1.6" ry="0.7" transform="rotate(153 80.1 22.3)" fill="#000" opacity="0.31"/><ellipse cx="67.2" cy="20.9" rx="2.0" ry="0.9" transform="rotate(96 67.2 20.9)" fill="#000" opacity="0.44"/><ellipse cx="11.9" cy="31.0" rx="0.9" ry="0.6" transform="rotate(55 11.9 31.0)" fill="#fff" opacity="0.19"/><ellipse cx="43.7" cy="50.9" rx="1.5" ry="0.6" transform="rotate(0 43.7 50.9)" fill="#000" opacity="0.53"/><ellipse cx="38.9" cy="20.4" rx="1.9" ry="1.4" transform="rotate(108 38.9 20.4)" fill="#fff" opacity="0.16"/><ellipse cx="85.5" cy="32.4" rx="1.9" ry="0.7" transform="rotate(105 85.5 32.4)" fill="#000" opacity="0.65"/><ellipse cx="84.0" cy="31.0" rx="1.3" ry="0.8" transform="rotate(74 84.0 31.0)" fill="#000" opacity="0.46"/><ellipse cx="92.4" cy="72.2" rx="1.5" ry="1.0" transform="rotate(161 92.4 72.2)" fill="#000" opacity="0.48"/><ellipse cx="32.0" cy="5.6" rx="0.9" ry="0.5" transform="rotate(23 32.0 5.6)" fill="#000" opacity="0.64"/><ellipse cx="31.2" cy="40.1" rx="2.3" ry="1.3" transform="rotate(145 31.2 40.1)" fill="#000" opacity="0.42"/><ellipse cx="24.5" cy="57.5" rx="1.6" ry="0.7" transform="rotate(54 24.5 57.5)" fill="#000" opacity="0.44"/></g></g></g><g filter="url(#blurT)"><ellipse cx="41.8" cy="66.5" rx="5.2" ry="5.2" fill="#000" opacity="0.85"/><ellipse cx="57.2" cy="61.1" rx="5.2" ry="5.2" fill="#000" opacity="0.85"/><ellipse cx="100.0" cy="32.3" rx="3.4" ry="9.2" fill="#000" opacity="0.85"/><ellipse cx="70.0" cy="20.0" rx="2.1" ry="2.1" fill="#000" opacity="0.85"/><ellipse cx="84.0" cy="22.0" rx="2.1" ry="2.1" fill="#000" opacity="0.85"/><ellipse cx="30.0" cy="32.0" rx="2.1" ry="2.1" fill="#000" opacity="0.85"/><ellipse cx="15.0" cy="50.0" rx="2.3" ry="2.3" fill="#000" opacity="0.85"/><ellipse cx="50.0" cy="45.0" rx="2.1" ry="2.1" fill="#000" opacity="0.85"/><ellipse cx="88.0" cy="40.0" rx="2.3" ry="2.3" fill="#000" opacity="0.85"/></g><g filter="url(#blurS)"><circle cx="23.1" cy="41.1" r="1.6" fill="#fff" opacity="0.85"/><circle cx="22.1" cy="42.5" r="1.5" fill="#fff" opacity="0.85"/><circle cx="21.7" cy="40.6" r="1.9" fill="#fff" opacity="0.85"/><circle cx="76.7" cy="48.8" r="1.7" fill="#fff" opacity="0.85"/><circle cx="76.2" cy="49.3" r="1.4" fill="#fff" opacity="0.85"/><circle cx="76.6" cy="49.6" r="1.5" fill="#fff" opacity="0.85"/><circle cx="73.4" cy="54.3" r="1.6" fill="#fff" opacity="0.85"/><circle cx="73.7" cy="53.6" r="1.2" fill="#fff" opacity="0.85"/><circle cx="73.3" cy="53.7" r="1.2" fill="#fff" opacity="0.85"/><circle cx="69.7" cy="60.1" r="1.7" fill="#fff" opacity="0.85"/><circle cx="71.3" cy="59.7" r="2.1" fill="#fff" opacity="0.85"/><circle cx="70.1" cy="60.2" r="1.4" fill="#fff" opacity="0.85"/><circle cx="72.5" cy="66.9" r="1.5" fill="#fff" opacity="0.85"/><circle cx="71.9" cy="67.0" r="1.6" fill="#fff" opacity="0.85"/><circle cx="72.1" cy="66.7" r="1.2" fill="#fff" opacity="0.85"/><circle cx="81.6" cy="58.1" r="1.2" fill="#fff" opacity="0.85"/><circle cx="81.8" cy="58.1" r="1.2" fill="#fff" opacity="0.85"/><circle cx="83.1" cy="58.8" r="1.1" fill="#fff" opacity="0.85"/><circle cx="89.8" cy="56.6" r="1.4" fill="#fff" opacity="0.85"/><circle cx="89.6" cy="55.3" r="1.2" fill="#fff" opacity="0.85"/><circle cx="89.8" cy="56.2" r="1.2" fill="#fff" opacity="0.85"/><circle cx="28.8" cy="68.8" r="0.8" fill="#fff" opacity="0.85"/><circle cx="26.8" cy="68.6" r="1.0" fill="#fff" opacity="0.85"/><circle cx="26.8" cy="70.0" r="1.0" fill="#fff" opacity="0.85"/><circle cx="77.4" cy="62.0" r="1.3" fill="#fff" opacity="0.85"/><circle cx="78.1" cy="61.6" r="1.3" fill="#fff" opacity="0.85"/><circle cx="78.6" cy="63.3" r="1.1" fill="#fff" opacity="0.85"/><circle cx="69.2" cy="63.0" r="1.2" fill="#fff" opacity="0.85"/><circle cx="69.8" cy="65.1" r="1.5" fill="#fff" opacity="0.85"/><circle cx="68.2" cy="63.5" r="1.4" fill="#fff" opacity="0.85"/><circle cx="76.1" cy="57.3" r="1.0" fill="#fff" opacity="0.85"/><circle cx="74.5" cy="57.6" r="1.0" fill="#fff" opacity="0.85"/><circle cx="74.0" cy="57.4" r="1.3" fill="#fff" opacity="0.85"/></g></g></defs>
<defs><filter id="gNC" x="0" y="0" width="100%" height="100%" color-interpolation-filters="sRGB"><feColorMatrix type="matrix" values="0.2 0 0 0 0.01  0 1.0 0 0 0.07  0 0 0.18 0 0.01  0 0 0 1 0"/></filter></defs>
<defs><filter id="rNC" x="0" y="0" width="100%" height="100%" color-interpolation-filters="sRGB"><feColorMatrix type="matrix" values="0.72 0 0 0 0.02  0 0.07 0 0 0  0 0 0.05 0 0  0 0 0 1 0"/></filter></defs>
<defs><filter id="mNC" x="0" y="0" width="100%" height="100%" color-interpolation-filters="sRGB"><feColorMatrix type="matrix" values="0.55 0 0 0 0.0  0 0.85 0 0 0.07  0 0 0.12 0 0.0  0 0 0 1 0"/></filter></defs>
<defs><filter id="gCD" x="0" y="0" width="100%" height="100%" color-interpolation-filters="sRGB"><feColorMatrix type="matrix" values="0.1 0 0 0 0.0  0 0.58 0 0 0.01  0 0 0.08 0 0.0  0 0 0 1 0"/></filter></defs>
<defs><filter id="rCD" x="0" y="0" width="100%" height="100%" color-interpolation-filters="sRGB"><feColorMatrix type="matrix" values="1.32 0 0 0 0.02  0 0.11 0 0 0  0 0 0.07 0 0  0 0 0 1 0"/></filter></defs>
<defs><filter id="mCD" x="0" y="0" width="100%" height="100%" color-interpolation-filters="sRGB"><feColorMatrix type="matrix" values="1.1 0 0 0 0.0  0 0.58 0 0 0.0  0 0 0.06 0 0.0  0 0 0 1 0"/></filter></defs>
<svg x="35.5" y="561.6" width="77.6" height="57.3" viewBox="0 0 100 74" preserveAspectRatio="none" overflow="hidden"><rect width="100" height="74" fill="#000"/><use href="#nucNC" fill="#0C0CFA" filter="url(#blurN)"/><rect x="88" y="71.2" width="9" height="0.4" fill="#bbb"/></svg>
<svg x="116.1" y="561.6" width="77.6" height="57.3" viewBox="0 0 100 74" preserveAspectRatio="none" overflow="hidden"><use href="#tisNC" filter="url(#gNC)"/><rect x="88" y="71.2" width="9" height="0.4" fill="#bbb"/></svg>
<svg x="196.9" y="561.6" width="77.6" height="57.3" viewBox="0 0 100 74" preserveAspectRatio="none" overflow="hidden"><use href="#tisNC" filter="url(#rNC)"/><rect x="88" y="71.2" width="9" height="0.4" fill="#bbb"/></svg>
<svg x="277.4" y="561.6" width="77.6" height="57.3" viewBox="0 0 100 74" preserveAspectRatio="none" overflow="hidden"><use href="#tisNC" filter="url(#mNC)"/><use href="#nucNC" fill="#2450F2" filter="url(#blurN)" opacity="0.95"/><circle cx="23.4" cy="58.8" r="1.3" fill="#E8FFE0" opacity="0.9"/><circle cx="34.2" cy="60.3" r="1.3" fill="#E8FFE0" opacity="0.9"/><circle cx="26.5" cy="71.2" r="1.3" fill="#E8FFE0" opacity="0.9"/><circle cx="74.2" cy="60.3" r="1.1" fill="#E8FFE0" opacity="0.9"/><circle cx="71.0" cy="66.6" r="1.3" fill="#E8FFE0" opacity="0.9"/><circle cx="69.5" cy="72.0" r="1.3" fill="#E8FFE0" opacity="0.9"/><circle cx="73.4" cy="40.1" r="0.7" fill="#E8FFE0" opacity="0.9"/><circle cx="38.8" cy="57.2" r="0.9" fill="#E8FFE0" opacity="0.9"/><circle cx="24.0" cy="66.0" r="0.9" fill="#E8FFE0" opacity="0.9"/><circle cx="30.0" cy="63.0" r="1.0" fill="#E8FFE0" opacity="0.9"/><circle cx="72.0" cy="63.0" r="1.0" fill="#E8FFE0" opacity="0.9"/><rect x="86.1" y="70.1" width="11.6" height="1.9" fill="#fff"/><text x="89.6" y="66.8" font-family="Liberation Serif" font-size="7.6" fill="#fff" text-anchor="middle" textLength="18.5" lengthAdjust="spacingAndGlyphs">20µm</text></svg>
<svg x="35.5" y="621.6" width="77.6" height="57.3" viewBox="0 0 100 74" preserveAspectRatio="none" overflow="hidden"><rect width="100" height="74" fill="#000"/><use href="#nucCD" fill="#1212E0" filter="url(#blurN)"/><rect x="88" y="71.2" width="9" height="0.4" fill="#bbb"/></svg>
<svg x="116.1" y="621.6" width="77.6" height="57.3" viewBox="0 0 100 74" preserveAspectRatio="none" overflow="hidden"><use href="#tisCD" filter="url(#gCD)"/><rect x="88" y="71.2" width="9" height="0.4" fill="#bbb"/></svg>
<svg x="196.9" y="621.6" width="77.6" height="57.3" viewBox="0 0 100 74" preserveAspectRatio="none" overflow="hidden"><use href="#tisCD" filter="url(#rCD)"/><rect x="88" y="71.2" width="9" height="0.4" fill="#bbb"/></svg>
<svg x="277.4" y="621.6" width="77.6" height="57.3" viewBox="0 0 100 74" preserveAspectRatio="none" overflow="hidden"><use href="#tisCD" filter="url(#mCD)"/><use href="#nucCD" fill="#3A36E4" filter="url(#blurN)" opacity="0.85"/><circle cx="22.6" cy="41.7" r="1.5" fill="#FFF0B0" opacity="0.9"/><circle cx="75.7" cy="49.4" r="1.2" fill="#FFF0B0" opacity="0.9"/><circle cx="74.2" cy="54.1" r="1.2" fill="#FFF0B0" opacity="0.9"/><circle cx="71.0" cy="60.3" r="1.5" fill="#FFF0B0" opacity="0.9"/><circle cx="72.6" cy="67.3" r="1.3" fill="#FFF0B0" opacity="0.9"/><circle cx="81.8" cy="58.8" r="1.0" fill="#FFF0B0" opacity="0.9"/><circle cx="89.5" cy="56.4" r="1.0" fill="#FFF0B0" opacity="0.9"/><circle cx="28.0" cy="68.9" r="0.8" fill="#FFF0B0" opacity="0.9"/><circle cx="78.0" cy="62.0" r="1.0" fill="#FFF0B0" opacity="0.9"/><circle cx="69.0" cy="64.0" r="1.1" fill="#FFF0B0" opacity="0.9"/><circle cx="75.0" cy="58.0" r="1.0" fill="#FFF0B0" opacity="0.9"/><rect x="86.1" y="70.1" width="11.6" height="1.9" fill="#fff"/><text x="89.6" y="66.8" font-family="Liberation Serif" font-size="7.6" fill="#fff" text-anchor="middle" textLength="18.5" lengthAdjust="spacingAndGlyphs">20µm</text></svg>
</svg>
</body></html>
